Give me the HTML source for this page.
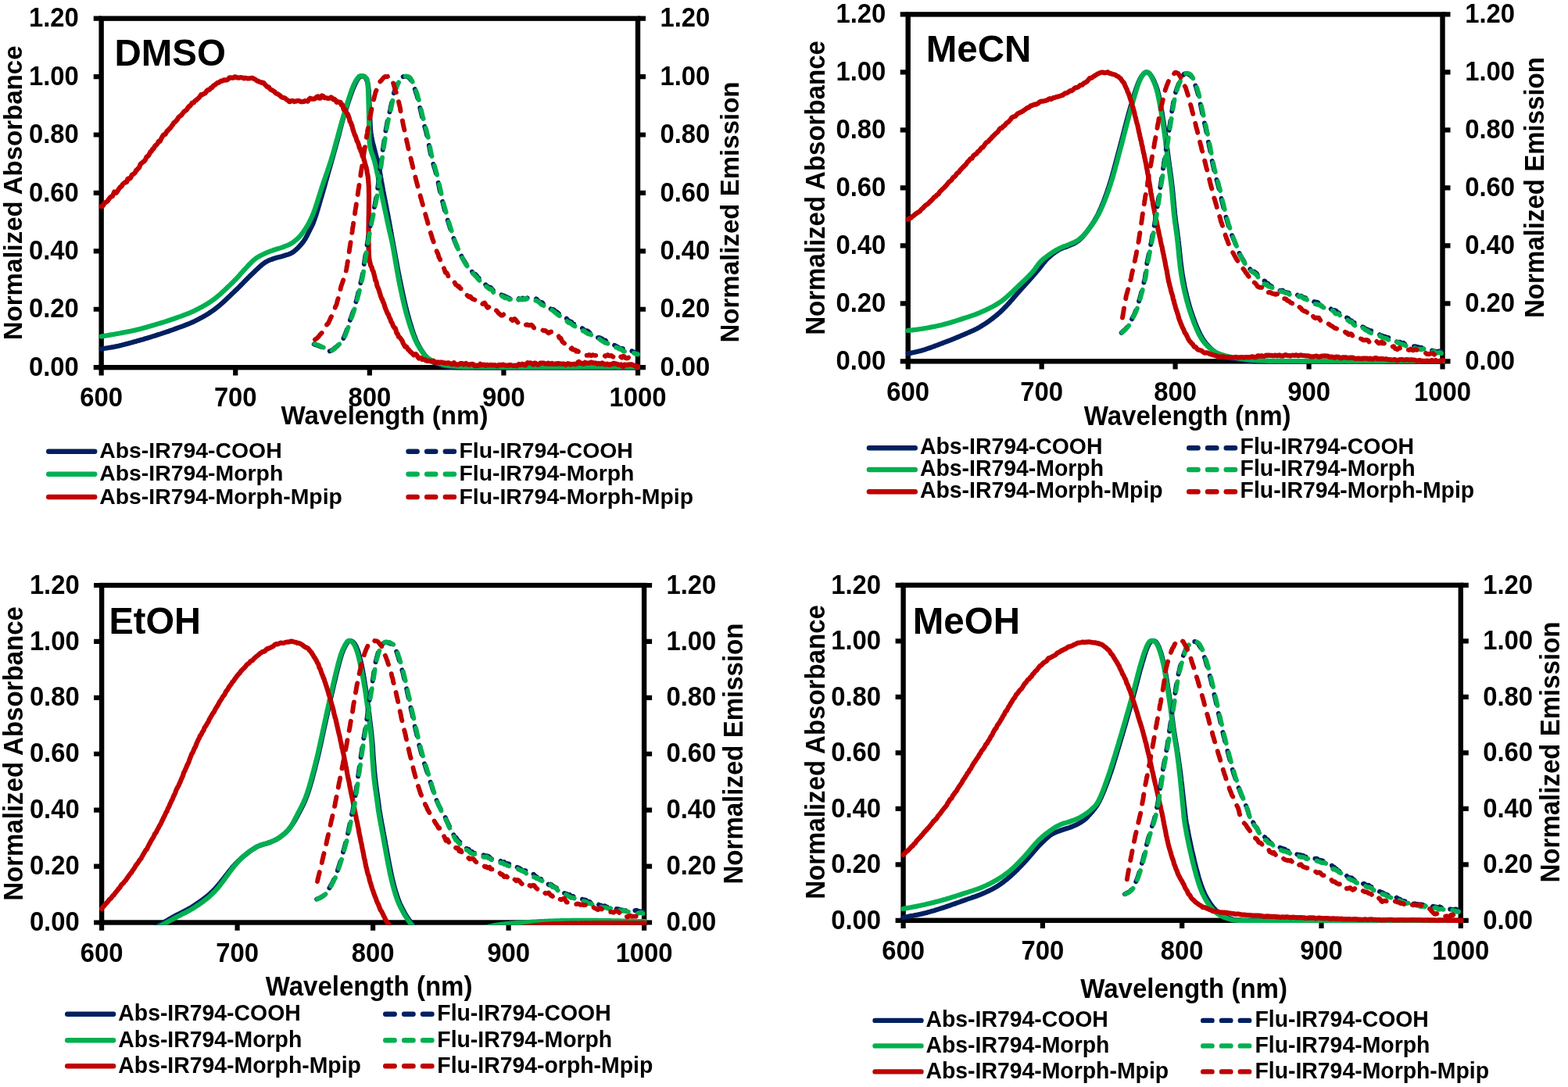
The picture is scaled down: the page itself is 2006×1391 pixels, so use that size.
<!DOCTYPE html>
<html lang="en"><head><meta charset="utf-8"><title>Normalized absorbance and emission spectra</title>
<style>html,body{margin:0;padding:0;background:#fff;}svg{display:block;}</style></head><body>
<svg width="2006" height="1391" viewBox="0 0 2006 1391">
<rect width="2006" height="1391" fill="#fff"/>
<g id="panel1">
<g stroke="#000" fill="none" stroke-linecap="butt">
<rect x="129.65" y="23.65" width="686.35" height="446.55" stroke-width="6.4"/>
<path d="M119.7 470.20H129.7M816.0 470.20H826.0M119.7 395.77H129.7M816.0 395.77H826.0M119.7 321.35H129.7M816.0 321.35H826.0M119.7 246.92H129.7M816.0 246.92H826.0M119.7 172.50H129.7M816.0 172.50H826.0M119.7 98.07H129.7M816.0 98.07H826.0M119.7 23.65H129.7M816.0 23.65H826.0M129.65 470.2V480.4M301.24 470.2V480.4M472.83 470.2V480.4M644.41 470.2V480.4M816.00 470.2V480.4" stroke-width="6.2"/>
</g>
<clipPath id="cp1"><rect x="126.2" y="20.6" width="693.1" height="452.9"/></clipPath>
<g fill="none" stroke-linejoin="round" stroke-linecap="round" clip-path="url(#cp1)">
<path d="M129.6 446.5L130.5 446.4L131.6 446.2L132.8 446.0L134.2 445.8L135.8 445.5L137.4 445.3L139.1 445.0L140.9 444.7L142.7 444.4L144.6 444.1L146.4 443.7L148.2 443.4L150.0 443.0L151.4 442.7L152.7 442.4L154.1 442.0L155.6 441.7L157.0 441.3L158.5 441.0L160.0 440.6L161.5 440.2L163.0 439.8L164.5 439.4L166.0 439.0L167.5 438.6L169.0 438.2L170.5 437.7L172.0 437.3L173.5 436.9L175.0 436.5L176.5 436.1L177.9 435.7L179.4 435.2L180.9 434.8L182.4 434.4L183.8 434.0L185.3 433.5L186.8 433.1L188.2 432.7L189.7 432.2L191.2 431.8L192.6 431.3L194.1 430.9L195.6 430.4L197.1 429.9L198.5 429.5L200.0 429.0L201.5 428.5L202.9 428.1L204.4 427.6L205.9 427.1L207.4 426.6L208.8 426.1L210.3 425.6L211.8 425.2L213.2 424.7L214.7 424.2L216.2 423.7L217.6 423.1L219.1 422.6L220.6 422.1L222.1 421.6L223.5 421.0L225.0 420.5L226.5 420.0L227.9 419.4L229.4 418.9L230.9 418.4L232.4 417.8L233.8 417.3L235.3 416.7L236.8 416.2L238.2 415.6L239.7 415.0L241.2 414.5L242.6 413.9L244.1 413.2L245.6 412.6L247.1 411.9L248.5 411.2L250.0 410.5L251.3 409.8L252.6 409.2L253.9 408.5L255.3 407.8L256.6 407.1L257.9 406.4L259.2 405.7L260.5 404.9L261.8 404.2L263.2 403.4L264.5 402.6L265.8 401.8L267.1 401.0L268.4 400.1L269.7 399.2L271.1 398.3L272.4 397.4L273.7 396.5L275.0 395.5L276.1 394.6L277.3 393.7L278.4 392.8L279.6 391.8L280.8 390.8L282.0 389.8L283.1 388.8L284.3 387.8L285.5 386.7L286.6 385.6L287.8 384.6L289.0 383.5L290.1 382.4L291.3 381.3L292.4 380.2L293.5 379.2L294.7 378.1L295.8 377.0L296.8 376.0L297.9 375.0L299.0 374.0L300.0 373.0L301.2 371.8L302.5 370.6L303.7 369.5L304.8 368.3L306.0 367.2L307.1 366.0L308.3 364.9L309.4 363.7L310.5 362.6L311.6 361.5L312.6 360.4L313.7 359.3L314.8 358.2L315.8 357.1L316.9 356.1L317.9 355.0L319.0 354.0L320.0 353.0L321.2 351.8L322.5 350.6L323.7 349.4L325.0 348.2L326.2 347.0L327.4 345.8L328.6 344.7L329.8 343.6L331.0 342.5L332.1 341.4L333.3 340.4L334.4 339.5L335.4 338.6L336.5 337.8L337.5 337.0L339.1 335.9L340.6 334.9L342.0 334.2L343.4 333.5L344.7 332.9L346.0 332.4L347.3 332.0L348.6 331.5L350.0 331.0L351.6 330.5L353.1 330.0L354.7 329.6L356.2 329.2L357.8 328.8L359.4 328.4L360.9 328.0L362.5 327.5L364.1 327.0L365.6 326.5L367.2 326.1L368.8 325.6L370.3 325.0L371.9 324.3L373.4 323.5L375.0 322.5L376.2 321.7L377.3 320.7L378.5 319.7L379.7 318.6L380.9 317.5L382.1 316.3L383.2 315.0L384.4 313.8L385.5 312.5L386.5 311.3L387.5 310.0L388.4 308.7L389.3 307.4L390.2 306.1L391.0 304.7L391.7 303.4L392.5 302.0L393.2 300.6L393.9 299.2L394.6 297.8L395.3 296.4L396.0 295.0L396.7 293.6L397.4 292.2L398.1 291.0L398.7 289.7L399.3 288.4L399.9 287.1L400.6 285.6L401.2 284.0L401.9 282.1L402.7 280.0L403.1 278.8L403.5 277.6L403.9 276.3L404.4 275.0L404.8 273.6L405.3 272.1L405.7 270.6L406.2 269.1L406.7 267.5L407.1 265.9L407.6 264.3L408.1 262.7L408.6 261.1L409.0 259.5L409.5 257.9L410.0 256.2L410.4 254.6L410.9 253.1L411.4 251.5L411.8 250.0L412.2 248.5L412.7 247.0L413.1 245.6L413.5 244.2L413.9 242.7L414.3 241.3L414.7 239.9L415.1 238.5L415.5 237.1L415.9 235.6L416.3 234.2L416.7 232.7L417.1 231.2L417.6 229.7L418.0 228.2L418.4 226.6L418.9 225.0L419.3 223.4L419.8 221.7L420.3 220.0L420.7 218.7L421.1 217.3L421.4 215.9L421.8 214.5L422.3 213.1L422.7 211.6L423.1 210.1L423.5 208.6L424.0 207.0L424.4 205.5L424.8 203.9L425.3 202.4L425.7 200.8L426.2 199.2L426.6 197.6L427.0 196.1L427.5 194.5L427.9 193.0L428.3 191.4L428.8 189.9L429.2 188.4L429.6 186.9L430.0 185.5L430.4 184.1L430.8 182.7L431.1 181.3L431.5 180.0L432.0 178.3L432.4 176.6L432.8 175.0L433.3 173.4L433.7 171.8L434.1 170.3L434.4 168.8L434.8 167.4L435.2 165.9L435.5 164.5L435.9 163.1L436.3 161.7L436.6 160.2L437.0 158.8L437.4 157.4L437.8 156.0L438.2 154.5L438.6 153.0L439.0 151.5L439.5 150.0L439.9 148.6L440.4 147.1L440.8 145.6L441.3 144.1L441.8 142.6L442.3 141.0L442.8 139.4L443.3 137.9L443.8 136.3L444.3 134.7L444.8 133.2L445.3 131.6L445.8 130.1L446.3 128.6L446.8 127.1L447.3 125.7L447.8 124.3L448.2 122.9L448.7 121.6L449.1 120.3L449.6 119.1L450.0 118.0L450.7 116.0L451.4 114.2L452.1 112.5L452.8 110.9L453.4 109.4L454.1 108.0L454.7 106.7L455.3 105.5L455.8 104.4L456.4 103.3L457.0 102.4L457.5 101.5L459.0 99.5L460.4 98.3L461.7 97.8L463.0 97.5L464.8 97.5L466.5 98.2L468.0 100.0L468.5 100.9L469.0 102.0L469.4 103.1L469.9 104.4L470.3 105.9L470.6 107.7L471.0 109.7L471.3 112.0L471.4 113.2L471.5 114.4L471.7 115.7L471.8 117.1L471.8 118.6L471.9 120.1L472.0 121.6L472.1 123.2L472.1 124.9L472.2 126.5L472.3 128.2L472.4 129.9L472.4 131.6L472.5 133.3L472.6 135.0L472.6 136.7L472.7 138.4L472.8 140.0L472.9 141.5L473.0 143.0L473.0 144.5L473.1 146.0L473.2 147.6L473.2 149.2L473.3 150.8L473.4 152.4L473.4 154.0L473.5 155.6L473.6 157.1L473.6 158.7L473.7 160.2L473.8 161.7L473.9 163.2L474.0 164.7L474.1 166.1L474.2 167.4L474.4 168.7L474.5 170.0L474.7 172.0L475.0 173.7L475.3 175.4L475.6 177.0L475.9 178.4L476.2 179.9L476.6 181.3L476.9 182.7L477.3 184.2L477.7 185.7L478.1 187.3L478.5 189.0L478.8 190.4L479.2 191.7L479.5 193.1L479.9 194.5L480.2 195.9L480.6 197.4L481.0 198.8L481.4 200.3L481.8 201.8L482.2 203.3L482.6 204.9L483.0 206.5L483.4 208.1L483.8 209.7L484.1 211.3L484.5 213.0L484.8 214.4L485.1 215.7L485.3 217.1L485.6 218.5L485.9 219.8L486.1 221.2L486.4 222.7L486.6 224.1L486.9 225.5L487.1 227.0L487.4 228.5L487.7 230.0L487.9 231.5L488.2 233.1L488.5 234.7L488.8 236.3L489.1 237.9L489.4 239.6L489.7 241.3L490.0 243.0L490.2 244.3L490.5 245.7L490.8 247.0L491.0 248.5L491.3 249.9L491.6 251.4L491.9 252.9L492.2 254.4L492.5 255.9L492.8 257.4L493.1 259.0L493.4 260.5L493.7 262.1L494.0 263.7L494.3 265.2L494.6 266.8L494.9 268.3L495.2 269.9L495.5 271.4L495.8 272.9L496.1 274.5L496.4 275.9L496.6 277.4L496.9 278.9L497.2 280.3L497.4 281.6L497.7 283.0L498.0 284.7L498.3 286.3L498.6 287.9L498.9 289.4L499.2 290.9L499.4 292.3L499.7 293.8L499.9 295.2L500.2 296.6L500.4 298.0L500.7 299.4L500.9 300.8L501.2 302.2L501.4 303.7L501.7 305.1L502.0 306.7L502.3 308.2L502.5 309.8L502.9 311.5L503.2 313.2L503.5 315.0L503.7 316.3L504.0 317.6L504.2 319.0L504.5 320.4L504.8 321.8L505.0 323.2L505.3 324.7L505.6 326.2L505.8 327.7L506.1 329.2L506.4 330.8L506.7 332.3L507.0 333.9L507.3 335.4L507.6 337.0L507.8 338.6L508.1 340.2L508.4 341.7L508.7 343.3L509.0 344.9L509.3 346.5L509.6 348.0L509.9 349.6L510.2 351.1L510.5 352.6L510.8 354.2L511.1 355.6L511.4 357.1L511.7 358.6L512.0 360.0L512.3 361.6L512.6 363.1L513.0 364.7L513.3 366.3L513.6 367.8L513.9 369.4L514.3 370.9L514.6 372.5L514.9 374.0L515.3 375.5L515.6 377.0L515.9 378.6L516.2 380.1L516.6 381.6L516.9 383.0L517.2 384.5L517.6 386.0L517.9 387.4L518.2 388.9L518.6 390.3L518.9 391.7L519.3 393.2L519.6 394.6L520.0 395.9L520.3 397.3L520.6 398.7L521.0 400.0L521.4 401.6L521.9 403.3L522.3 404.9L522.8 406.5L523.2 408.1L523.7 409.7L524.1 411.2L524.6 412.8L525.0 414.3L525.5 415.8L525.9 417.3L526.4 418.8L526.9 420.2L527.3 421.7L527.8 423.1L528.2 424.4L528.7 425.8L529.2 427.1L529.6 428.4L530.1 429.6L530.5 430.8L531.0 432.0L531.7 433.8L532.4 435.5L533.1 437.1L533.9 438.6L534.6 440.1L535.3 441.5L536.0 442.8L536.7 444.1L537.4 445.4L538.1 446.6L538.9 447.7L539.6 448.8L540.3 449.9L541.0 451.0L542.1 452.6L543.1 454.0L544.2 455.3L545.2 456.5L546.3 457.6L547.4 458.6L548.5 459.6L549.7 460.6L551.0 461.5L552.2 462.3L553.5 463.0L554.9 463.7L556.3 464.4L557.7 465.0L559.1 465.6L560.6 466.1L562.1 466.6L563.5 467.1L565.0 467.5L566.3 467.9L567.5 468.3L568.6 468.6L569.7 468.8L570.9 469.1L572.2 469.3L573.6 469.5L575.4 469.7L577.5 469.8L580.0 470.0L581.0 470.1L581.8 470.1L582.6 470.2L583.2 470.2L583.8 470.3L584.3 470.3L584.8 470.4L585.4 470.4L585.9 470.4L586.5 470.5L587.1 470.5L587.8 470.5L588.7 470.6L589.7 470.6L590.8 470.6L592.1 470.6L593.6 470.6L595.4 470.7L597.4 470.7L599.6 470.7L602.1 470.7L605.0 470.7L608.2 470.8L611.7 470.8L615.7 470.8L620.0 470.8L620.9 470.8L621.9 470.8L622.9 470.8L623.9 470.8L624.9 470.8L626.0 470.8L627.1 470.8L628.2 470.8L629.3 470.8L630.5 470.8L631.7 470.8L632.9 470.8L634.2 470.8L635.4 470.8L636.7 470.8L638.0 470.8L639.4 470.8L640.7 470.8L642.1 470.8L643.5 470.8L644.9 470.8L646.4 470.8L647.9 470.8L649.3 470.8L650.8 470.9L652.4 470.9L653.9 470.9L655.4 470.9L657.0 470.9L658.6 470.9L660.2 470.9L661.8 470.9L663.4 470.9L665.1 470.9L666.7 470.9L668.4 470.9L670.1 470.9L671.8 470.9L673.5 470.9L675.2 470.9L677.0 470.9L678.7 470.9L680.5 470.9L682.2 470.9L684.0 470.9L685.8 470.9L687.5 470.9L689.3 470.9L691.1 470.9L692.9 470.9L694.8 470.9L696.6 470.9L698.4 470.9L700.2 470.9L702.1 470.9L703.9 470.9L705.7 470.9L707.6 470.9L709.4 470.9L711.3 470.9L713.1 470.9L715.0 470.9L716.8 470.9L718.7 470.9L720.5 470.9L722.3 470.8L724.2 470.8L726.0 470.8L727.9 470.8L729.7 470.8L731.5 470.8L733.4 470.8L735.2 470.8L737.0 470.8L738.8 470.8L740.6 470.8L742.4 470.8L744.2 470.8L746.0 470.8L747.8 470.8L749.6 470.8L751.3 470.8L753.1 470.8L754.8 470.8L756.5 470.8L758.3 470.8L760.0 470.8L761.7 470.8L763.4 470.8L765.0 470.8L766.7 470.8L768.3 470.8L770.0 470.8L771.6 470.8L773.2 470.8L774.8 470.8L776.3 470.8L777.9 470.8L779.4 470.8L781.0 470.8L782.5 470.8L783.9 470.8L785.4 470.8L786.8 470.8L788.3 470.8L789.7 470.8L791.1 470.8L792.4 470.8L793.8 470.8L795.1 470.8L796.4 470.8L797.6 470.8L798.9 470.8L800.1 470.8L801.3 470.8L802.5 470.8L803.6 470.8L804.8 470.8L805.9 470.8L806.9 470.8L808.0 470.8L809.0 470.8L810.0 470.8L810.9 470.8L811.8 470.8L812.7 470.8L813.6 470.8L814.4 470.8L815.2 470.8L816.0 470.8" stroke="#002060" stroke-width="6.2"/>
<path d="M129.6 430.5L130.5 430.3L131.6 430.2L132.8 430.0L134.2 429.7L135.8 429.5L137.4 429.2L139.1 428.9L140.9 428.6L142.7 428.3L144.6 428.0L146.4 427.7L148.2 427.3L150.0 427.0L151.4 426.7L152.9 426.5L154.4 426.2L155.9 425.9L157.5 425.6L159.0 425.3L160.6 425.0L162.2 424.7L163.8 424.4L165.4 424.1L167.0 423.8L168.6 423.4L170.2 423.1L171.8 422.7L173.4 422.4L175.0 422.0L176.5 421.6L177.9 421.3L179.4 420.9L180.9 420.5L182.4 420.1L183.8 419.7L185.3 419.3L186.8 418.9L188.2 418.5L189.7 418.1L191.2 417.6L192.6 417.2L194.1 416.8L195.6 416.3L197.1 415.9L198.5 415.4L200.0 415.0L201.5 414.6L202.9 414.1L204.4 413.7L205.9 413.2L207.4 412.8L208.8 412.3L210.3 411.9L211.8 411.4L213.2 411.0L214.7 410.5L216.2 410.0L217.6 409.5L219.1 409.0L220.6 408.5L222.1 408.0L223.5 407.5L225.0 407.0L226.5 406.5L227.9 405.9L229.4 405.4L230.9 404.9L232.4 404.4L233.8 403.8L235.3 403.3L236.8 402.7L238.2 402.2L239.7 401.6L241.2 401.0L242.6 400.4L244.1 399.7L245.6 399.1L247.1 398.4L248.5 397.7L250.0 397.0L251.3 396.3L252.6 395.7L253.9 395.0L255.3 394.3L256.6 393.6L257.9 392.9L259.2 392.2L260.5 391.4L261.8 390.7L263.2 389.9L264.5 389.1L265.8 388.3L267.1 387.5L268.4 386.6L269.7 385.8L271.1 384.9L272.4 383.9L273.7 383.0L275.0 382.0L276.2 381.1L277.3 380.2L278.5 379.2L279.7 378.1L281.0 377.1L282.2 376.0L283.5 374.9L284.7 373.7L286.0 372.6L287.2 371.4L288.4 370.2L289.7 369.1L290.8 367.9L292.0 366.8L293.2 365.7L294.3 364.6L295.3 363.6L296.4 362.6L297.4 361.6L298.3 360.7L299.2 359.8L300.0 359.0L301.7 357.3L303.1 355.8L304.3 354.6L305.2 353.5L306.0 352.5L306.9 351.6L307.7 350.5L308.8 349.4L310.0 348.0L310.9 347.0L311.9 346.0L312.9 344.8L314.0 343.7L315.1 342.5L316.2 341.3L317.3 340.0L318.5 338.8L319.6 337.6L320.8 336.5L321.9 335.4L322.9 334.3L324.0 333.4L325.0 332.5L326.5 331.3L327.9 330.2L329.4 329.3L330.7 328.5L332.1 327.7L333.4 327.0L334.8 326.3L336.1 325.7L337.5 325.0L339.1 324.2L340.6 323.6L342.2 322.9L343.8 322.3L345.3 321.7L346.9 321.1L348.4 320.6L350.0 320.0L351.6 319.5L353.1 319.0L354.7 318.5L356.2 318.1L357.8 317.6L359.4 317.1L360.9 316.6L362.5 316.0L363.9 315.5L365.3 314.9L366.7 314.4L368.1 313.8L369.4 313.2L370.8 312.6L372.2 311.8L373.6 311.0L375.0 310.0L376.1 309.1L377.3 308.3L378.4 307.3L379.5 306.4L380.7 305.3L381.8 304.2L383.0 303.1L384.1 301.8L385.2 300.5L386.4 299.0L387.5 297.5L388.2 296.5L389.0 295.4L389.7 294.3L390.4 293.2L391.2 292.1L391.9 290.9L392.6 289.7L393.4 288.5L394.1 287.2L394.9 285.8L395.6 284.5L396.3 283.0L397.1 281.5L397.8 280.0L398.5 278.4L399.3 276.7L400.0 275.0L400.5 273.8L401.0 272.6L401.4 271.4L401.9 270.1L402.4 268.7L402.9 267.4L403.4 266.0L403.8 264.6L404.3 263.1L404.8 261.7L405.3 260.2L405.8 258.7L406.2 257.2L406.7 255.7L407.2 254.1L407.7 252.6L408.2 251.1L408.7 249.5L409.1 248.0L409.6 246.5L410.1 244.9L410.6 243.4L411.1 241.9L411.5 240.4L412.0 239.0L412.5 237.5L413.0 236.1L413.5 234.6L413.9 233.2L414.4 231.8L414.9 230.4L415.4 229.0L415.9 227.6L416.3 226.2L416.8 224.8L417.3 223.4L417.8 222.0L418.3 220.6L418.8 219.2L419.2 217.8L419.7 216.4L420.2 215.0L420.7 213.5L421.2 212.1L421.6 210.6L422.1 209.2L422.6 207.7L423.1 206.2L423.6 204.7L424.0 203.1L424.5 201.6L425.0 200.0L425.4 198.7L425.8 197.3L426.2 195.9L426.6 194.5L427.0 193.1L427.4 191.7L427.8 190.2L428.2 188.8L428.6 187.3L429.0 185.9L429.4 184.4L429.8 182.9L430.2 181.4L430.6 179.9L431.0 178.4L431.5 176.9L431.9 175.4L432.3 173.9L432.7 172.4L433.1 170.9L433.5 169.4L433.9 167.9L434.3 166.4L434.7 165.0L435.1 163.5L435.5 162.1L435.9 160.6L436.3 159.2L436.7 157.8L437.1 156.4L437.5 155.0L438.0 153.4L438.4 151.8L438.9 150.2L439.4 148.6L439.9 146.9L440.4 145.3L440.9 143.7L441.4 142.0L441.9 140.4L442.3 138.7L442.8 137.1L443.3 135.5L443.8 133.9L444.3 132.3L444.8 130.8L445.3 129.3L445.7 127.8L446.2 126.3L446.7 124.9L447.1 123.5L447.6 122.1L448.0 120.8L448.4 119.5L448.8 118.3L449.2 117.2L449.6 116.0L450.0 115.0L450.9 112.7L451.7 110.6L452.5 108.8L453.2 107.2L453.9 105.8L454.5 104.6L455.2 103.5L455.8 102.5L456.4 101.7L456.9 100.8L457.5 100.0L459.4 97.9L460.9 97.2L462.5 97.0L464.2 97.1L466.0 97.7L467.5 99.0L468.1 99.6L468.7 100.1L469.2 100.7L469.7 101.9L470.1 104.0L470.5 107.5L470.6 108.5L470.7 109.5L470.7 110.6L470.8 111.9L470.9 113.1L470.9 114.5L471.0 115.9L471.1 117.4L471.1 118.9L471.2 120.5L471.2 122.1L471.3 123.7L471.3 125.4L471.4 127.1L471.4 128.8L471.5 130.5L471.5 132.3L471.6 134.0L471.6 135.7L471.7 137.4L471.7 139.1L471.7 140.8L471.8 142.4L471.8 144.0L471.9 145.6L471.9 147.1L472.0 148.6L472.0 150.0L472.0 151.7L472.1 153.3L472.1 155.0L472.1 156.7L472.1 158.3L472.1 159.9L472.1 161.5L472.1 163.1L472.1 164.7L472.1 166.3L472.2 167.8L472.2 169.4L472.2 170.9L472.2 172.4L472.2 173.9L472.3 175.3L472.3 176.8L472.4 178.2L472.5 179.6L472.6 181.0L472.7 182.3L472.8 183.7L473.0 185.0L473.3 186.7L473.5 188.3L473.9 189.8L474.2 191.3L474.6 192.6L475.0 194.0L475.4 195.3L475.8 196.5L476.3 197.8L476.7 199.1L477.2 200.5L477.6 201.9L478.1 203.3L478.6 204.8L479.1 206.4L479.5 208.2L480.0 210.0L480.3 211.2L480.6 212.5L480.9 213.8L481.2 215.1L481.5 216.5L481.8 217.9L482.1 219.3L482.4 220.8L482.7 222.2L483.0 223.7L483.4 225.2L483.7 226.7L484.0 228.3L484.3 229.8L484.6 231.4L485.0 233.0L485.3 234.5L485.6 236.1L485.9 237.7L486.3 239.3L486.6 240.8L486.9 242.4L487.2 243.9L487.5 245.5L487.9 247.0L488.2 248.5L488.5 250.0L488.8 251.5L489.1 253.0L489.5 254.5L489.8 256.1L490.1 257.6L490.4 259.2L490.8 260.7L491.1 262.3L491.4 263.9L491.8 265.5L492.1 267.0L492.4 268.6L492.8 270.2L493.1 271.7L493.4 273.3L493.8 274.8L494.1 276.3L494.4 277.8L494.7 279.2L495.0 280.7L495.3 282.1L495.6 283.5L495.9 284.9L496.2 286.2L496.5 287.5L496.7 288.8L497.0 290.0L497.4 291.8L497.8 293.5L498.1 295.1L498.4 296.5L498.8 297.8L499.1 299.1L499.4 300.4L499.6 301.6L499.9 302.8L500.2 304.0L500.5 305.3L500.8 306.6L501.1 308.1L501.4 309.6L501.8 311.2L502.1 313.0L502.5 315.0L502.7 316.2L503.0 317.4L503.2 318.7L503.4 320.0L503.7 321.4L503.9 322.8L504.2 324.2L504.4 325.7L504.7 327.2L504.9 328.7L505.2 330.2L505.5 331.8L505.7 333.4L506.0 335.0L506.3 336.6L506.6 338.2L506.8 339.8L507.1 341.4L507.4 343.0L507.7 344.6L507.9 346.2L508.2 347.8L508.5 349.4L508.8 351.0L509.1 352.6L509.4 354.1L509.6 355.6L509.9 357.1L510.2 358.6L510.5 360.0L510.8 361.6L511.1 363.1L511.4 364.7L511.8 366.3L512.1 367.8L512.4 369.4L512.7 370.9L513.0 372.5L513.4 374.0L513.7 375.5L514.0 377.0L514.3 378.6L514.7 380.1L515.0 381.6L515.3 383.0L515.7 384.5L516.0 386.0L516.4 387.4L516.7 388.9L517.0 390.3L517.4 391.7L517.7 393.2L518.1 394.6L518.4 395.9L518.8 397.3L519.1 398.7L519.5 400.0L519.9 401.6L520.4 403.3L520.9 404.9L521.3 406.5L521.8 408.1L522.3 409.7L522.7 411.3L523.2 412.8L523.7 414.4L524.2 415.9L524.7 417.4L525.2 418.9L525.7 420.3L526.2 421.7L526.6 423.1L527.1 424.5L527.6 425.8L528.1 427.1L528.6 428.4L529.1 429.6L529.5 430.8L530.0 432.0L530.8 433.9L531.6 435.6L532.3 437.3L533.1 438.8L533.9 440.3L534.6 441.7L535.4 443.0L536.2 444.3L536.9 445.5L537.7 446.7L538.5 447.8L539.2 448.9L540.0 450.0L541.1 451.5L542.1 452.8L543.1 454.1L544.2 455.2L545.2 456.3L546.3 457.3L547.4 458.2L548.7 459.1L550.0 460.0L551.3 460.8L552.7 461.5L554.1 462.2L555.6 462.9L557.2 463.5L558.8 464.0L560.3 464.6L561.9 465.1L563.5 465.6L565.0 466.0L566.4 466.4L567.6 466.7L568.7 467.1L569.8 467.3L570.9 467.6L572.2 467.8L573.7 468.0L575.4 468.2L577.5 468.3L580.0 468.5L581.0 468.6L581.8 468.6L582.6 468.7L583.2 468.7L583.8 468.8L584.3 468.9L584.8 468.9L585.4 469.0L585.9 469.0L586.5 469.0L587.1 469.1L587.8 469.1L588.7 469.2L589.7 469.2L590.8 469.2L592.1 469.3L593.6 469.3L595.4 469.3L597.4 469.3L599.6 469.4L602.1 469.4L605.0 469.4L608.2 469.4L611.7 469.5L615.7 469.5L620.0 469.5L620.9 469.5L621.9 469.5L622.9 469.5L623.9 469.5L624.9 469.5L626.0 469.5L627.1 469.5L628.2 469.5L629.3 469.5L630.5 469.5L631.7 469.5L632.9 469.5L634.2 469.5L635.4 469.5L636.7 469.5L638.0 469.5L639.4 469.5L640.7 469.6L642.1 469.6L643.5 469.6L644.9 469.6L646.4 469.6L647.9 469.6L649.3 469.6L650.8 469.6L652.4 469.6L653.9 469.6L655.4 469.6L657.0 469.6L658.6 469.6L660.2 469.6L661.8 469.6L663.4 469.6L665.1 469.6L666.7 469.6L668.4 469.6L670.1 469.6L671.8 469.6L673.5 469.6L675.2 469.6L677.0 469.6L678.7 469.6L680.5 469.6L682.2 469.6L684.0 469.6L685.8 469.6L687.5 469.6L689.3 469.6L691.1 469.6L692.9 469.6L694.8 469.6L696.6 469.6L698.4 469.6L700.2 469.6L702.1 469.6L703.9 469.6L705.7 469.6L707.6 469.6L709.4 469.6L711.3 469.6L713.1 469.6L715.0 469.6L716.8 469.6L718.7 469.6L720.5 469.6L722.3 469.6L724.2 469.6L726.0 469.6L727.9 469.6L729.7 469.6L731.5 469.6L733.4 469.6L735.2 469.6L737.0 469.6L738.8 469.6L740.6 469.6L742.4 469.5L744.2 469.5L746.0 469.5L747.8 469.5L749.6 469.5L751.3 469.5L753.1 469.5L754.8 469.5L756.5 469.5L758.3 469.5L760.0 469.5L761.7 469.5L763.4 469.5L765.0 469.5L766.7 469.5L768.3 469.5L770.0 469.5L771.6 469.5L773.2 469.5L774.8 469.5L776.3 469.5L777.9 469.5L779.4 469.5L781.0 469.5L782.5 469.5L783.9 469.5L785.4 469.5L786.8 469.5L788.3 469.5L789.7 469.5L791.1 469.5L792.4 469.5L793.8 469.5L795.1 469.5L796.4 469.5L797.6 469.5L798.9 469.5L800.1 469.5L801.3 469.5L802.5 469.5L803.6 469.5L804.8 469.5L805.9 469.5L806.9 469.5L808.0 469.5L809.0 469.5L810.0 469.5L810.9 469.5L811.8 469.5L812.7 469.5L813.6 469.5L814.4 469.5L815.2 469.5L816.0 469.5" stroke="#00B050" stroke-width="6.2"/>
<path d="M129.6 264.0L130.2 263.6L130.9 264.0L131.6 263.1L132.5 262.1L133.4 260.3L134.4 259.4L135.4 258.7L136.5 258.3L137.7 257.2L138.8 255.6L140.0 253.9L141.3 252.3L142.5 251.4L143.8 251.2L145.0 248.6L146.3 245.5L147.6 246.6L148.8 246.9L150.0 245.0L151.0 243.5L151.9 241.9L152.9 240.7L153.9 239.2L154.9 238.9L155.9 238.0L157.0 235.7L158.0 234.8L159.0 234.2L160.1 233.1L161.1 233.4L162.2 232.8L163.3 229.0L164.4 228.3L165.4 228.9L166.5 228.2L167.6 226.8L168.6 223.9L169.7 223.3L170.8 222.7L171.8 222.0L172.9 220.8L174.0 218.1L175.0 218.0L175.9 216.5L176.9 215.5L177.8 214.8L178.7 212.9L179.6 210.3L180.6 209.3L181.5 208.6L182.4 207.8L183.3 206.9L184.3 206.7L185.2 205.5L186.1 204.2L187.0 201.9L188.0 200.2L188.9 200.0L189.8 199.3L190.7 197.9L191.7 195.9L192.6 193.9L193.5 194.0L194.4 192.5L195.4 190.5L196.3 190.5L197.2 189.2L198.1 187.0L199.1 186.4L200.0 185.2L201.0 184.5L201.9 183.0L202.9 180.9L203.8 181.3L204.8 180.7L205.8 178.4L206.7 176.6L207.7 174.7L208.7 173.4L209.6 172.2L210.6 171.9L211.5 171.8L212.5 169.9L213.5 168.0L214.4 167.3L215.4 166.3L216.3 165.3L217.3 164.3L218.3 163.2L219.2 162.1L220.2 160.2L221.2 159.4L222.1 157.4L223.1 156.5L224.0 156.0L225.0 155.1L226.0 153.9L227.1 152.7L228.1 150.6L229.2 149.4L230.2 148.6L231.2 148.0L232.3 147.2L233.3 145.6L234.4 144.2L235.4 143.0L236.5 142.1L237.5 141.6L238.5 140.8L239.6 139.4L240.6 137.5L241.7 136.2L242.7 136.1L243.8 134.6L244.8 133.3L245.8 131.5L246.9 131.5L247.9 131.3L249.0 129.6L250.0 128.6L251.2 128.1L252.4 126.9L253.7 125.8L254.9 124.7L256.2 122.8L257.4 121.0L258.7 121.3L260.0 120.4L261.2 119.8L262.5 119.4L263.7 117.5L265.0 115.8L266.2 114.8L267.4 115.2L268.6 114.2L269.7 112.6L270.9 112.3L272.0 110.9L273.0 109.7L274.0 109.1L275.0 108.7L276.8 107.0L278.4 105.9L279.9 105.7L281.4 104.6L282.8 103.5L284.1 103.7L285.3 102.9L286.5 102.3L287.7 102.7L288.9 102.3L290.0 102.5L291.9 101.4L293.6 99.3L295.2 99.3L296.7 99.7L298.3 99.7L300.0 98.4L301.4 98.3L302.8 99.4L304.3 99.4L305.8 99.7L307.3 99.1L308.9 99.2L310.4 99.5L312.0 100.4L313.6 99.7L315.2 100.1L316.8 100.5L318.5 100.3L320.1 100.1L321.8 99.8L323.4 99.8L325.0 101.1L326.4 101.5L327.8 102.7L329.2 103.6L330.6 103.9L332.0 104.8L333.4 105.1L334.7 105.9L336.1 105.5L337.5 106.1L338.8 108.2L340.0 109.0L341.2 110.6L342.5 111.4L343.8 111.4L345.0 113.4L346.2 114.6L347.5 115.0L348.8 115.9L350.0 116.5L351.4 117.5L352.8 119.3L354.2 119.8L355.6 120.5L356.9 121.3L358.3 122.4L359.7 123.8L361.1 124.8L362.5 125.0L364.0 125.2L365.6 126.4L367.1 127.8L368.6 128.5L370.1 130.1L371.7 129.9L373.3 128.9L375.0 129.1L376.4 130.1L377.9 129.6L379.5 129.4L381.1 128.8L382.7 129.0L384.2 129.9L385.8 130.3L387.3 130.1L388.7 130.0L390.0 129.0L392.0 129.3L393.7 129.7L395.3 127.3L396.9 125.7L398.4 126.4L400.0 126.7L401.7 126.7L403.3 125.9L405.0 124.0L406.7 123.3L408.3 125.7L410.0 125.6L411.7 122.5L413.4 123.0L415.1 125.2L416.8 125.2L418.4 125.5L420.0 126.0L421.7 125.7L423.4 124.5L425.0 125.3L426.5 127.3L428.0 126.9L429.4 128.2L430.7 130.8L432.0 130.7L433.4 130.4L435.0 131.4L435.7 131.0L436.5 134.0L437.3 134.7L438.1 134.1L439.0 137.9L439.8 140.3L440.7 139.3L441.6 140.7L442.4 142.6L443.3 144.6L444.2 145.0L445.0 146.3L445.5 147.6L446.1 149.5L446.6 150.9L447.1 152.6L447.6 155.2L448.2 156.4L448.7 156.5L449.2 157.9L449.7 160.0L450.3 160.5L450.8 162.9L451.3 165.0L451.8 166.5L452.4 168.5L452.9 169.6L453.4 171.4L453.9 172.9L454.5 173.2L455.0 174.7L455.5 176.4L456.1 178.4L456.6 180.7L457.2 180.7L457.7 181.8L458.3 183.5L458.9 185.2L459.4 187.4L460.0 189.6L460.6 189.5L461.1 190.8L461.6 193.6L462.2 194.3L462.7 195.7L463.2 197.6L463.7 199.4L464.1 200.6L464.6 200.1L465.0 201.1L465.5 203.8L466.0 205.6L466.5 206.9L466.9 209.3L467.3 210.1L467.7 211.4L468.1 213.8L468.5 213.9L468.8 215.5L469.1 217.4L469.4 218.5L469.7 221.4L470.0 222.3L470.3 223.6L470.5 224.8L470.7 225.6L470.9 227.6L471.1 229.9L471.2 230.8L471.3 232.1L471.4 233.2L471.5 235.0L471.6 236.3L471.7 237.4L471.8 239.2L471.8 240.8L471.9 242.2L471.9 243.6L471.9 245.6L472.0 247.6L472.0 250.6L472.0 251.6L472.0 252.8L472.0 253.7L472.0 255.1L472.0 255.7L472.0 256.9L472.0 259.7L472.0 261.4L472.0 261.2L471.9 262.8L471.9 265.2L471.9 266.6L471.9 267.6L471.9 269.0L471.8 272.4L471.8 274.0L471.8 275.6L471.7 277.7L471.7 278.5L471.7 280.2L471.7 282.2L471.6 283.1L471.6 285.0L471.6 287.0L471.6 288.7L471.5 290.0L471.5 291.2L471.5 292.9L471.5 294.0L471.5 296.2L471.5 297.9L471.5 298.8L471.5 299.8L471.5 302.0L471.5 303.9L471.5 305.3L471.5 307.6L471.5 310.4L471.6 312.6L471.6 313.6L471.6 314.2L471.6 317.5L471.6 318.7L471.7 319.2L471.7 320.0L471.8 321.5L471.8 322.9L471.9 324.0L472.0 325.6L472.0 327.2L472.1 328.5L472.2 329.7L472.4 329.8L472.5 331.6L472.8 333.7L473.1 335.2L473.4 336.1L473.8 338.0L474.2 339.8L474.7 340.5L475.1 341.3L475.7 342.4L476.2 344.9L476.8 346.2L477.5 347.1L477.8 348.2L478.2 350.0L478.6 351.4L479.0 352.7L479.4 354.3L479.8 356.4L480.2 358.6L480.7 358.9L481.1 359.7L481.6 361.3L482.0 363.6L482.5 365.9L483.0 367.3L483.5 368.0L484.0 369.4L484.5 370.5L485.0 372.1L485.5 374.1L486.0 375.2L486.5 376.9L487.0 379.2L487.5 380.2L488.0 381.5L488.6 383.0L489.2 383.3L489.8 385.7L490.4 387.1L491.0 387.6L491.6 390.1L492.2 392.2L492.8 393.8L493.4 395.4L494.1 397.2L494.7 398.5L495.3 400.0L495.9 401.5L496.5 401.7L497.1 403.2L497.7 405.3L498.3 406.6L498.9 407.7L499.5 408.7L500.0 410.8L500.8 412.6L501.6 413.1L502.3 415.4L503.0 417.2L503.8 418.3L504.5 419.6L505.2 419.6L505.8 420.0L506.5 422.4L507.2 425.4L507.9 427.0L508.6 427.0L509.3 428.7L510.0 431.1L510.8 431.3L511.6 432.0L512.5 433.1L513.3 434.4L514.1 435.4L514.9 436.9L515.7 439.1L516.5 440.7L517.4 442.2L518.2 443.6L519.1 444.0L520.0 443.7L521.1 445.5L522.2 447.4L523.3 447.9L524.4 449.6L525.5 450.5L526.7 451.5L527.9 452.8L529.2 454.3L530.5 453.5L532.0 453.1L533.3 454.7L534.6 456.8L535.9 458.5L537.3 458.1L538.7 458.1L540.2 460.0L541.7 460.0L543.3 460.0L544.9 461.3L546.5 462.0L548.2 461.7L550.0 462.3L551.4 462.5L552.8 462.0L554.3 461.7L555.8 462.7L557.3 464.5L558.9 464.1L560.5 463.4L562.1 463.9L563.7 463.5L565.3 463.5L567.0 464.2L568.6 464.3L570.2 464.8L571.8 464.8L573.4 464.3L575.0 464.8L576.5 465.5L578.0 466.3L579.5 464.9L581.0 464.1L582.4 466.4L583.8 466.4L585.3 466.6L586.8 466.5L588.2 465.5L589.7 465.0L591.3 465.1L592.9 466.5L594.6 465.5L596.3 464.9L598.1 466.2L600.0 466.8L601.3 466.3L602.7 466.0L604.0 465.9L605.5 466.1L606.9 467.9L608.4 468.1L609.9 467.5L611.4 467.9L613.0 467.6L614.5 465.8L616.1 467.4L617.7 466.9L619.3 466.6L620.9 467.9L622.5 466.8L624.1 467.3L625.8 467.5L627.4 466.8L629.0 467.3L630.6 467.4L632.2 467.1L633.8 467.3L635.4 468.2L637.0 467.9L638.5 466.8L640.0 467.1L641.6 467.4L643.2 466.5L644.7 467.1L646.3 467.4L647.9 467.6L649.5 467.7L651.1 467.4L652.8 466.8L654.4 467.4L656.0 467.9L657.5 467.7L659.1 467.5L660.7 468.3L662.2 467.3L663.8 466.0L665.3 466.8L666.8 466.4L668.2 465.7L669.6 466.5L671.0 467.1L672.4 467.4L673.7 465.3L675.0 464.2L676.9 464.5L678.7 464.3L680.5 465.6L682.2 466.5L683.8 464.6L685.3 464.9L686.8 466.3L688.3 466.6L689.8 466.2L691.2 464.6L692.6 464.7L694.1 464.6L695.5 464.5L697.0 465.3L698.5 465.7L700.0 465.4L701.6 464.6L703.1 465.9L704.7 465.6L706.2 464.9L707.8 465.9L709.4 465.8L710.9 465.4L712.5 465.6L714.1 465.0L715.6 465.2L717.2 465.7L718.8 465.7L720.3 465.7L721.9 465.7L723.4 466.8L725.0 466.2L726.6 465.2L728.1 465.6L729.7 466.4L731.2 466.0L732.8 466.0L734.4 465.8L735.9 466.2L737.5 465.8L739.1 463.9L740.6 462.9L742.2 465.0L743.8 464.7L745.3 465.2L746.9 465.7L748.4 463.8L750.0 464.6L751.6 464.5L753.1 464.6L754.7 464.4L756.2 463.5L757.8 464.0L759.4 464.4L760.9 464.5L762.5 464.7L764.1 465.8L765.6 464.9L767.2 465.4L768.8 465.6L770.3 464.4L771.9 465.3L773.4 466.3L775.0 466.4L776.6 465.6L778.2 466.4L779.8 467.0L781.5 466.0L783.1 466.1L784.8 464.8L786.4 465.1L788.1 465.7L789.7 465.9L791.3 467.0L792.9 467.0L794.4 466.5L795.9 468.3L797.3 469.3L798.7 466.6L800.0 466.6L802.0 467.2L804.0 466.5L806.0 466.4L807.8 466.3L809.6 466.9L811.2 467.7L812.7 468.2L814.0 469.1L815.1 468.9L816.0 468.9" stroke="#C00000" stroke-width="6.2"/>
<path d="M401.7 440.4L402.6 440.9L403.8 441.2L405.3 441.7L406.9 442.2L408.6 442.9L410.2 443.5L411.7 444.2L413.1 445.1L414.6 446.1L416.0 447.0L417.4 447.8L418.8 448.6L420.3 449.0L421.7 449.4L423.0 448.9L424.3 448.3L425.6 447.7L426.9 446.7L428.1 445.4L429.4 444.4L430.6 443.6L431.7 442.6L432.9 441.2L434.0 440.1L435.1 439.3L436.1 438.4L437.1 437.0L438.2 435.2L439.2 433.5L439.7 432.2L440.3 430.9L440.8 429.5L441.3 428.3L441.9 427.0L442.4 425.5L442.9 424.2L443.5 422.8L444.0 421.2L444.6 419.5L445.1 417.9L445.6 416.2L446.2 414.8L446.7 413.4L447.2 411.9L447.7 410.3L448.2 408.9L448.7 407.7L449.2 406.5L449.7 405.1L450.2 403.3L450.7 401.8L451.2 400.3L451.7 399.1L452.2 397.6L452.7 395.7L453.2 394.2L453.7 392.6L454.2 390.9L454.6 389.5L455.0 388.0L455.4 386.4L455.8 385.0L456.2 383.7L456.6 381.8L457.0 379.9L457.4 378.5L457.9 376.7L458.3 374.7L458.7 373.2L459.1 372.0L459.4 370.5L459.8 368.9L460.2 367.2L460.5 365.8L460.8 364.4L461.2 363.0L461.4 361.9L461.7 360.7L462.2 358.7L462.6 357.4L462.8 356.5L462.9 355.8L463.1 354.8L463.3 353.7L463.7 351.9L464.2 348.5L464.4 347.3L464.5 346.2L464.7 345.1L464.9 344.1L465.1 343.0L465.3 341.6L465.5 340.1L465.7 338.6L465.9 337.3L466.1 335.9L466.3 334.5L466.5 333.0L466.8 331.3L467.0 329.6L467.2 328.3L467.5 326.6L467.7 324.8L468.0 323.1L468.2 321.7L468.5 320.1L468.7 318.3L469.0 316.7L469.3 315.2L469.5 313.6L469.8 311.7L470.1 309.9L470.3 308.3L470.6 306.8L470.9 304.9L471.2 303.3L471.4 301.7L471.7 300.3L472.0 298.9L472.2 297.4L472.5 295.8L472.8 294.4L473.1 293.0L473.4 291.2L473.7 289.4L474.1 288.0L474.4 286.6L474.7 284.9L475.0 283.3L475.4 281.6L475.7 280.3L476.0 278.9L476.4 277.0L476.7 275.3L477.0 273.9L477.4 272.1L477.7 270.6L478.0 269.2L478.3 267.7L478.6 266.3L479.0 264.6L479.3 263.1L479.6 261.7L479.9 260.1L480.2 258.7L480.4 257.3L480.7 255.9L481.0 254.4L481.2 252.8L481.5 251.7L481.7 250.6L482.0 248.7L482.3 246.9L482.5 245.3L482.8 243.6L483.0 242.0L483.2 240.7L483.4 239.2L483.6 237.5L483.8 236.5L483.9 235.0L484.1 233.7L484.3 232.6L484.4 231.1L484.6 229.6L484.8 228.0L484.9 226.6L485.1 225.0L485.3 223.6L485.4 222.4L485.6 220.7L485.8 219.2L486.0 217.6L486.2 216.3L486.5 214.7L486.7 212.9L486.9 211.5L487.1 210.1L487.3 208.6L487.5 207.0L487.7 205.7L487.9 204.1L488.2 202.4L488.4 200.8L488.6 199.4L488.9 197.9L489.1 196.2L489.3 194.5L489.6 192.8L489.8 191.0L490.1 189.2L490.3 187.7L490.6 186.1L490.8 184.5L491.1 182.7L491.3 181.0L491.6 179.5L491.8 177.8L492.0 176.3L492.3 174.8L492.5 173.3L492.7 171.7L493.0 170.1L493.2 168.7L493.4 167.5L493.6 166.3L493.8 165.4L494.0 164.1L494.2 163.0L494.6 160.9L495.0 158.6L495.4 156.6L495.7 154.8L496.1 153.2L496.4 151.9L496.7 150.9L497.0 149.4L497.3 147.9L497.6 146.9L497.9 145.7L498.2 144.2L498.6 143.1L498.9 141.9L499.2 140.3L499.5 138.9L499.8 137.3L500.2 135.6L500.5 134.2L500.8 133.0L501.1 131.3L501.4 129.8L501.7 128.2L502.0 126.8L502.3 125.4L502.7 123.7L503.0 122.5L503.4 121.0L503.8 119.3L504.2 118.1L504.7 116.6L505.3 115.0L505.9 113.4L506.6 111.7L507.2 110.4L507.9 108.7L508.5 107.0L509.2 105.8L509.8 104.6L510.5 103.3L511.1 102.3L511.7 101.4L513.4 99.5L515.0 98.3L516.6 97.9L518.2 97.9L519.8 97.8L521.3 98.2L522.8 99.1L524.2 100.3L525.0 101.3L525.7 102.5L526.4 104.0L527.1 105.5L527.8 107.0L528.5 108.7L529.2 110.6L529.7 111.8L530.2 113.0L530.7 113.9L531.2 115.4L531.6 117.0L532.1 118.4L532.6 119.8L533.1 121.5L533.7 123.2L534.2 125.0L534.5 126.3L534.9 127.8L535.2 129.1L535.5 130.4L535.9 132.2L536.2 133.6L536.6 135.0L536.9 136.4L537.3 137.9L537.6 139.5L538.0 141.0L538.4 142.5L538.7 144.1L539.1 145.9L539.5 147.2L539.8 148.7L540.2 150.4L540.6 151.9L541.0 153.3L541.3 154.7L541.7 156.3L542.1 157.9L542.5 159.2L542.9 160.7L543.3 162.1L543.7 163.5L544.1 165.2L544.5 166.4L544.9 167.5L545.3 169.2L545.6 171.1L546.0 172.6L546.4 173.9L546.7 175.2L547.1 176.8L547.4 178.4L547.7 179.9L548.0 181.6L548.3 182.9L548.6 184.7L548.9 186.1L549.2 187.9L549.5 189.6L549.7 190.9L550.0 192.2L550.3 194.0L550.7 195.6L551.0 197.2L551.3 198.7L551.7 200.4L552.1 201.9L552.4 203.3L552.8 204.6L553.2 206.0L553.7 207.6L554.1 209.1L554.5 210.5L555.0 212.0L555.4 213.8L555.8 215.0L556.3 216.3L556.7 217.9L557.1 219.3L557.5 220.7L557.9 222.2L558.3 223.7L558.7 225.3L559.1 226.8L559.4 228.2L559.7 229.7L560.1 231.3L560.4 232.7L560.7 234.0L561.0 235.6L561.3 237.0L561.6 238.5L561.9 240.0L562.2 241.6L562.5 242.9L562.9 244.4L563.2 245.8L563.5 247.2L563.9 249.1L564.2 250.5L564.6 252.0L564.9 253.3L565.3 254.8L565.7 256.2L566.1 257.8L566.5 259.4L566.8 260.7L567.2 262.3L567.6 263.8L568.0 265.4L568.4 267.0L568.8 268.4L569.2 269.7L569.6 271.2L570.0 272.8L570.4 274.0L570.8 275.2L571.3 276.9L571.7 278.6L572.2 280.0L572.7 281.5L573.1 283.2L573.6 284.5L574.0 286.1L574.5 287.6L575.0 288.9L575.4 290.5L575.9 292.1L576.4 293.4L576.9 294.9L577.4 296.5L578.0 298.0L578.5 299.7L579.0 301.0L579.5 302.5L580.0 304.0L580.6 305.4L581.1 307.1L581.7 308.6L582.3 310.1L582.9 311.6L583.5 313.0L584.1 314.3L584.7 315.8L585.4 317.3L586.0 319.0L586.7 320.1L587.4 321.7L588.1 323.5L588.8 324.9L589.6 326.2L590.3 327.5L591.0 329.2L591.7 330.4L592.5 331.6L593.2 333.0L593.9 334.0L594.9 335.5L595.8 337.1L596.8 338.5L597.8 339.9L598.8 341.3L599.8 342.0L600.8 342.6L601.7 345.0L602.7 345.7L603.6 347.0L604.8 349.4L605.9 350.0L607.0 350.6L608.1 350.8L609.1 351.8L610.3 353.3L611.5 355.1L612.8 356.0L613.8 356.7L614.8 357.8L615.9 359.4L617.0 361.2L618.1 361.7L619.3 362.5L620.4 363.3L621.6 364.8L622.8 365.8L624.1 366.7L625.3 367.3L626.6 367.6L627.9 368.0L629.2 369.4L630.6 371.4L631.9 372.2L633.3 373.0L634.7 373.6L636.1 374.0L637.5 374.5L638.9 375.0L640.3 376.4L641.8 377.4L643.3 378.2L644.8 378.5L646.3 379.5L647.8 379.8L649.3 380.6L650.8 381.4L652.3 382.2L653.8 382.5L655.3 381.8L656.8 381.5L658.3 382.8L659.8 382.5L661.3 381.6L662.8 381.3L664.3 382.6L665.8 383.2L667.3 382.7L668.8 381.4L670.3 382.1L671.8 382.7L673.4 382.1L675.0 381.1L676.5 381.4L678.1 382.4L679.7 382.6L681.2 382.1L682.6 382.8L684.0 383.0L685.3 382.0L687.0 383.1L688.4 384.7L689.8 385.8L691.1 387.4L692.4 387.0L693.8 387.2L695.3 389.5L696.6 390.1L697.9 389.6L699.3 390.2L700.7 392.1L702.1 393.8L703.5 394.6L705.0 395.7L706.4 396.3L707.8 396.0L709.1 396.8L710.3 398.2L711.6 398.7L712.8 399.6L714.1 400.6L715.3 401.7L716.5 403.5L717.8 404.4L719.0 404.8L720.3 404.8L721.6 405.1L722.8 406.0L724.1 406.9L725.3 408.0L726.6 409.6L727.8 410.7L729.0 411.2L730.3 411.5L731.5 412.4L732.8 414.5L734.2 414.6L735.6 415.3L737.0 417.0L738.4 417.5L739.7 418.5L741.1 418.9L742.5 419.1L743.9 419.6L745.3 420.3L746.7 421.6L748.1 423.2L749.5 423.1L750.9 423.1L752.2 423.8L753.6 425.0L755.0 426.5L756.4 427.4L757.8 426.9L759.2 427.7L760.6 428.7L762.0 429.6L763.4 430.6L764.7 432.1L766.1 432.0L767.5 432.1L768.9 433.2L770.3 433.5L771.7 435.0L773.1 436.1L774.5 435.6L775.9 437.1L777.2 437.6L778.6 438.3L780.0 439.1L781.4 440.0L782.8 439.8L784.2 441.0L785.6 441.6L787.1 442.2L788.5 443.2L789.9 443.8L791.3 444.6L792.7 446.2L794.0 446.3L795.3 445.9L797.1 446.2L798.8 446.4L800.4 447.2L802.0 447.9L803.6 448.6L805.3 449.5L806.9 448.9L808.7 449.3L810.5 450.9L812.3 450.6L813.9 451.5L815.3 451.9L816.3 452.7" stroke="#002060" stroke-width="5.9" stroke-dasharray="12.3 12.4" stroke-dashoffset="2.5"/>
<path d="M402.5 439.9L403.4 440.1L404.6 440.6L406.1 441.3L407.7 441.7L409.4 442.7L411.0 443.5L412.5 444.1L413.9 444.8L415.4 445.8L416.8 446.7L418.2 447.7L419.6 448.6L421.1 449.0L422.5 449.0L423.8 448.8L425.1 448.3L426.4 447.4L427.7 446.4L428.9 445.5L430.2 444.1L431.4 443.1L432.5 442.1L433.7 440.8L434.8 440.0L435.9 439.1L436.9 437.8L437.9 436.3L439.0 434.7L440.0 432.9L440.5 432.1L441.1 430.8L441.6 429.5L442.1 427.9L442.7 426.6L443.2 425.5L443.8 423.9L444.3 422.1L444.8 420.6L445.4 419.2L445.9 417.6L446.4 416.0L447.0 414.5L447.5 413.0L448.0 411.4L448.5 410.1L449.0 408.9L449.5 407.5L450.0 405.9L450.5 404.5L451.0 403.3L451.5 401.6L452.0 400.1L452.5 398.6L453.0 397.2L453.5 395.6L454.0 394.0L454.5 392.4L455.0 390.6L455.4 389.2L455.8 387.7L456.2 386.3L456.6 384.8L457.0 383.0L457.4 381.4L457.8 380.0L458.2 378.4L458.7 376.6L459.1 374.8L459.5 373.0L459.9 371.5L460.2 370.1L460.6 368.3L461.0 366.8L461.3 365.6L461.6 364.2L462.0 362.8L462.2 361.7L462.5 360.6L463.0 358.5L463.4 357.0L463.6 356.1L463.8 355.2L463.9 354.2L464.1 353.1L464.5 351.1L465.0 347.9L465.2 346.8L465.3 346.0L465.5 345.0L465.7 343.5L465.9 342.1L466.1 341.2L466.3 339.9L466.5 338.2L466.7 336.8L466.9 335.6L467.1 334.4L467.3 333.0L467.6 331.3L467.8 329.6L468.0 327.9L468.3 326.3L468.5 324.9L468.8 323.1L469.0 321.3L469.3 319.6L469.5 318.1L469.8 316.4L470.1 314.9L470.3 313.1L470.6 311.0L470.9 309.3L471.1 307.8L471.4 306.2L471.7 304.8L472.0 303.1L472.2 301.5L472.5 300.3L472.8 298.7L473.0 297.1L473.3 295.6L473.6 294.2L473.9 292.4L474.2 290.9L474.5 289.3L474.9 287.6L475.2 286.1L475.5 284.6L475.8 283.1L476.2 281.3L476.5 279.8L476.8 278.4L477.2 276.7L477.5 275.1L477.8 273.4L478.2 271.9L478.5 270.4L478.8 268.8L479.1 267.4L479.4 265.8L479.8 264.3L480.1 262.8L480.4 261.3L480.7 259.8L481.0 258.7L481.2 256.9L481.5 255.5L481.8 254.3L482.0 252.9L482.3 251.3L482.5 249.8L482.8 248.0L483.1 246.4L483.3 245.0L483.6 243.4L483.8 241.8L484.0 240.2L484.2 238.9L484.4 237.7L484.6 236.3L484.7 234.7L484.9 233.3L485.1 232.1L485.2 230.5L485.4 229.0L485.6 227.9L485.7 226.5L485.9 224.9L486.1 223.4L486.2 221.9L486.4 220.7L486.6 219.1L486.8 217.4L487.0 215.7L487.3 214.3L487.5 212.7L487.7 211.3L487.9 209.8L488.1 208.4L488.3 207.0L488.5 205.3L488.7 203.8L489.0 202.3L489.2 200.8L489.4 199.2L489.7 197.2L489.9 195.6L490.1 194.0L490.4 192.4L490.6 190.9L490.9 189.1L491.1 187.4L491.4 185.8L491.6 184.2L491.9 182.3L492.1 180.8L492.4 179.4L492.6 177.7L492.8 176.1L493.1 174.5L493.3 172.9L493.5 171.5L493.8 170.0L494.0 168.8L494.2 167.5L494.4 166.3L494.6 164.9L494.8 163.8L495.0 162.4L495.4 160.0L495.8 158.2L496.2 156.3L496.5 154.4L496.9 153.0L497.2 151.6L497.5 150.2L497.8 148.9L498.1 147.6L498.4 146.4L498.7 145.0L499.0 143.6L499.4 142.9L499.7 141.5L500.0 139.9L500.3 138.6L500.6 137.3L501.0 135.8L501.3 134.1L501.6 132.5L501.9 130.8L502.2 129.1L502.5 127.7L502.8 126.4L503.1 125.2L503.5 123.7L503.8 122.1L504.2 120.6L504.6 119.4L505.0 118.1L505.5 116.5L506.1 115.1L506.7 113.4L507.4 111.6L508.0 110.0L508.7 108.5L509.3 106.9L510.0 105.4L510.6 104.1L511.3 102.9L511.9 102.1L512.5 101.1L514.2 99.1L515.8 98.2L517.4 97.7L519.0 97.6L520.6 97.6L522.1 98.0L523.6 98.7L525.0 100.0L525.8 101.2L526.5 102.3L527.2 103.5L527.9 105.1L528.6 106.7L529.3 108.3L530.0 109.9L530.5 111.3L531.0 112.9L531.5 114.1L532.0 115.2L532.4 116.6L532.9 117.8L533.4 119.5L533.9 121.2L534.5 123.1L535.0 125.2L535.3 126.3L535.7 127.4L536.0 128.8L536.3 130.1L536.7 131.5L537.0 133.0L537.4 134.5L537.7 136.4L538.1 137.9L538.4 139.1L538.8 140.5L539.2 142.3L539.5 143.8L539.9 145.5L540.3 147.4L540.6 148.7L541.0 150.0L541.4 151.4L541.8 152.8L542.1 154.5L542.5 156.0L542.9 157.3L543.3 158.7L543.7 160.2L544.1 162.0L544.5 163.4L544.9 164.6L545.3 166.2L545.7 167.4L546.1 168.8L546.4 170.6L546.8 172.2L547.2 173.6L547.5 175.2L547.9 176.4L548.2 178.0L548.5 179.7L548.8 181.2L549.1 182.7L549.4 184.4L549.7 186.2L550.0 187.7L550.3 189.1L550.5 190.6L550.8 192.2L551.1 193.7L551.5 195.3L551.8 196.7L552.1 198.2L552.5 199.9L552.9 201.4L553.2 202.9L553.6 204.4L554.0 205.8L554.5 207.3L554.9 208.7L555.3 210.2L555.8 211.8L556.2 213.2L556.6 214.7L557.1 216.3L557.5 217.6L557.9 219.0L558.3 220.9L558.7 222.2L559.1 223.7L559.5 225.0L559.9 226.5L560.2 227.8L560.5 229.3L560.9 231.0L561.2 232.5L561.5 234.1L561.8 235.4L562.1 236.7L562.4 238.2L562.7 239.7L563.0 241.1L563.4 242.6L563.7 244.0L564.0 245.5L564.3 247.0L564.7 248.5L565.0 250.1L565.4 251.4L565.7 253.0L566.1 254.3L566.5 255.9L566.9 257.5L567.2 258.9L567.6 260.8L568.0 262.3L568.4 263.6L568.8 265.0L569.2 266.6L569.6 267.9L570.0 269.6L570.4 270.9L570.8 272.2L571.1 273.8L571.5 275.0L572.0 276.8L572.4 278.4L572.9 279.9L573.4 281.5L573.8 282.9L574.2 284.5L574.7 285.9L575.1 287.3L575.6 288.8L576.1 290.5L576.5 292.2L577.0 293.3L577.5 294.9L578.0 296.4L578.4 297.9L578.9 299.2L579.4 300.5L579.8 302.2L580.3 303.7L580.8 304.8L581.3 306.3L581.8 308.0L582.3 309.3L582.8 310.6L583.4 312.1L583.9 313.4L584.5 314.6L585.1 316.1L585.7 317.8L586.4 319.5L587.0 321.1L587.7 322.5L588.4 324.0L589.1 325.5L589.8 326.8L590.5 328.5L591.2 330.0L591.9 331.2L592.6 332.4L593.3 333.5L594.0 335.0L595.0 336.7L595.9 338.3L596.9 339.6L597.8 340.7L598.8 341.9L599.7 343.3L600.7 345.2L601.6 345.7L602.6 346.4L603.5 347.0L604.6 348.8L605.7 350.8L606.8 351.5L607.8 352.9L608.9 353.9L610.0 354.8L611.2 356.6L612.5 357.9L613.5 358.9L614.5 360.2L615.6 360.8L616.7 361.2L617.8 363.4L619.0 364.4L620.1 364.5L621.3 366.2L622.5 366.9L623.8 368.0L625.0 368.9L626.3 370.0L627.6 369.8L628.9 370.3L630.3 372.6L631.6 374.3L633.0 374.5L634.4 375.0L635.8 375.6L637.2 377.1L638.6 378.3L640.0 378.4L641.5 378.5L643.0 379.4L644.5 380.0L646.0 381.4L647.5 381.2L649.0 381.3L650.5 382.5L652.0 383.3L653.5 382.8L655.0 383.7L656.5 384.8L658.0 384.0L659.5 383.1L661.0 384.4L662.5 384.4L664.0 382.9L665.5 382.2L667.0 383.0L668.5 383.6L670.0 382.5L671.5 381.9L673.1 381.7L674.7 383.2L676.2 382.8L677.8 382.7L679.4 383.9L680.9 384.1L682.3 384.4L683.7 385.1L685.0 384.5L686.7 384.9L688.1 385.8L689.5 386.5L690.8 387.9L692.1 389.3L693.5 390.2L695.0 390.7L696.3 391.5L697.6 392.7L699.0 393.5L700.4 394.6L701.8 394.8L703.2 395.2L704.7 395.5L706.1 396.7L707.5 397.8L708.8 398.5L710.0 399.8L711.2 400.7L712.5 401.8L713.8 402.7L715.0 403.8L716.2 404.2L717.5 404.7L718.8 405.6L720.0 406.4L721.2 408.1L722.5 409.3L723.8 410.4L725.0 410.4L726.2 412.1L727.5 413.0L728.8 412.8L730.0 413.9L731.2 414.7L732.5 415.9L733.9 416.5L735.3 417.4L736.7 417.8L738.1 418.2L739.4 419.8L740.8 420.2L742.2 420.9L743.6 422.5L745.0 423.6L746.4 423.1L747.8 423.9L749.2 425.3L750.6 426.1L751.9 427.0L753.3 427.5L754.7 427.4L756.1 428.3L757.5 430.1L758.9 430.9L760.3 431.5L761.7 431.8L763.1 432.1L764.4 433.2L765.8 433.2L767.2 434.1L768.6 435.3L770.0 435.9L771.4 437.0L772.8 437.8L774.2 438.7L775.6 439.0L776.9 439.2L778.3 440.1L779.7 441.1L781.1 440.9L782.5 441.8L783.9 443.1L785.3 443.6L786.8 443.8L788.2 444.6L789.6 445.0L791.0 445.5L792.4 446.5L793.7 446.4L795.0 447.2L796.8 449.0L798.5 449.7L800.1 449.5L801.7 449.7L803.3 450.0L805.0 450.8L806.6 450.8L808.4 450.7L810.2 451.4L812.0 452.1L813.6 453.3L815.0 453.0L816.0 453.4" stroke="#00B050" stroke-width="5.9" stroke-dasharray="12.3 12.4" stroke-dashoffset="0"/>
<path d="M403.0 434.6L403.7 434.0L404.7 433.6L405.9 432.5L407.2 431.2L408.6 429.4L410.0 427.7L410.7 426.9L411.5 426.2L412.3 425.2L413.1 423.9L414.0 422.5L414.8 421.1L415.7 420.0L416.6 419.2L417.4 417.2L418.3 415.0L419.2 414.6L420.0 413.7L420.6 412.2L421.3 410.8L421.9 409.3L422.6 407.9L423.2 406.3L423.9 405.3L424.5 404.0L425.2 402.0L425.8 400.6L426.4 399.4L427.1 397.9L427.7 397.0L428.3 395.7L428.9 393.0L429.4 391.7L430.0 390.9L430.5 389.7L430.9 388.2L431.4 385.9L431.8 384.7L432.2 383.5L432.6 382.2L433.1 380.6L433.5 378.3L433.9 377.3L434.3 375.5L434.6 374.1L435.0 372.7L435.4 370.9L435.8 368.8L436.1 367.5L436.5 366.3L436.8 365.2L437.2 364.1L437.5 363.4L438.1 361.5L438.6 360.1L439.1 358.5L439.6 357.4L440.0 357.0L440.4 356.2L440.9 354.9L441.4 352.9L441.9 350.5L442.5 348.3L442.7 347.1L442.9 345.7L443.1 345.1L443.3 343.9L443.5 342.2L443.8 341.2L444.0 339.8L444.2 338.7L444.4 337.2L444.7 335.3L444.9 334.5L445.1 333.2L445.4 331.2L445.6 329.4L445.9 327.4L446.1 325.8L446.3 324.1L446.6 322.9L446.8 321.7L447.1 319.7L447.3 317.8L447.6 316.3L447.8 314.6L448.1 313.1L448.3 311.5L448.6 309.8L448.8 308.2L449.0 306.2L449.3 304.7L449.5 302.7L449.8 301.2L450.0 299.9L450.2 298.6L450.5 297.0L450.7 295.6L450.9 293.6L451.1 292.1L451.4 290.7L451.6 289.5L451.8 288.1L452.0 286.4L452.3 284.8L452.5 283.2L452.7 281.8L453.0 280.5L453.2 279.2L453.4 277.5L453.6 275.6L453.9 274.0L454.1 272.9L454.3 271.2L454.5 269.5L454.8 267.6L455.0 266.6L455.2 265.4L455.5 263.5L455.7 262.0L455.9 260.7L456.1 259.2L456.4 257.6L456.6 256.1L456.8 254.2L457.0 252.4L457.3 251.5L457.5 250.0L457.7 248.7L458.0 247.4L458.2 245.5L458.4 243.6L458.6 242.1L458.9 241.1L459.1 239.6L459.3 237.7L459.5 236.4L459.8 234.6L460.0 232.8L460.2 231.3L460.5 229.9L460.7 228.2L460.9 226.6L461.1 225.4L461.4 223.7L461.6 221.9L461.8 220.8L462.0 219.1L462.3 217.6L462.5 216.4L462.7 214.9L463.0 213.7L463.2 212.0L463.4 209.9L463.6 208.6L463.9 207.4L464.1 206.0L464.3 204.1L464.5 202.6L464.8 201.7L465.0 200.2L465.2 198.7L465.5 196.8L465.8 195.2L466.0 193.7L466.2 192.5L466.5 190.5L466.8 189.1L467.0 187.6L467.2 185.9L467.5 184.1L467.8 182.3L468.0 180.6L468.2 179.4L468.5 177.9L468.8 176.7L469.0 175.3L469.2 173.7L469.5 172.4L469.8 170.7L470.0 169.3L470.2 167.3L470.5 165.7L470.8 164.9L471.0 163.4L471.2 162.2L471.5 160.7L471.8 158.9L472.0 157.9L472.2 156.6L472.5 155.0L472.8 153.2L473.2 151.3L473.5 149.6L473.8 148.2L474.1 146.3L474.5 144.5L474.8 142.8L475.1 141.3L475.4 139.9L475.8 138.3L476.1 136.5L476.4 134.7L476.7 133.4L477.1 132.2L477.4 130.8L477.7 129.8L478.0 128.1L478.4 126.1L478.7 124.7L479.0 123.8L479.3 122.3L479.7 121.0L480.0 119.6L480.6 117.6L481.3 116.1L481.9 114.6L482.5 112.9L483.2 111.4L483.8 109.6L484.4 108.6L485.1 107.8L485.7 105.9L486.3 104.4L486.9 103.9L487.5 103.3L488.9 101.6L490.2 100.1L491.5 98.7L492.7 98.0L494.0 98.2L495.6 98.0L497.1 97.5L498.6 98.3L500.0 100.1L500.7 101.1L501.3 102.4L501.9 103.9L502.6 105.4L503.2 106.7L503.8 108.6L504.4 110.8L505.0 112.5L505.4 113.9L505.8 115.7L506.2 116.9L506.7 117.9L507.1 119.1L507.5 120.3L507.9 122.2L508.3 123.6L508.8 124.7L509.2 126.9L509.6 128.8L510.0 130.0L510.3 131.3L510.6 132.8L510.9 134.3L511.2 135.2L511.5 136.4L511.8 137.9L512.1 139.7L512.3 141.3L512.6 143.0L512.9 145.1L513.3 146.6L513.6 147.7L513.9 149.4L514.3 151.4L514.6 152.8L515.0 155.0L515.3 156.6L515.6 157.9L515.8 159.5L516.1 160.8L516.4 162.3L516.8 163.8L517.1 164.8L517.4 166.3L517.7 168.0L518.0 169.7L518.4 171.7L518.7 172.6L519.0 174.0L519.4 175.7L519.7 177.4L520.1 179.3L520.4 181.2L520.8 182.1L521.1 183.6L521.5 185.7L521.8 187.0L522.2 188.5L522.5 190.2L522.8 191.9L523.2 193.3L523.5 193.9L523.9 195.2L524.2 197.2L524.6 198.7L524.9 200.1L525.3 202.0L525.6 203.1L526.0 204.6L526.3 206.4L526.7 207.3L527.0 208.9L527.4 210.6L527.8 211.9L528.1 213.9L528.5 215.2L528.9 216.5L529.2 217.8L529.6 218.9L529.9 220.6L530.3 222.5L530.6 223.7L531.0 225.1L531.4 226.6L531.8 228.3L532.1 229.8L532.5 231.1L532.9 232.7L533.3 234.2L533.7 235.5L534.0 236.8L534.4 238.3L534.8 239.7L535.2 241.5L535.5 242.9L535.9 244.3L536.3 245.6L536.7 247.1L537.1 248.2L537.5 249.6L537.9 251.7L538.3 253.2L538.7 254.0L539.1 255.5L539.5 257.4L539.9 258.7L540.3 259.8L540.7 261.2L541.1 263.4L541.5 264.9L541.9 266.3L542.3 267.9L542.7 269.1L543.2 270.5L543.6 272.2L544.0 273.4L544.4 275.0L544.9 276.7L545.3 278.2L545.7 279.5L546.1 280.9L546.6 282.5L547.0 283.8L547.4 285.6L547.8 287.1L548.3 288.4L548.7 289.6L549.1 291.1L549.5 292.5L550.0 294.0L550.5 295.8L550.9 297.8L551.4 299.6L551.9 300.9L552.3 302.0L552.8 304.3L553.2 305.7L553.7 306.7L554.2 307.9L554.6 309.5L555.1 311.0L555.5 312.3L556.0 313.9L556.5 315.5L557.0 316.9L557.5 318.3L558.0 319.2L558.5 320.9L559.0 322.4L559.6 323.9L560.2 324.3L560.8 326.6L561.4 329.0L562.0 330.0L562.6 331.1L563.2 332.4L563.8 335.3L564.4 336.2L565.1 336.2L565.7 337.7L566.4 339.9L567.0 341.4L567.7 342.7L568.4 344.4L569.1 346.6L569.8 348.8L570.5 348.5L571.4 348.9L572.3 350.4L573.2 352.7L574.1 355.0L575.1 356.0L576.1 356.0L577.0 357.0L578.0 357.4L579.0 358.6L580.0 360.3L581.0 360.8L582.0 362.1L583.0 364.3L584.0 364.7L585.0 365.5L586.1 366.7L587.2 366.3L588.3 368.5L589.4 369.4L590.5 369.2L591.6 371.5L592.7 373.4L593.8 374.5L595.0 375.6L596.2 377.1L597.4 377.8L598.7 378.9L600.0 379.9L601.2 379.2L602.4 380.1L603.7 381.9L605.0 382.7L606.3 383.1L607.6 383.7L609.0 385.6L610.4 386.3L611.8 385.6L613.1 387.2L614.5 388.3L615.9 388.5L617.3 389.0L618.7 388.0L620.0 387.5L621.3 389.6L622.7 392.6L624.0 393.8L625.3 392.9L626.7 394.4L628.0 396.8L629.3 395.9L630.7 395.7L632.0 396.2L633.3 396.9L634.7 397.2L636.0 398.2L637.3 400.3L638.7 401.5L640.0 402.6L641.4 403.7L642.9 403.5L644.3 402.3L645.7 403.7L647.1 405.4L648.6 405.2L650.0 406.8L651.4 407.2L652.9 407.8L654.3 408.9L655.7 410.2L657.1 408.7L658.6 407.9L660.0 409.4L661.4 411.5L662.9 413.1L664.3 412.5L665.7 412.2L667.1 414.1L668.6 413.9L670.0 413.7L671.4 415.0L672.9 415.7L674.3 415.3L675.7 416.0L677.1 416.3L678.6 415.9L680.0 415.8L681.4 417.2L682.9 419.5L684.4 419.4L685.9 419.0L687.5 419.9L689.0 419.9L690.5 420.2L692.0 421.4L693.4 421.9L694.8 422.8L696.2 423.2L697.5 423.0L698.8 423.8L700.0 424.9L701.9 426.3L703.7 425.1L705.2 424.6L706.7 427.4L708.1 427.7L709.6 428.4L711.0 429.0L712.5 428.7L713.5 429.0L714.6 430.0L715.6 432.5L716.6 432.5L717.6 433.0L718.6 435.7L719.6 437.5L720.6 438.1L721.7 439.1L722.8 440.0L723.9 441.3L725.0 444.1L726.3 445.1L727.6 445.2L728.9 446.3L730.3 446.6L731.6 445.4L733.0 447.6L734.4 447.6L735.8 447.7L737.2 449.7L738.6 448.9L740.0 450.0L741.5 450.8L743.0 450.6L744.5 451.7L746.0 452.4L747.5 452.5L749.0 453.3L750.5 454.8L752.0 454.8L753.5 454.0L755.0 454.6L756.5 455.1L758.0 454.1L759.5 454.6L761.0 454.8L762.5 454.9L764.0 454.7L765.5 454.3L767.0 453.5L768.5 454.2L770.0 454.8L771.5 454.7L773.0 454.8L774.5 455.9L776.0 455.2L777.5 454.1L779.0 455.3L780.5 455.3L782.0 454.9L783.5 456.1L785.0 456.9L786.5 457.6L788.0 455.4L789.5 454.4L791.0 455.0L792.5 454.9L794.0 456.5L795.5 457.7L797.0 455.8L798.5 456.2L800.0 458.0L801.6 458.5L803.2 458.2L805.0 456.7L806.7 457.0L808.4 457.0L810.1 457.1L811.6 458.1L813.0 458.6L814.1 458.4L815.0 457.5" stroke="#C00000" stroke-width="5.9" stroke-dasharray="12.3 12.4" stroke-dashoffset="0"/>
</g>
<g font-family="'Liberation Sans', sans-serif" font-weight="bold" fill="#000">
<text transform="translate(100.80 480.80) scale(0.985 1.055)" font-size="33.3" text-anchor="end">0.00</text>
<text transform="translate(844.40 480.80) scale(0.985 1.055)" font-size="33.3">0.00</text>
<text transform="translate(100.80 406.38) scale(0.985 1.055)" font-size="33.3" text-anchor="end">0.20</text>
<text transform="translate(844.40 406.38) scale(0.985 1.055)" font-size="33.3">0.20</text>
<text transform="translate(100.80 331.95) scale(0.985 1.055)" font-size="33.3" text-anchor="end">0.40</text>
<text transform="translate(844.40 331.95) scale(0.985 1.055)" font-size="33.3">0.40</text>
<text transform="translate(100.80 257.52) scale(0.985 1.055)" font-size="33.3" text-anchor="end">0.60</text>
<text transform="translate(844.40 257.52) scale(0.985 1.055)" font-size="33.3">0.60</text>
<text transform="translate(100.80 183.10) scale(0.985 1.055)" font-size="33.3" text-anchor="end">0.80</text>
<text transform="translate(844.40 183.10) scale(0.985 1.055)" font-size="33.3">0.80</text>
<text transform="translate(100.80 108.67) scale(0.985 1.055)" font-size="33.3" text-anchor="end">1.00</text>
<text transform="translate(844.40 108.67) scale(0.985 1.055)" font-size="33.3">1.00</text>
<text transform="translate(100.80 34.25) scale(0.985 1.055)" font-size="33.3" text-anchor="end">1.20</text>
<text transform="translate(844.40 34.25) scale(0.985 1.055)" font-size="33.3">1.20</text>
<text transform="translate(129.65 520.30) scale(0.985 1.055)" font-size="33.3" text-anchor="middle">600</text>
<text transform="translate(301.24 520.30) scale(0.985 1.055)" font-size="33.3" text-anchor="middle">700</text>
<text transform="translate(472.83 520.30) scale(0.985 1.055)" font-size="33.3" text-anchor="middle">800</text>
<text transform="translate(644.41 520.30) scale(0.985 1.055)" font-size="33.3" text-anchor="middle">900</text>
<text transform="translate(816.00 520.30) scale(0.985 1.055)" font-size="33.3" text-anchor="middle">1000</text>
<text transform="translate(492.00 543.40) scale(0.992 1.01)" font-size="33.3" text-anchor="middle">Wavelength (nm)</text>
<text transform="translate(28.10 246.90) rotate(-90) scale(0.992 1.01)" font-size="33.3" text-anchor="middle">Normalized Absorbance</text>
<text transform="translate(945.00 271.50) rotate(-90) scale(0.992 1.01)" font-size="33.3" text-anchor="middle">Normalized Emission</text>
<text transform="translate(146.50 83.80)" font-size="47.5">DMSO</text>
</g>
<g fill="none" stroke-linecap="round" stroke-width="6.4">
<path d="M62.2 577.8H121.2" stroke="#002060"/>
<path d="M522.5 577.8h11.2M546.1 577.8h11.2M569.8 577.8h11.2" stroke="#002060"/>
<path d="M62.2 606.8H121.2" stroke="#00B050"/>
<path d="M522.5 606.8h11.2M546.1 606.8h11.2M569.8 606.8h11.2" stroke="#00B050"/>
<path d="M62.2 636.0H121.2" stroke="#C00000"/>
<path d="M522.5 636.0h11.2M546.1 636.0h11.2M569.8 636.0h11.2" stroke="#C00000"/>
</g>
<g font-family="'Liberation Sans', sans-serif" font-weight="bold" fill="#000">
<text transform="translate(127.20 586.40)" font-size="28.4">Abs-IR794-COOH</text>
<text transform="translate(587.40 586.40)" font-size="28.4">Flu-IR794-COOH</text>
<text transform="translate(127.20 615.40)" font-size="28.4">Abs-IR794-Morph</text>
<text transform="translate(587.40 615.40)" font-size="28.4">Flu-IR794-Morph</text>
<text transform="translate(127.20 644.60)" font-size="28.4">Abs-IR794-Morph-Mpip</text>
<text transform="translate(587.40 644.60)" font-size="28.4">Flu-IR794-Morph-Mpip</text>
</g>
</g>
<g id="panel2">
<g stroke="#000" fill="none" stroke-linecap="butt">
<rect x="1161.7" y="18.4" width="683.80" height="443.95" stroke-width="6.4"/>
<path d="M1151.7 462.35H1161.7M1845.5 462.35H1855.5M1151.7 388.36H1161.7M1845.5 388.36H1855.5M1151.7 314.37H1161.7M1845.5 314.37H1855.5M1151.7 240.38H1161.7M1845.5 240.38H1855.5M1151.7 166.38H1161.7M1845.5 166.38H1855.5M1151.7 92.39H1161.7M1845.5 92.39H1855.5M1151.7 18.40H1161.7M1845.5 18.40H1855.5M1161.70 462.4V472.6M1332.65 462.4V472.6M1503.60 462.4V472.6M1674.55 462.4V472.6M1845.50 462.4V472.6" stroke-width="6.2"/>
</g>
<clipPath id="cp2"><rect x="1158.3" y="15.4" width="690.6" height="450.3"/></clipPath>
<g fill="none" stroke-linejoin="round" stroke-linecap="round" clip-path="url(#cp2)">
<path d="M1161.6 452.5L1162.4 452.3L1163.5 452.1L1164.6 451.9L1166.0 451.6L1167.4 451.3L1168.9 451.0L1170.6 450.6L1172.2 450.3L1174.0 449.9L1175.7 449.4L1177.5 449.0L1179.3 448.5L1181.0 448.0L1182.3 447.6L1183.7 447.2L1185.1 446.7L1186.5 446.2L1187.9 445.7L1189.4 445.2L1190.9 444.7L1192.4 444.1L1193.9 443.6L1195.4 443.0L1197.0 442.4L1198.5 441.9L1200.0 441.3L1201.5 440.7L1203.0 440.1L1204.5 439.6L1206.0 439.0L1207.5 438.4L1208.9 437.9L1210.4 437.3L1211.9 436.8L1213.4 436.2L1214.8 435.6L1216.3 435.1L1217.8 434.5L1219.2 433.9L1220.7 433.3L1222.2 432.7L1223.6 432.1L1225.1 431.5L1226.6 430.9L1228.1 430.3L1229.5 429.6L1231.0 429.0L1232.4 428.4L1233.8 427.8L1235.2 427.2L1236.6 426.6L1237.9 426.0L1239.3 425.4L1240.7 424.8L1242.1 424.2L1243.5 423.6L1244.9 422.9L1246.3 422.3L1247.7 421.6L1249.1 420.9L1250.4 420.2L1251.8 419.4L1253.2 418.7L1254.6 417.8L1256.0 417.0L1257.2 416.2L1258.5 415.4L1259.8 414.6L1261.0 413.8L1262.2 412.9L1263.5 412.1L1264.8 411.2L1266.0 410.3L1267.2 409.4L1268.5 408.5L1269.8 407.5L1271.0 406.5L1272.2 405.6L1273.5 404.5L1274.8 403.5L1276.0 402.5L1277.2 401.4L1278.5 400.3L1279.8 399.2L1281.0 398.0L1282.0 397.0L1283.1 396.0L1284.2 394.9L1285.2 393.9L1286.3 392.7L1287.4 391.6L1288.4 390.5L1289.5 389.3L1290.6 388.1L1291.7 386.9L1292.7 385.7L1293.8 384.5L1294.9 383.3L1295.9 382.0L1297.0 380.8L1298.0 379.6L1299.1 378.4L1300.1 377.2L1301.1 376.0L1302.1 374.9L1303.1 373.8L1304.1 372.6L1305.1 371.6L1306.0 370.5L1307.1 369.3L1308.2 368.0L1309.3 366.8L1310.4 365.6L1311.5 364.4L1312.6 363.2L1313.6 362.0L1314.6 360.9L1315.7 359.7L1316.7 358.6L1317.7 357.5L1318.7 356.4L1319.6 355.3L1320.6 354.2L1321.5 353.1L1322.5 352.1L1323.4 351.0L1324.3 350.0L1325.1 349.0L1326.0 348.0L1327.2 346.6L1328.3 345.2L1329.4 343.9L1330.4 342.6L1331.4 341.3L1332.4 340.0L1333.4 338.8L1334.3 337.6L1335.2 336.4L1336.2 335.3L1337.1 334.1L1338.1 333.1L1339.0 332.0L1340.0 331.0L1341.3 329.8L1342.6 328.6L1343.9 327.4L1345.2 326.3L1346.5 325.3L1347.8 324.3L1349.1 323.3L1350.3 322.4L1351.6 321.6L1352.8 320.8L1354.0 320.0L1355.6 319.1L1357.1 318.4L1358.6 317.8L1360.1 317.2L1361.5 316.7L1363.0 316.2L1364.5 315.7L1366.0 315.0L1367.4 314.4L1368.8 313.8L1370.3 313.2L1371.7 312.6L1373.2 312.0L1374.7 311.2L1376.1 310.4L1377.6 309.5L1379.0 308.5L1380.1 307.6L1381.1 306.8L1382.1 305.8L1383.1 304.9L1384.2 303.8L1385.2 302.8L1386.2 301.6L1387.2 300.4L1388.3 299.2L1389.3 297.9L1390.4 296.5L1391.5 295.0L1392.3 293.9L1393.1 292.8L1393.9 291.7L1394.7 290.6L1395.5 289.4L1396.4 288.2L1397.2 287.0L1398.0 285.7L1398.9 284.4L1399.7 283.1L1400.5 281.7L1401.4 280.3L1402.2 278.8L1403.0 277.3L1403.9 275.8L1404.7 274.2L1405.5 272.5L1406.0 271.3L1406.6 270.2L1407.1 268.9L1407.7 267.7L1408.2 266.5L1408.8 265.2L1409.3 263.9L1409.9 262.6L1410.4 261.2L1411.0 259.9L1411.5 258.5L1412.1 257.1L1412.6 255.7L1413.2 254.3L1413.7 252.8L1414.2 251.4L1414.8 249.9L1415.3 248.4L1415.8 246.9L1416.4 245.3L1416.9 243.8L1417.4 242.2L1418.0 240.7L1418.5 239.1L1419.0 237.5L1419.4 236.2L1419.8 234.9L1420.2 233.6L1420.7 232.2L1421.1 230.8L1421.5 229.5L1421.9 228.1L1422.3 226.7L1422.7 225.2L1423.1 223.8L1423.5 222.4L1423.9 220.9L1424.3 219.5L1424.7 218.0L1425.1 216.5L1425.5 215.0L1425.9 213.6L1426.3 212.1L1426.7 210.6L1427.1 209.1L1427.5 207.6L1427.9 206.0L1428.3 204.5L1428.7 203.0L1429.1 201.5L1429.5 200.0L1429.9 198.5L1430.3 197.0L1430.7 195.5L1431.1 194.0L1431.5 192.5L1431.9 191.0L1432.3 189.6L1432.7 188.1L1433.1 186.6L1433.5 185.1L1433.9 183.5L1434.3 182.0L1434.7 180.5L1435.1 178.9L1435.5 177.4L1435.9 175.8L1436.3 174.2L1436.7 172.7L1437.1 171.1L1437.5 169.6L1437.9 168.0L1438.3 166.5L1438.7 164.9L1439.1 163.4L1439.5 161.9L1439.9 160.4L1440.3 158.9L1440.7 157.4L1441.1 155.9L1441.4 154.5L1441.8 153.0L1442.2 151.6L1442.6 150.3L1442.9 148.9L1443.3 147.6L1443.6 146.3L1444.0 145.0L1444.5 143.2L1445.0 141.4L1445.5 139.6L1446.0 137.9L1446.5 136.2L1447.0 134.5L1447.5 132.8L1447.9 131.2L1448.4 129.6L1448.9 128.0L1449.3 126.5L1449.8 125.0L1450.2 123.5L1450.7 122.1L1451.1 120.7L1451.6 119.3L1452.0 118.0L1452.4 116.7L1452.8 115.5L1453.2 114.3L1453.6 113.1L1454.0 112.0L1454.8 109.9L1455.5 108.0L1456.1 106.3L1456.8 104.8L1457.4 103.4L1458.0 102.1L1458.6 100.9L1459.2 99.8L1459.8 98.8L1460.4 97.9L1461.0 97.0L1462.3 95.3L1463.6 93.9L1464.9 93.0L1466.2 92.5L1467.5 92.5L1468.6 92.8L1469.6 93.3L1470.7 94.2L1471.7 95.4L1472.8 97.0L1474.0 99.0L1474.5 100.0L1475.1 101.1L1475.6 102.2L1476.2 103.3L1476.8 104.5L1477.3 105.9L1477.9 107.2L1478.5 108.7L1479.1 110.3L1479.7 112.0L1480.3 113.8L1480.9 115.7L1481.4 117.8L1482.0 120.0L1482.3 121.2L1482.6 122.4L1482.8 123.7L1483.1 125.0L1483.4 126.4L1483.7 127.8L1484.0 129.2L1484.3 130.7L1484.5 132.2L1484.8 133.8L1485.1 135.4L1485.4 137.0L1485.7 138.6L1485.9 140.2L1486.2 141.9L1486.5 143.5L1486.8 145.2L1487.0 146.8L1487.3 148.5L1487.6 150.1L1487.8 151.7L1488.1 153.3L1488.3 154.9L1488.6 156.5L1488.8 158.0L1489.0 159.6L1489.3 161.1L1489.5 162.5L1489.7 164.1L1490.0 165.7L1490.2 167.2L1490.4 168.8L1490.7 170.3L1490.9 171.8L1491.1 173.4L1491.3 174.9L1491.5 176.4L1491.7 177.9L1491.9 179.3L1492.1 180.8L1492.2 182.3L1492.4 183.8L1492.6 185.2L1492.8 186.7L1493.0 188.2L1493.2 189.6L1493.4 191.1L1493.5 192.6L1493.7 194.1L1493.9 195.5L1494.1 197.0L1494.3 198.5L1494.5 200.0L1494.7 201.5L1494.9 203.0L1495.1 204.5L1495.3 206.0L1495.5 207.5L1495.7 209.0L1495.9 210.5L1496.1 212.0L1496.4 213.5L1496.6 215.0L1496.8 216.5L1497.0 218.0L1497.2 219.5L1497.4 221.0L1497.6 222.5L1497.8 224.0L1498.0 225.5L1498.2 227.0L1498.4 228.5L1498.6 230.0L1498.8 231.5L1499.0 233.0L1499.1 234.5L1499.3 236.0L1499.5 237.5L1499.7 239.0L1499.8 240.5L1500.0 242.0L1500.2 243.6L1500.3 245.1L1500.5 246.7L1500.6 248.2L1500.8 249.8L1500.9 251.3L1501.1 252.9L1501.2 254.4L1501.3 255.9L1501.5 257.5L1501.6 259.0L1501.8 260.5L1501.9 262.1L1502.0 263.6L1502.2 265.0L1502.3 266.5L1502.5 268.0L1502.6 269.4L1502.8 270.8L1502.9 272.3L1503.0 273.6L1503.2 275.0L1503.4 276.7L1503.6 278.2L1503.8 279.8L1504.0 281.2L1504.1 282.7L1504.3 284.1L1504.5 285.5L1504.7 286.8L1504.9 288.2L1505.1 289.5L1505.3 290.9L1505.5 292.3L1505.7 293.7L1505.9 295.1L1506.1 296.6L1506.3 298.2L1506.5 299.8L1506.7 301.4L1507.0 303.2L1507.2 305.0L1507.4 306.3L1507.5 307.6L1507.7 308.9L1507.8 310.3L1508.0 311.7L1508.1 313.2L1508.3 314.7L1508.5 316.2L1508.6 317.7L1508.8 319.2L1509.0 320.8L1509.1 322.4L1509.3 324.0L1509.5 325.6L1509.6 327.2L1509.8 328.8L1510.0 330.4L1510.2 332.0L1510.3 333.6L1510.5 335.1L1510.7 336.7L1510.9 338.3L1511.1 339.8L1511.3 341.4L1511.5 342.9L1511.7 344.4L1511.9 345.8L1512.1 347.2L1512.3 348.6L1512.5 350.0L1512.8 351.7L1513.0 353.3L1513.3 354.9L1513.6 356.5L1513.9 358.1L1514.2 359.7L1514.5 361.2L1514.7 362.7L1515.0 364.2L1515.3 365.7L1515.6 367.2L1516.0 368.7L1516.3 370.1L1516.6 371.6L1516.9 373.0L1517.2 374.4L1517.6 375.8L1517.9 377.2L1518.2 378.6L1518.6 380.0L1518.9 381.4L1519.3 382.8L1519.6 384.1L1520.0 385.5L1520.4 387.1L1520.9 388.6L1521.3 390.2L1521.7 391.7L1522.2 393.2L1522.7 394.8L1523.1 396.3L1523.6 397.8L1524.1 399.3L1524.6 400.7L1525.1 402.2L1525.6 403.6L1526.1 405.0L1526.6 406.4L1527.1 407.8L1527.6 409.2L1528.1 410.5L1528.5 411.8L1529.0 413.1L1529.5 414.3L1530.0 415.5L1530.7 417.3L1531.4 418.9L1532.1 420.6L1532.8 422.1L1533.5 423.6L1534.2 425.1L1534.8 426.5L1535.5 427.9L1536.2 429.2L1537.0 430.6L1537.7 431.8L1538.4 433.1L1539.2 434.3L1540.0 435.5L1541.0 436.9L1541.9 438.2L1542.9 439.5L1544.0 440.7L1545.0 441.9L1546.1 443.1L1547.2 444.2L1548.2 445.2L1549.3 446.2L1550.4 447.2L1551.5 448.1L1552.5 449.0L1553.9 450.1L1555.2 451.1L1556.5 451.9L1557.8 452.7L1559.1 453.5L1560.4 454.1L1561.9 454.8L1563.4 455.4L1565.0 456.0L1566.3 456.4L1567.6 456.9L1568.9 457.2L1570.3 457.6L1571.7 458.0L1573.2 458.3L1574.7 458.6L1576.2 458.9L1577.8 459.2L1579.5 459.5L1581.2 459.7L1583.0 460.0L1584.3 460.2L1585.6 460.4L1586.9 460.6L1588.2 460.7L1589.6 460.9L1591.0 461.1L1592.4 461.2L1593.8 461.4L1595.3 461.5L1596.8 461.7L1598.4 461.8L1600.0 462.0L1601.7 462.1L1603.4 462.2L1605.2 462.3L1607.1 462.4L1609.0 462.5L1610.2 462.6L1611.2 462.6L1612.0 462.6L1612.8 462.7L1613.5 462.7L1614.1 462.8L1614.7 462.8L1615.2 462.8L1615.8 462.8L1616.3 462.9L1617.0 462.9L1617.6 462.9L1618.4 462.9L1619.3 462.9L1620.3 462.9L1621.4 462.9L1622.7 462.9L1624.2 462.9L1625.9 463.0L1627.9 463.0L1630.1 463.0L1632.6 463.0L1635.4 463.0L1638.5 463.0L1642.0 463.0L1645.8 463.0L1650.0 463.0L1650.9 463.0L1651.9 463.0L1652.9 463.0L1653.9 463.0L1654.9 463.0L1656.0 463.0L1657.1 463.0L1658.2 463.0L1659.3 463.0L1660.5 463.0L1661.7 463.0L1662.9 463.0L1664.1 463.0L1665.4 463.0L1666.7 463.0L1668.0 463.0L1669.3 463.0L1670.7 463.0L1672.1 463.0L1673.5 463.0L1674.9 463.0L1676.3 463.0L1677.8 463.0L1679.3 463.0L1680.8 463.0L1682.3 463.0L1683.8 463.0L1685.3 463.0L1686.9 463.0L1688.5 463.0L1690.1 463.0L1691.7 463.0L1693.3 463.0L1694.9 463.0L1696.6 463.0L1698.3 463.0L1699.9 463.0L1701.6 463.0L1703.3 463.0L1705.0 463.0L1706.8 463.0L1708.5 463.0L1710.2 463.0L1712.0 463.0L1713.8 463.0L1715.5 463.0L1717.3 463.0L1719.1 463.0L1720.9 463.0L1722.7 463.0L1724.5 463.0L1726.3 463.0L1728.1 463.0L1729.9 463.0L1731.8 463.0L1733.6 463.0L1735.4 463.0L1737.3 463.0L1739.1 463.0L1740.9 463.0L1742.8 463.0L1744.6 463.0L1746.5 463.0L1748.3 463.0L1750.1 463.0L1752.0 463.0L1753.8 463.0L1755.7 463.0L1757.5 463.0L1759.3 463.0L1761.2 463.0L1763.0 463.0L1764.8 463.0L1766.6 463.0L1768.4 463.0L1770.2 463.0L1772.0 463.0L1773.8 463.0L1775.6 463.0L1777.4 463.0L1779.2 463.0L1780.9 463.0L1782.7 463.0L1784.4 463.0L1786.1 463.0L1787.9 463.0L1789.6 463.0L1791.3 463.0L1793.0 463.0L1794.6 463.0L1796.3 463.0L1798.0 463.0L1799.6 463.0L1801.2 463.0L1802.8 463.0L1804.4 463.0L1806.0 463.0L1807.6 463.0L1809.1 463.0L1810.6 463.0L1812.1 463.0L1813.6 463.0L1815.1 463.0L1816.6 463.0L1818.0 463.0L1819.4 463.0L1820.8 463.0L1822.2 463.0L1823.5 463.0L1824.9 463.0L1826.2 463.0L1827.5 463.0L1828.7 463.0L1830.0 463.0L1831.2 463.0L1832.4 463.0L1833.5 463.0L1834.7 463.0L1835.8 463.0L1836.9 463.0L1838.0 463.0L1839.0 463.0L1840.0 463.0L1841.0 463.0L1841.9 463.0L1842.8 463.0L1843.7 463.0L1844.6 463.0L1845.4 463.0L1846.2 463.0L1847.0 463.0" stroke="#002060" stroke-width="6.2"/>
<path d="M1161.6 423.0L1162.4 422.9L1163.5 422.8L1164.6 422.6L1166.0 422.5L1167.4 422.3L1168.9 422.2L1170.6 422.0L1172.2 421.8L1174.0 421.5L1175.7 421.3L1177.5 421.0L1179.3 420.8L1181.0 420.5L1182.4 420.3L1183.9 420.0L1185.3 419.8L1186.9 419.5L1188.4 419.2L1190.0 418.9L1191.5 418.6L1193.2 418.3L1194.8 418.0L1196.4 417.7L1198.0 417.3L1199.6 417.0L1201.2 416.6L1202.8 416.3L1204.4 415.9L1206.0 415.5L1207.5 415.1L1208.9 414.7L1210.4 414.3L1211.9 413.9L1213.4 413.5L1214.8 413.1L1216.3 412.7L1217.8 412.2L1219.2 411.8L1220.7 411.3L1222.2 410.9L1223.6 410.4L1225.1 409.9L1226.6 409.4L1228.1 409.0L1229.5 408.5L1231.0 408.0L1232.5 407.5L1233.9 407.0L1235.4 406.6L1236.9 406.1L1238.4 405.6L1239.8 405.1L1241.3 404.6L1242.8 404.1L1244.2 403.6L1245.7 403.1L1247.2 402.6L1248.6 402.0L1250.1 401.5L1251.6 400.9L1253.1 400.3L1254.5 399.6L1256.0 399.0L1257.4 398.4L1258.8 397.7L1260.2 397.1L1261.6 396.5L1262.9 395.8L1264.3 395.2L1265.7 394.5L1267.1 393.8L1268.5 393.1L1269.9 392.4L1271.3 391.6L1272.7 390.8L1274.1 390.0L1275.4 389.2L1276.8 388.3L1278.2 387.4L1279.6 386.5L1281.0 385.5L1282.1 384.7L1283.3 383.8L1284.5 382.8L1285.7 381.9L1286.9 380.8L1288.1 379.8L1289.3 378.7L1290.5 377.7L1291.7 376.6L1292.9 375.5L1294.1 374.3L1295.3 373.2L1296.5 372.1L1297.6 371.0L1298.8 369.9L1299.9 368.8L1301.0 367.8L1302.1 366.8L1303.1 365.8L1304.1 364.8L1305.1 363.9L1306.0 363.0L1307.4 361.7L1308.7 360.4L1310.0 359.3L1311.2 358.1L1312.3 357.0L1313.4 355.9L1314.4 354.9L1315.4 353.9L1316.4 352.9L1317.4 351.9L1318.3 350.9L1319.2 350.0L1320.1 349.0L1321.0 348.0L1322.2 346.6L1323.3 345.2L1324.3 343.9L1325.2 342.5L1326.2 341.2L1327.1 339.9L1328.0 338.6L1328.9 337.4L1329.9 336.2L1331.0 335.0L1332.1 333.9L1333.3 332.8L1334.6 331.7L1335.8 330.7L1337.1 329.7L1338.4 328.7L1339.7 327.7L1341.0 326.8L1342.2 325.9L1343.5 325.0L1344.9 324.0L1346.3 323.1L1347.7 322.2L1349.1 321.4L1350.4 320.5L1351.8 319.7L1353.2 319.0L1354.6 318.2L1356.0 317.5L1357.6 316.8L1359.1 316.1L1360.7 315.5L1362.2 314.9L1363.8 314.4L1365.4 313.8L1366.9 313.2L1368.5 312.5L1369.9 311.9L1371.3 311.3L1372.7 310.7L1374.1 310.1L1375.4 309.5L1376.8 308.7L1378.2 307.9L1379.6 307.0L1381.0 306.0L1382.0 305.1L1383.1 304.3L1384.1 303.3L1385.1 302.4L1386.1 301.3L1387.2 300.2L1388.2 299.1L1389.2 297.9L1390.3 296.7L1391.3 295.4L1392.4 294.0L1393.5 292.5L1394.3 291.4L1395.1 290.3L1395.9 289.2L1396.7 288.1L1397.5 286.9L1398.4 285.7L1399.2 284.5L1400.0 283.2L1400.9 281.9L1401.7 280.6L1402.5 279.2L1403.4 277.8L1404.2 276.3L1405.0 274.8L1405.9 273.3L1406.7 271.7L1407.5 270.0L1408.0 268.8L1408.6 267.7L1409.1 266.4L1409.7 265.2L1410.2 264.0L1410.8 262.7L1411.3 261.4L1411.9 260.1L1412.4 258.7L1413.0 257.4L1413.5 256.0L1414.1 254.6L1414.6 253.2L1415.2 251.8L1415.7 250.3L1416.2 248.9L1416.8 247.4L1417.3 245.9L1417.8 244.4L1418.4 242.8L1418.9 241.3L1419.4 239.7L1420.0 238.2L1420.5 236.6L1421.0 235.0L1421.4 233.7L1421.8 232.4L1422.2 231.1L1422.7 229.7L1423.1 228.3L1423.5 227.0L1423.9 225.6L1424.3 224.2L1424.7 222.7L1425.1 221.3L1425.5 219.9L1425.9 218.4L1426.3 217.0L1426.7 215.5L1427.1 214.0L1427.5 212.5L1427.9 211.1L1428.3 209.6L1428.7 208.1L1429.1 206.6L1429.5 205.1L1429.9 203.5L1430.3 202.0L1430.7 200.5L1431.1 199.0L1431.5 197.5L1431.9 196.0L1432.3 194.5L1432.7 193.0L1433.1 191.5L1433.5 190.0L1433.9 188.5L1434.3 187.1L1434.7 185.6L1435.1 184.1L1435.5 182.6L1435.9 181.0L1436.3 179.5L1436.7 177.9L1437.1 176.4L1437.5 174.8L1437.9 173.3L1438.3 171.7L1438.7 170.1L1439.1 168.6L1439.5 167.0L1439.9 165.5L1440.3 163.9L1440.7 162.4L1441.1 160.8L1441.5 159.3L1441.9 157.8L1442.3 156.3L1442.7 154.8L1443.1 153.4L1443.5 151.9L1443.8 150.5L1444.2 149.1L1444.6 147.7L1444.9 146.4L1445.3 145.1L1445.7 143.8L1446.0 142.5L1446.5 140.7L1447.0 138.9L1447.5 137.2L1448.0 135.4L1448.4 133.7L1448.9 132.1L1449.3 130.4L1449.8 128.8L1450.2 127.2L1450.7 125.7L1451.1 124.2L1451.6 122.7L1452.0 121.2L1452.4 119.8L1452.8 118.5L1453.2 117.1L1453.6 115.8L1454.0 114.6L1454.4 113.4L1454.8 112.2L1455.1 111.1L1455.5 110.0L1456.3 107.8L1457.0 105.8L1457.7 104.1L1458.4 102.6L1459.0 101.2L1459.6 100.0L1460.2 98.8L1460.8 97.8L1461.4 96.9L1462.0 96.0L1463.4 94.2L1464.8 93.0L1466.1 92.4L1467.5 92.5L1468.6 92.9L1469.8 93.7L1471.0 94.9L1472.2 96.6L1473.5 99.0L1474.0 100.0L1474.5 101.1L1475.0 102.2L1475.5 103.3L1476.1 104.5L1476.6 105.9L1477.2 107.2L1477.7 108.7L1478.3 110.3L1478.8 112.0L1479.4 113.8L1479.9 115.7L1480.5 117.8L1481.0 120.0L1481.3 121.2L1481.5 122.4L1481.8 123.7L1482.1 125.0L1482.4 126.4L1482.7 127.8L1482.9 129.2L1483.2 130.7L1483.5 132.2L1483.8 133.8L1484.1 135.4L1484.3 137.0L1484.6 138.6L1484.9 140.2L1485.2 141.9L1485.5 143.5L1485.7 145.2L1486.0 146.8L1486.3 148.5L1486.5 150.1L1486.8 151.7L1487.1 153.3L1487.3 154.9L1487.6 156.5L1487.8 158.0L1488.0 159.6L1488.3 161.1L1488.5 162.5L1488.7 164.1L1489.0 165.7L1489.2 167.2L1489.4 168.8L1489.7 170.3L1489.9 171.8L1490.1 173.4L1490.3 174.9L1490.5 176.4L1490.7 177.9L1490.9 179.3L1491.1 180.8L1491.2 182.3L1491.4 183.8L1491.6 185.2L1491.8 186.7L1492.0 188.2L1492.2 189.6L1492.4 191.1L1492.5 192.6L1492.7 194.1L1492.9 195.5L1493.1 197.0L1493.3 198.5L1493.5 200.0L1493.7 201.5L1493.9 203.0L1494.1 204.5L1494.3 206.0L1494.5 207.5L1494.7 209.0L1494.9 210.5L1495.2 212.0L1495.4 213.5L1495.6 215.0L1495.8 216.5L1496.0 218.0L1496.2 219.5L1496.4 221.0L1496.6 222.5L1496.8 224.0L1497.0 225.5L1497.2 227.0L1497.4 228.5L1497.6 230.0L1497.8 231.5L1498.0 233.0L1498.2 234.5L1498.3 236.0L1498.5 237.5L1498.7 239.0L1498.8 240.5L1499.0 242.0L1499.1 243.6L1499.3 245.1L1499.4 246.7L1499.6 248.2L1499.7 249.8L1499.8 251.3L1500.0 252.9L1500.1 254.4L1500.2 255.9L1500.4 257.5L1500.5 259.0L1500.6 260.5L1500.8 262.1L1500.9 263.6L1501.0 265.0L1501.2 266.5L1501.3 268.0L1501.4 269.4L1501.6 270.8L1501.7 272.3L1501.9 273.6L1502.0 275.0L1502.2 276.7L1502.4 278.2L1502.6 279.8L1502.8 281.2L1502.9 282.7L1503.1 284.1L1503.3 285.5L1503.5 286.8L1503.7 288.2L1503.9 289.5L1504.1 290.9L1504.3 292.3L1504.5 293.7L1504.7 295.1L1504.9 296.6L1505.1 298.2L1505.3 299.8L1505.6 301.4L1505.8 303.2L1506.0 305.0L1506.1 306.3L1506.3 307.6L1506.4 308.9L1506.6 310.3L1506.7 311.7L1506.9 313.2L1507.0 314.7L1507.2 316.2L1507.3 317.7L1507.5 319.2L1507.7 320.8L1507.8 322.4L1508.0 324.0L1508.1 325.6L1508.3 327.2L1508.4 328.8L1508.6 330.4L1508.8 332.0L1508.9 333.6L1509.1 335.1L1509.3 336.7L1509.5 338.3L1509.6 339.8L1509.8 341.4L1510.0 342.9L1510.2 344.4L1510.4 345.8L1510.6 347.2L1510.8 348.6L1511.0 350.0L1511.3 351.7L1511.5 353.3L1511.8 354.9L1512.1 356.5L1512.4 358.1L1512.6 359.7L1512.9 361.2L1513.2 362.7L1513.5 364.2L1513.8 365.7L1514.1 367.2L1514.4 368.7L1514.8 370.1L1515.1 371.6L1515.4 373.0L1515.7 374.4L1516.1 375.8L1516.4 377.2L1516.7 378.6L1517.1 380.0L1517.4 381.4L1517.8 382.8L1518.1 384.1L1518.5 385.5L1518.9 387.1L1519.4 388.6L1519.8 390.2L1520.2 391.7L1520.7 393.2L1521.2 394.8L1521.6 396.3L1522.1 397.8L1522.6 399.3L1523.1 400.7L1523.6 402.2L1524.1 403.6L1524.6 405.0L1525.1 406.4L1525.6 407.8L1526.1 409.2L1526.6 410.5L1527.0 411.8L1527.5 413.1L1528.0 414.3L1528.5 415.5L1529.2 417.3L1529.9 418.9L1530.6 420.6L1531.3 422.2L1532.0 423.7L1532.7 425.2L1533.3 426.6L1534.0 428.0L1534.7 429.3L1535.5 430.6L1536.2 431.9L1536.9 433.1L1537.7 434.3L1538.5 435.5L1539.5 436.9L1540.6 438.3L1541.7 439.6L1542.9 440.9L1544.0 442.1L1545.2 443.2L1546.3 444.2L1547.5 445.3L1548.7 446.2L1549.9 447.1L1551.0 448.0L1552.4 449.0L1553.7 449.8L1555.0 450.6L1556.3 451.2L1557.6 451.8L1559.0 452.4L1560.4 452.9L1561.9 453.5L1563.5 454.0L1564.9 454.4L1566.3 454.9L1567.7 455.3L1569.2 455.6L1570.7 456.0L1572.3 456.4L1573.9 456.7L1575.6 457.0L1577.3 457.4L1579.1 457.7L1581.0 458.0L1582.3 458.2L1583.6 458.4L1585.0 458.7L1586.3 458.9L1587.6 459.1L1589.0 459.3L1590.4 459.5L1591.8 459.7L1593.3 459.9L1594.9 460.1L1596.5 460.2L1598.2 460.4L1600.0 460.6L1601.9 460.7L1603.9 460.9L1606.0 461.0L1607.1 461.1L1608.1 461.1L1609.0 461.2L1609.8 461.2L1610.6 461.3L1611.3 461.4L1611.9 461.4L1612.5 461.4L1613.2 461.5L1613.8 461.5L1614.5 461.6L1615.2 461.6L1615.9 461.6L1616.8 461.7L1617.7 461.7L1618.8 461.7L1620.0 461.8L1621.3 461.8L1622.8 461.8L1624.4 461.8L1626.3 461.9L1628.3 461.9L1630.6 461.9L1633.1 461.9L1635.9 461.9L1639.0 461.9L1642.4 462.0L1646.0 462.0L1650.0 462.0L1650.9 462.0L1651.9 462.0L1652.9 462.0L1653.9 462.0L1655.0 462.0L1656.0 462.0L1657.1 462.0L1658.3 462.0L1659.4 462.0L1660.6 462.0L1661.8 462.0L1663.0 462.0L1664.3 462.0L1665.5 462.0L1666.8 462.0L1668.2 462.0L1669.5 462.0L1670.9 462.1L1672.2 462.1L1673.6 462.1L1675.1 462.1L1676.5 462.1L1678.0 462.1L1679.4 462.1L1680.9 462.1L1682.5 462.1L1684.0 462.1L1685.5 462.1L1687.1 462.1L1688.7 462.1L1690.3 462.1L1691.9 462.1L1693.5 462.1L1695.2 462.1L1696.8 462.1L1698.5 462.1L1700.2 462.1L1701.8 462.1L1703.5 462.1L1705.3 462.1L1707.0 462.1L1708.7 462.1L1710.5 462.1L1712.2 462.1L1714.0 462.1L1715.7 462.1L1717.5 462.1L1719.3 462.1L1721.1 462.1L1722.9 462.1L1724.7 462.1L1726.5 462.1L1728.3 462.1L1730.1 462.1L1732.0 462.1L1733.8 462.1L1735.6 462.1L1737.5 462.1L1739.3 462.1L1741.1 462.1L1743.0 462.1L1744.8 462.1L1746.7 462.1L1748.5 462.1L1750.3 462.1L1752.2 462.1L1754.0 462.1L1755.8 462.1L1757.7 462.1L1759.5 462.1L1761.3 462.1L1763.1 462.1L1765.0 462.1L1766.8 462.1L1768.6 462.1L1770.4 462.1L1772.2 462.0L1774.0 462.0L1775.8 462.0L1777.5 462.0L1779.3 462.0L1781.0 462.0L1782.8 462.0L1784.5 462.0L1786.3 462.0L1788.0 462.0L1789.7 462.0L1791.4 462.0L1793.1 462.0L1794.7 462.0L1796.4 462.0L1798.1 462.0L1799.7 462.0L1801.3 462.0L1802.9 462.0L1804.5 462.0L1806.1 462.0L1807.6 462.0L1809.2 462.0L1810.7 462.0L1812.2 462.0L1813.7 462.0L1815.2 462.0L1816.6 462.0L1818.0 462.0L1819.5 462.0L1820.9 462.0L1822.2 462.0L1823.6 462.0L1824.9 462.0L1826.2 462.0L1827.5 462.0L1828.8 462.0L1830.0 462.0L1831.2 462.0L1832.4 462.0L1833.6 462.0L1834.7 462.0L1835.8 462.0L1836.9 462.0L1838.0 462.0L1839.0 462.0L1840.0 462.0L1841.0 462.0L1841.9 462.0L1842.9 462.0L1843.7 462.0L1844.6 462.0L1845.4 462.0L1846.2 462.0L1847.0 462.0" stroke="#00B050" stroke-width="6.2"/>
<path d="M1161.7 280.7L1162.4 279.8L1163.1 279.8L1164.0 279.3L1165.0 279.1L1166.1 278.4L1167.3 276.9L1168.5 276.1L1169.8 275.3L1171.1 273.8L1172.5 273.2L1173.9 271.9L1175.3 271.3L1176.8 270.4L1178.2 268.5L1179.6 267.1L1181.0 266.3L1182.0 264.8L1183.0 263.9L1184.0 262.8L1185.0 262.1L1186.1 261.5L1187.1 261.0L1188.2 259.7L1189.3 258.4L1190.4 257.9L1191.5 256.4L1192.6 255.5L1193.7 254.4L1194.8 252.6L1196.0 252.0L1197.1 251.3L1198.2 249.8L1199.3 249.1L1200.5 248.5L1201.6 246.6L1202.7 245.0L1203.8 244.0L1204.9 243.0L1206.0 241.7L1207.0 241.0L1208.1 240.0L1209.1 238.8L1210.2 237.7L1211.2 236.6L1212.2 235.2L1213.3 233.8L1214.3 232.8L1215.4 231.8L1216.4 231.2L1217.5 230.1L1218.5 228.4L1219.5 226.9L1220.6 226.5L1221.6 225.7L1222.7 224.4L1223.7 222.7L1224.8 221.4L1225.8 220.9L1226.8 220.2L1227.9 218.5L1228.9 217.1L1230.0 216.1L1231.0 215.1L1232.0 213.9L1233.1 212.9L1234.1 211.8L1235.2 211.0L1236.2 209.7L1237.2 208.0L1238.3 206.7L1239.3 206.0L1240.4 204.5L1241.4 203.2L1242.5 202.8L1243.5 202.6L1244.5 200.5L1245.6 199.0L1246.6 198.4L1247.7 197.5L1248.7 197.1L1249.8 196.0L1250.8 194.3L1251.8 193.6L1252.9 192.9L1253.9 191.6L1255.0 189.9L1256.0 189.0L1257.1 188.8L1258.2 187.3L1259.3 186.0L1260.3 184.3L1261.4 182.9L1262.5 182.0L1263.6 181.3L1264.7 180.9L1265.8 179.2L1266.9 178.0L1268.0 177.2L1269.0 175.6L1270.1 174.6L1271.2 173.6L1272.3 172.5L1273.4 171.2L1274.5 170.3L1275.6 169.6L1276.7 168.4L1277.7 167.0L1278.8 165.3L1279.9 164.2L1281.0 164.1L1282.2 163.3L1283.4 161.7L1284.6 161.0L1285.8 160.1L1287.0 158.3L1288.1 157.2L1289.3 156.6L1290.5 155.6L1291.7 154.1L1292.9 152.9L1294.1 150.9L1295.3 150.1L1296.5 149.3L1297.7 149.1L1298.9 148.8L1300.0 147.4L1301.2 146.2L1302.4 145.2L1303.6 144.6L1304.8 144.2L1306.0 143.4L1307.4 143.0L1308.8 142.1L1310.2 140.9L1311.6 140.1L1312.9 139.0L1314.3 137.9L1315.7 138.0L1317.1 136.8L1318.5 135.3L1319.9 134.8L1321.3 134.8L1322.7 133.8L1324.1 133.3L1325.4 133.7L1326.8 132.9L1328.2 132.2L1329.6 130.8L1331.0 129.9L1332.5 129.5L1334.0 129.6L1335.5 129.3L1337.0 129.0L1338.6 128.5L1340.1 127.9L1341.7 126.7L1343.2 126.2L1344.7 127.0L1346.2 125.9L1347.7 125.1L1349.2 125.1L1350.6 124.4L1352.0 123.8L1353.4 123.7L1354.7 123.3L1356.0 123.0L1357.7 122.2L1359.4 122.0L1360.9 120.5L1362.4 119.4L1363.8 119.3L1365.2 118.8L1366.6 118.0L1367.9 117.1L1369.3 116.0L1370.7 116.2L1372.1 115.4L1373.5 114.2L1374.9 112.7L1376.2 112.1L1377.7 112.1L1379.1 111.5L1380.5 110.4L1381.9 109.1L1383.3 108.8L1384.7 108.6L1386.0 107.0L1387.3 106.0L1388.6 105.8L1389.8 104.7L1391.0 104.0L1392.6 101.9L1394.1 100.1L1395.6 99.9L1396.9 99.6L1398.2 98.3L1399.5 97.5L1400.7 96.8L1401.9 96.1L1403.0 95.2L1404.8 94.3L1406.4 93.7L1407.9 92.9L1409.4 92.5L1411.0 92.5L1412.5 93.1L1414.0 93.2L1415.5 93.0L1417.0 92.2L1418.5 93.1L1420.0 94.2L1421.7 94.1L1423.3 95.0L1424.8 95.3L1426.4 95.6L1428.0 96.7L1429.2 97.4L1430.3 97.7L1431.5 98.8L1432.6 99.9L1433.8 100.7L1434.9 102.5L1436.0 104.1L1436.7 105.2L1437.5 105.5L1438.2 106.6L1438.9 108.6L1439.6 110.1L1440.3 111.6L1441.0 113.2L1441.7 114.3L1442.3 116.5L1443.0 118.4L1443.5 118.8L1444.0 120.2L1444.5 121.8L1445.0 123.2L1445.5 124.8L1445.9 126.1L1446.4 127.5L1446.9 129.1L1447.4 129.9L1447.9 131.3L1448.4 133.9L1449.0 136.6L1449.3 137.0L1449.7 138.1L1450.0 140.1L1450.4 141.2L1450.7 142.0L1451.1 143.3L1451.5 145.2L1451.8 147.1L1452.2 148.8L1452.6 149.8L1453.0 151.1L1453.3 153.0L1453.7 154.6L1454.1 156.3L1454.5 157.5L1454.9 159.1L1455.3 160.0L1455.8 162.4L1456.2 164.3L1456.6 166.2L1457.0 168.6L1457.3 169.5L1457.6 170.4L1457.9 172.2L1458.2 173.7L1458.5 174.9L1458.9 176.6L1459.2 178.3L1459.5 179.5L1459.9 180.1L1460.2 181.9L1460.5 184.0L1460.9 185.8L1461.2 186.8L1461.6 187.6L1461.9 190.0L1462.2 191.7L1462.6 193.2L1462.9 195.3L1463.2 196.2L1463.6 197.1L1463.9 199.1L1464.2 201.3L1464.6 202.5L1464.9 203.9L1465.2 205.5L1465.5 206.9L1465.8 208.2L1466.1 209.7L1466.4 210.6L1466.7 213.0L1467.0 215.0L1467.3 216.3L1467.6 217.4L1467.9 219.2L1468.1 221.2L1468.4 222.3L1468.7 223.3L1469.0 224.8L1469.2 226.5L1469.5 228.2L1469.7 230.1L1470.0 231.6L1470.2 232.9L1470.5 234.0L1470.7 235.3L1471.0 236.9L1471.2 238.8L1471.5 240.6L1471.7 241.5L1472.0 243.6L1472.2 245.4L1472.5 247.5L1472.7 248.3L1473.0 249.2L1473.2 250.6L1473.5 251.9L1473.7 253.3L1474.0 255.0L1474.3 256.5L1474.6 257.3L1474.9 259.3L1475.2 261.5L1475.5 263.6L1475.8 265.2L1476.1 266.2L1476.4 267.4L1476.7 269.0L1477.0 270.8L1477.3 272.2L1477.6 273.6L1477.9 274.6L1478.2 276.2L1478.5 279.1L1478.8 280.8L1479.1 281.3L1479.4 282.2L1479.7 284.1L1480.0 285.3L1480.3 287.0L1480.6 288.9L1480.9 290.2L1481.2 291.4L1481.5 293.4L1481.8 294.5L1482.2 295.6L1482.5 298.2L1482.9 299.5L1483.2 300.7L1483.6 302.9L1483.9 303.8L1484.3 305.2L1484.6 307.5L1485.0 309.6L1485.3 310.9L1485.7 312.9L1486.0 314.2L1486.4 315.2L1486.7 316.5L1487.0 318.3L1487.3 320.2L1487.6 321.5L1487.9 322.8L1488.2 324.2L1488.5 325.6L1488.8 326.4L1489.0 328.2L1489.4 330.1L1489.8 331.9L1490.1 333.3L1490.4 335.0L1490.7 336.4L1491.0 338.0L1491.2 339.8L1491.4 340.3L1491.7 341.5L1491.9 343.2L1492.2 344.2L1492.5 345.5L1492.8 346.8L1493.0 347.9L1493.3 350.1L1493.5 351.5L1493.7 352.3L1494.0 354.3L1494.2 355.5L1494.5 356.6L1494.8 358.6L1495.2 360.9L1495.6 361.7L1496.0 363.1L1496.5 366.0L1496.8 366.8L1497.1 367.8L1497.5 369.0L1497.8 370.7L1498.2 372.6L1498.6 373.8L1499.0 375.3L1499.4 376.4L1499.9 377.6L1500.3 379.3L1500.7 381.8L1501.2 383.6L1501.7 384.4L1502.1 386.7L1502.6 388.8L1503.0 389.8L1503.5 391.4L1503.9 393.2L1504.3 394.7L1504.8 396.0L1505.2 397.5L1505.6 398.2L1505.9 399.3L1506.3 400.9L1506.9 402.2L1507.5 404.6L1508.1 407.1L1508.6 408.6L1509.1 409.9L1509.6 410.9L1510.1 412.1L1510.6 414.0L1511.2 414.9L1511.7 416.3L1512.3 417.9L1512.9 419.1L1513.5 420.4L1514.2 421.5L1514.9 423.5L1515.6 425.4L1516.3 426.4L1517.0 427.0L1517.8 428.6L1518.6 430.4L1519.3 431.7L1520.1 433.7L1521.0 435.0L1521.8 436.3L1522.6 437.0L1523.5 438.3L1524.5 439.5L1525.6 440.1L1526.7 442.1L1527.8 443.8L1528.9 443.6L1530.0 444.5L1531.2 446.2L1532.3 447.2L1533.5 447.9L1534.8 447.9L1536.0 448.5L1537.4 448.7L1538.8 450.3L1540.2 451.3L1541.7 451.6L1543.2 451.3L1544.7 451.6L1546.2 452.2L1547.8 453.0L1549.4 453.4L1551.0 453.8L1552.5 454.4L1553.9 454.8L1555.4 455.2L1556.9 455.7L1558.4 456.3L1559.9 456.4L1561.5 456.5L1563.1 456.3L1564.8 456.3L1566.6 456.9L1568.5 457.2L1569.8 457.5L1571.2 457.1L1572.5 457.1L1573.9 457.6L1575.3 457.3L1576.8 458.0L1578.2 457.9L1579.8 457.0L1581.3 456.9L1582.9 457.8L1584.5 457.4L1586.2 457.3L1587.9 457.1L1589.7 457.2L1591.6 457.7L1593.5 457.0L1594.8 457.1L1596.1 457.0L1597.4 457.3L1598.8 457.1L1600.2 456.9L1601.6 456.4L1603.1 456.3L1604.6 457.2L1606.1 457.1L1607.6 456.8L1609.1 455.3L1610.7 455.4L1612.3 455.9L1613.8 455.2L1615.4 455.7L1617.0 456.0L1618.6 455.3L1620.1 454.5L1621.7 455.1L1623.3 454.5L1624.9 454.8L1626.4 454.9L1628.0 455.1L1629.5 455.2L1631.0 454.7L1632.5 454.8L1634.0 455.3L1635.5 454.8L1637.0 454.4L1638.5 455.5L1640.0 455.4L1641.5 455.6L1643.0 454.7L1644.5 454.0L1646.0 454.9L1647.5 454.9L1649.0 455.0L1650.5 455.4L1652.0 455.1L1653.5 454.6L1655.0 454.8L1656.5 455.0L1658.0 454.3L1659.5 454.7L1661.0 455.2L1662.5 454.9L1664.0 454.4L1665.5 454.7L1667.0 455.0L1668.5 455.0L1670.0 455.3L1671.5 455.3L1672.9 455.4L1674.4 455.6L1675.8 455.8L1677.2 456.4L1678.6 456.3L1680.1 456.4L1681.5 456.0L1682.9 455.8L1684.3 455.5L1685.8 456.3L1687.2 456.8L1688.6 456.3L1690.1 455.9L1691.6 455.6L1693.1 455.6L1694.6 455.4L1696.1 455.6L1697.7 455.6L1699.3 455.9L1700.9 456.8L1702.6 456.6L1704.3 456.7L1706.0 457.4L1707.3 457.8L1708.7 456.9L1710.1 456.6L1711.5 457.0L1712.9 456.9L1714.3 458.2L1715.8 458.3L1717.3 457.4L1718.7 457.3L1720.2 457.3L1721.7 457.3L1723.3 457.7L1724.8 458.1L1726.3 457.9L1727.9 457.6L1729.4 457.7L1731.0 457.7L1732.6 458.6L1734.1 458.8L1735.7 458.8L1737.3 458.6L1738.9 458.7L1740.4 458.9L1742.0 459.0L1743.6 458.5L1745.2 458.7L1746.7 458.5L1748.3 458.5L1749.9 459.0L1751.4 459.3L1752.9 458.5L1754.5 459.3L1756.0 459.7L1757.5 458.9L1759.0 458.2L1760.6 458.2L1762.1 459.2L1763.7 459.1L1765.2 459.3L1766.8 459.1L1768.3 459.0L1769.9 459.3L1771.4 459.5L1773.0 459.4L1774.6 459.6L1776.1 460.1L1777.7 460.3L1779.2 460.2L1780.8 460.5L1782.3 460.4L1783.9 460.1L1785.4 460.4L1787.0 461.3L1788.5 461.4L1790.0 460.2L1791.5 460.0L1793.0 460.1L1794.5 460.1L1796.0 460.6L1797.5 460.7L1798.9 460.2L1800.4 460.2L1801.8 460.4L1803.2 460.8L1804.6 460.4L1806.0 460.2L1807.7 460.5L1809.4 460.5L1811.2 461.3L1812.9 461.7L1814.7 461.4L1816.5 461.0L1818.3 461.8L1820.1 461.8L1821.9 461.9L1823.6 462.1L1825.4 461.7L1827.1 461.8L1828.8 462.4L1830.5 461.5L1832.1 461.1L1833.7 461.8L1835.2 461.7L1836.7 461.0L1838.1 461.6L1839.5 462.4L1840.8 462.2L1842.1 461.8L1843.2 462.3L1844.3 462.2L1845.3 461.9L1846.2 461.0L1847.0 461.0" stroke="#C00000" stroke-width="6.2"/>
<path d="M1434.7 425.8L1435.4 425.2L1436.3 424.3L1437.4 423.3L1438.6 422.3L1439.9 421.2L1441.1 419.7L1442.2 418.3L1443.0 417.0L1443.8 415.9L1444.6 414.7L1445.4 413.2L1446.2 411.8L1447.0 410.2L1447.8 409.0L1448.5 407.6L1449.2 405.8L1449.9 404.7L1450.5 403.5L1451.2 402.1L1451.8 400.5L1452.4 399.1L1453.0 397.8L1453.5 396.3L1454.1 394.9L1454.7 393.5L1455.1 392.2L1455.6 390.7L1456.0 389.4L1456.4 387.8L1456.8 386.4L1457.2 385.2L1457.6 383.7L1458.1 382.0L1458.5 380.5L1458.9 379.1L1459.3 377.5L1459.7 375.9L1460.1 374.6L1460.5 373.0L1460.9 371.3L1461.3 369.6L1461.8 367.9L1462.2 366.5L1462.6 365.2L1463.0 363.4L1463.4 361.6L1463.8 360.1L1464.1 358.7L1464.4 357.4L1464.7 356.0L1465.0 354.3L1465.2 352.7L1465.4 351.2L1465.5 349.9L1465.7 348.8L1465.8 347.2L1465.9 345.8L1466.1 344.2L1466.4 342.2L1466.7 340.0L1466.9 338.9L1467.2 337.8L1467.4 336.3L1467.7 334.8L1468.0 333.5L1468.3 331.9L1468.6 330.6L1468.9 329.1L1469.2 327.7L1469.6 326.0L1469.9 324.3L1470.2 322.7L1470.6 321.0L1470.9 319.2L1471.2 317.7L1471.6 315.9L1471.9 314.4L1472.2 312.8L1472.5 311.2L1472.8 310.2L1473.0 308.7L1473.3 306.9L1473.6 305.6L1473.9 304.1L1474.1 302.7L1474.4 301.2L1474.7 299.7L1475.0 298.1L1475.3 296.5L1475.5 294.9L1475.8 293.5L1476.1 292.2L1476.4 290.7L1476.6 289.1L1476.9 287.7L1477.2 286.1L1477.4 284.3L1477.7 282.7L1477.9 281.4L1478.2 280.2L1478.4 278.3L1478.7 276.6L1478.9 275.1L1479.2 273.5L1479.4 272.2L1479.6 270.6L1479.9 269.2L1480.1 267.5L1480.3 266.0L1480.6 264.3L1480.8 262.7L1481.1 261.4L1481.3 259.5L1481.5 258.0L1481.8 256.4L1482.0 254.8L1482.2 253.4L1482.5 251.7L1482.7 250.2L1482.9 248.8L1483.2 247.1L1483.4 245.6L1483.7 244.2L1483.9 242.5L1484.1 241.2L1484.4 239.6L1484.6 237.9L1484.8 236.4L1485.1 234.7L1485.3 233.1L1485.6 231.7L1485.8 230.2L1486.0 228.7L1486.3 227.2L1486.5 225.5L1486.7 224.1L1487.0 222.7L1487.2 220.8L1487.5 219.3L1487.7 217.7L1487.9 216.3L1488.2 214.9L1488.4 213.3L1488.7 211.7L1488.9 210.0L1489.1 208.2L1489.4 206.7L1489.6 205.8L1489.8 204.2L1490.1 202.5L1490.3 200.9L1490.6 199.4L1490.8 197.8L1491.0 196.2L1491.3 194.7L1491.5 192.9L1491.7 191.4L1492.0 189.8L1492.2 188.3L1492.5 186.9L1492.7 185.3L1492.9 183.6L1493.2 182.2L1493.4 180.7L1493.7 179.1L1493.9 177.5L1494.1 175.8L1494.4 174.1L1494.6 172.7L1494.9 171.2L1495.1 169.6L1495.4 168.1L1495.6 166.5L1495.8 164.8L1496.1 163.4L1496.3 162.0L1496.5 160.1L1496.8 158.5L1497.0 157.0L1497.2 155.7L1497.5 154.2L1497.7 152.8L1498.0 151.2L1498.2 149.5L1498.5 147.8L1498.7 146.0L1499.0 144.1L1499.2 142.7L1499.5 141.3L1499.7 139.6L1500.0 138.1L1500.2 136.4L1500.5 135.0L1500.7 133.5L1501.0 131.8L1501.2 130.4L1501.5 129.1L1501.7 127.9L1502.0 126.6L1502.2 125.5L1502.7 123.5L1503.1 121.4L1503.5 119.9L1504.0 118.3L1504.5 116.6L1504.9 115.1L1505.4 114.0L1505.8 112.7L1506.2 111.5L1506.7 110.5L1507.3 108.8L1508.0 107.3L1508.6 105.6L1509.2 104.1L1509.9 102.6L1510.5 101.4L1511.2 100.4L1512.1 98.7L1513.1 97.2L1514.1 95.7L1515.1 94.6L1516.2 94.2L1517.8 94.2L1519.5 94.5L1521.1 95.5L1522.7 96.4L1523.6 97.1L1524.5 98.4L1525.3 99.9L1526.1 101.7L1526.9 103.4L1527.7 105.5L1528.2 106.6L1528.7 107.8L1529.2 109.1L1529.7 110.4L1530.2 111.8L1530.7 113.6L1531.2 115.3L1531.7 116.8L1532.2 118.6L1532.7 120.5L1533.0 121.7L1533.4 123.0L1533.7 124.4L1534.0 125.8L1534.4 127.2L1534.7 128.7L1535.0 130.2L1535.4 131.6L1535.7 133.2L1536.0 134.9L1536.4 136.7L1536.7 138.3L1537.0 139.8L1537.4 141.3L1537.7 142.7L1538.0 144.5L1538.4 145.9L1538.7 147.3L1539.0 149.0L1539.4 150.4L1539.7 152.0L1540.0 153.4L1540.4 154.7L1540.7 156.4L1541.0 157.8L1541.4 159.1L1541.7 160.8L1542.0 162.3L1542.4 163.6L1542.7 165.2L1543.0 166.6L1543.3 168.1L1543.6 169.7L1544.0 171.2L1544.3 173.0L1544.6 174.6L1544.9 176.0L1545.2 177.6L1545.5 179.2L1545.8 180.8L1546.1 182.4L1546.5 184.2L1546.8 185.8L1547.1 187.5L1547.4 188.8L1547.7 190.0L1548.0 191.6L1548.3 193.5L1548.6 195.1L1548.9 196.7L1549.2 198.2L1549.5 199.8L1549.8 201.2L1550.1 202.7L1550.4 204.3L1550.7 205.9L1551.0 207.5L1551.3 208.9L1551.7 210.4L1552.0 212.2L1552.3 213.6L1552.7 215.1L1553.0 216.6L1553.4 218.3L1553.8 219.6L1554.1 221.0L1554.5 222.5L1554.9 224.2L1555.3 225.6L1555.7 227.1L1556.1 228.5L1556.5 230.0L1556.9 231.7L1557.3 233.1L1557.7 234.4L1558.1 236.0L1558.4 237.4L1558.8 238.7L1559.2 240.3L1559.6 241.6L1559.9 243.0L1560.3 244.6L1560.6 246.2L1561.0 247.7L1561.3 249.2L1561.7 250.7L1562.0 252.0L1562.4 253.3L1562.7 255.3L1563.1 257.0L1563.4 258.1L1563.8 259.5L1564.1 261.0L1564.5 262.5L1564.8 264.0L1565.2 265.4L1565.6 267.1L1566.0 268.7L1566.4 269.8L1566.8 271.1L1567.2 272.8L1567.5 274.4L1567.9 276.0L1568.3 277.3L1568.7 278.4L1569.1 280.0L1569.5 281.5L1570.0 283.0L1570.4 284.5L1570.9 286.0L1571.3 287.6L1571.8 289.2L1572.3 290.6L1572.8 292.0L1573.4 293.5L1573.9 295.0L1574.5 296.6L1575.0 298.1L1575.6 299.6L1576.1 301.1L1576.7 302.5L1577.3 304.1L1577.8 305.6L1578.4 306.8L1579.0 308.0L1579.6 309.5L1580.2 311.1L1580.8 312.8L1581.4 314.2L1582.0 315.4L1582.6 317.2L1583.2 318.5L1583.8 319.6L1584.4 321.2L1585.0 322.8L1585.7 324.3L1586.3 325.8L1587.0 326.8L1587.6 327.8L1588.3 329.2L1589.2 330.7L1590.1 332.1L1591.1 333.7L1592.0 335.3L1593.0 336.8L1594.0 338.2L1595.0 339.5L1595.9 340.6L1596.8 341.8L1597.7 342.9L1598.6 343.6L1599.9 345.1L1601.1 346.9L1602.3 347.2L1603.4 347.6L1604.7 347.7L1606.3 348.9L1607.2 349.5L1608.2 350.7L1609.2 352.8L1610.3 353.9L1611.4 354.5L1612.5 355.1L1613.7 356.1L1614.9 357.8L1616.2 359.2L1617.5 359.4L1618.8 360.3L1620.0 362.1L1621.2 362.4L1622.4 363.0L1623.7 365.3L1625.1 365.5L1626.4 366.1L1627.8 366.8L1629.2 367.5L1630.6 367.6L1632.0 368.1L1633.4 369.5L1634.9 370.1L1636.3 370.5L1637.8 372.0L1639.2 371.9L1640.7 371.5L1642.3 373.0L1643.8 373.9L1645.4 374.3L1646.9 374.3L1648.5 374.6L1650.1 375.6L1651.6 376.3L1653.2 376.1L1654.8 377.3L1656.3 377.0L1657.7 376.5L1659.2 377.0L1660.6 378.2L1662.0 379.5L1663.4 378.6L1664.9 378.6L1666.3 380.2L1667.7 380.7L1669.2 380.9L1670.6 381.3L1672.0 382.5L1673.4 383.2L1674.9 383.2L1676.3 383.5L1677.7 384.1L1679.2 384.2L1680.6 385.8L1682.0 386.6L1683.4 386.5L1684.9 386.7L1686.3 387.3L1687.7 389.5L1689.2 390.6L1690.6 391.7L1692.0 391.5L1693.4 392.1L1694.9 392.6L1696.3 392.8L1697.7 393.6L1699.2 394.0L1700.7 394.5L1702.2 394.8L1703.6 396.3L1705.1 397.2L1706.6 396.9L1708.1 397.2L1709.5 397.9L1711.0 399.7L1712.3 400.3L1713.7 401.2L1715.0 402.1L1716.3 401.9L1717.7 402.8L1719.1 404.2L1720.3 404.8L1721.6 406.6L1722.8 406.3L1724.0 407.1L1725.1 407.5L1726.3 409.0L1727.5 410.1L1728.7 410.1L1730.0 411.2L1731.3 413.1L1732.6 413.0L1733.9 414.4L1735.2 414.3L1736.5 414.9L1737.8 415.8L1739.2 416.6L1740.6 417.6L1742.0 418.0L1743.3 418.3L1744.7 419.0L1746.1 420.2L1747.4 421.2L1748.8 421.2L1750.3 422.1L1751.7 423.0L1753.2 423.2L1754.6 423.2L1756.1 424.5L1757.5 425.3L1759.0 426.3L1760.5 426.6L1761.9 427.2L1763.4 428.1L1764.8 428.1L1766.3 429.4L1767.8 429.4L1769.2 430.0L1770.7 430.7L1772.1 430.7L1773.6 431.7L1775.0 431.7L1776.5 432.2L1778.0 433.0L1779.4 433.4L1780.9 433.3L1782.3 433.9L1783.8 434.6L1785.3 435.5L1786.7 437.2L1788.2 438.4L1789.6 437.6L1791.1 437.7L1792.5 439.0L1794.0 439.5L1795.5 438.7L1796.9 440.2L1798.4 440.0L1799.8 440.3L1801.3 441.4L1802.9 441.7L1804.5 442.1L1806.1 443.0L1807.7 443.1L1809.3 443.2L1810.8 443.3L1812.4 443.7L1814.0 444.0L1815.6 444.6L1817.2 444.6L1818.8 444.9L1820.4 446.1L1822.1 446.4L1823.7 445.9L1825.4 445.6L1827.1 446.4L1828.8 447.9L1830.4 448.0L1832.0 448.5L1833.5 449.0L1835.0 449.1L1836.3 449.8L1838.3 450.1L1840.2 449.5L1842.0 449.4L1843.7 450.1L1845.1 451.3L1846.4 451.2L1847.3 450.6" stroke="#002060" stroke-width="5.9" stroke-dasharray="12.3 12.4" stroke-dashoffset="2.5"/>
<path d="M1435.5 425.4L1436.2 424.8L1437.1 424.1L1438.2 423.0L1439.4 421.8L1440.7 420.6L1441.9 419.1L1443.0 418.0L1443.8 417.0L1444.6 415.7L1445.4 414.3L1446.2 412.9L1447.0 411.5L1447.8 409.9L1448.6 408.3L1449.3 406.8L1450.0 405.4L1450.7 404.0L1451.3 402.8L1452.0 401.7L1452.6 400.1L1453.2 398.9L1453.8 397.5L1454.3 396.0L1454.9 394.5L1455.5 392.9L1455.9 391.6L1456.4 390.3L1456.8 388.9L1457.2 387.6L1457.6 386.1L1458.0 384.6L1458.4 383.2L1458.9 381.5L1459.3 380.0L1459.7 378.5L1460.1 376.8L1460.5 375.3L1460.9 374.2L1461.3 372.8L1461.7 371.0L1462.1 369.4L1462.6 367.9L1463.0 366.3L1463.4 364.7L1463.8 363.1L1464.2 361.3L1464.6 359.8L1464.9 358.1L1465.2 356.8L1465.5 355.5L1465.8 353.7L1466.0 352.4L1466.2 350.9L1466.3 349.7L1466.5 348.3L1466.6 346.9L1466.7 345.4L1466.9 343.7L1467.2 342.3L1467.5 340.5L1467.7 339.0L1468.0 337.6L1468.2 336.1L1468.5 334.9L1468.8 333.6L1469.1 332.2L1469.4 330.4L1469.7 328.7L1470.0 326.9L1470.4 325.4L1470.7 323.9L1471.0 322.1L1471.4 320.4L1471.7 319.0L1472.0 317.4L1472.4 315.8L1472.7 314.2L1473.0 312.4L1473.3 311.0L1473.6 309.7L1473.8 308.2L1474.1 306.6L1474.4 305.2L1474.7 303.8L1474.9 302.4L1475.2 301.0L1475.5 299.5L1475.8 297.9L1476.1 296.3L1476.3 294.6L1476.6 293.0L1476.9 291.6L1477.2 290.3L1477.4 288.9L1477.7 287.1L1478.0 285.4L1478.2 283.8L1478.5 282.3L1478.7 280.9L1479.0 279.4L1479.2 277.7L1479.5 276.4L1479.7 275.0L1480.0 273.4L1480.2 272.0L1480.4 270.4L1480.7 268.9L1480.9 267.2L1481.1 265.6L1481.4 263.8L1481.6 262.3L1481.9 260.9L1482.1 259.2L1482.3 257.8L1482.6 256.4L1482.8 254.6L1483.0 253.0L1483.3 251.7L1483.5 250.1L1483.7 248.7L1484.0 247.0L1484.2 245.2L1484.5 243.8L1484.7 242.3L1484.9 241.0L1485.2 239.4L1485.4 237.8L1485.6 236.1L1485.9 234.4L1486.1 233.1L1486.4 231.6L1486.6 230.0L1486.8 228.5L1487.1 227.0L1487.3 225.3L1487.5 223.7L1487.8 222.2L1488.0 220.6L1488.3 219.1L1488.5 217.7L1488.7 216.2L1489.0 214.3L1489.2 212.6L1489.5 211.3L1489.7 209.9L1489.9 208.3L1490.2 206.7L1490.4 205.0L1490.6 203.6L1490.9 202.1L1491.1 200.6L1491.4 198.9L1491.6 197.3L1491.8 195.7L1492.1 194.3L1492.3 192.8L1492.5 191.3L1492.8 189.7L1493.0 187.9L1493.3 186.5L1493.5 185.0L1493.7 183.4L1494.0 182.2L1494.2 180.6L1494.5 178.6L1494.7 177.0L1494.9 175.6L1495.2 174.0L1495.4 172.6L1495.7 171.0L1495.9 169.1L1496.2 167.5L1496.4 165.8L1496.6 164.4L1496.9 163.0L1497.1 161.5L1497.3 159.8L1497.6 158.3L1497.8 156.7L1498.0 155.2L1498.3 154.0L1498.5 152.4L1498.8 150.9L1499.0 149.4L1499.3 147.7L1499.5 145.7L1499.8 144.3L1500.0 142.7L1500.3 140.8L1500.5 139.3L1500.8 137.7L1501.0 136.3L1501.3 134.6L1501.5 133.0L1501.8 131.5L1502.0 130.2L1502.3 128.9L1502.5 127.4L1502.8 126.1L1503.0 125.2L1503.5 123.2L1503.9 121.2L1504.3 119.6L1504.8 117.9L1505.2 116.5L1505.7 115.2L1506.2 113.7L1506.6 112.2L1507.0 111.1L1507.5 110.1L1508.1 108.2L1508.8 106.6L1509.4 105.3L1510.0 103.8L1510.7 102.4L1511.3 101.2L1512.0 99.8L1512.9 98.4L1513.9 96.9L1514.9 95.6L1515.9 94.7L1517.0 94.0L1518.6 93.6L1520.2 93.9L1521.9 94.7L1523.5 95.9L1524.4 97.0L1525.3 98.4L1526.1 99.9L1526.9 101.5L1527.7 103.3L1528.5 105.0L1529.0 106.3L1529.5 107.6L1530.0 108.6L1530.5 110.0L1531.0 111.7L1531.5 113.2L1532.0 114.7L1532.5 116.5L1533.0 118.2L1533.5 119.9L1533.8 121.2L1534.2 123.0L1534.5 124.3L1534.8 125.4L1535.2 126.7L1535.5 128.4L1535.8 129.8L1536.2 131.3L1536.5 132.9L1536.8 134.6L1537.2 136.3L1537.5 137.9L1537.8 139.2L1538.2 140.8L1538.5 142.3L1538.8 144.0L1539.2 145.7L1539.5 147.2L1539.8 148.7L1540.2 150.1L1540.5 151.4L1540.8 152.6L1541.2 154.1L1541.5 155.8L1541.8 157.2L1542.2 158.8L1542.5 160.3L1542.8 161.8L1543.2 163.5L1543.5 165.1L1543.8 166.4L1544.1 167.9L1544.4 169.6L1544.8 171.1L1545.1 172.7L1545.4 174.2L1545.7 175.8L1546.0 177.4L1546.3 179.0L1546.6 180.4L1546.9 181.9L1547.2 183.6L1547.6 185.4L1547.9 186.7L1548.2 188.1L1548.5 189.9L1548.8 191.6L1549.1 193.3L1549.4 194.8L1549.7 196.2L1550.0 197.9L1550.3 199.3L1550.6 200.9L1550.9 202.5L1551.2 204.1L1551.5 205.6L1551.8 207.1L1552.1 208.8L1552.5 210.4L1552.8 211.9L1553.1 213.7L1553.5 215.2L1553.8 216.5L1554.2 217.9L1554.6 219.4L1554.9 220.9L1555.3 222.3L1555.7 224.0L1556.1 225.3L1556.5 226.7L1556.9 228.1L1557.3 229.6L1557.7 231.1L1558.1 232.7L1558.5 234.0L1558.9 235.5L1559.2 237.2L1559.6 238.6L1560.0 240.0L1560.4 241.1L1560.7 242.4L1561.1 244.4L1561.4 245.9L1561.8 247.3L1562.2 249.0L1562.5 250.3L1562.9 251.8L1563.2 253.4L1563.6 255.0L1563.9 256.5L1564.3 257.9L1564.6 259.2L1564.9 260.6L1565.3 261.9L1565.6 263.4L1566.0 265.2L1566.4 266.6L1566.8 268.2L1567.2 269.7L1567.5 271.1L1567.9 272.8L1568.3 274.1L1568.7 275.8L1569.1 277.5L1569.5 278.9L1569.9 280.2L1570.3 281.4L1570.7 282.7L1571.1 284.4L1571.5 286.3L1572.0 287.7L1572.5 289.0L1573.0 290.5L1573.5 292.3L1574.0 293.7L1574.5 295.3L1575.0 296.8L1575.6 298.2L1576.1 300.0L1576.7 301.1L1577.2 302.3L1577.8 304.1L1578.3 305.8L1578.9 307.2L1579.4 308.6L1580.0 310.0L1580.6 311.6L1581.2 312.9L1581.8 314.4L1582.3 316.0L1582.9 317.6L1583.5 319.0L1584.1 320.5L1584.7 321.9L1585.3 323.0L1585.9 324.5L1586.6 326.0L1587.2 327.5L1587.8 328.8L1588.5 329.9L1589.3 331.2L1590.1 332.7L1591.0 334.3L1591.8 335.6L1592.7 337.2L1593.6 338.8L1594.4 339.8L1595.3 340.7L1596.1 342.0L1597.0 343.1L1597.7 344.1L1598.5 345.1L1599.8 346.3L1601.0 346.8L1602.1 348.1L1603.2 348.6L1604.5 349.2L1606.0 350.5L1606.9 351.3L1607.9 352.4L1608.9 353.5L1610.0 355.6L1611.1 356.9L1612.2 357.1L1613.4 357.8L1614.6 359.4L1615.9 361.6L1617.2 363.1L1618.5 364.3L1619.7 364.5L1620.9 363.9L1622.1 366.1L1623.4 366.8L1624.8 366.8L1626.1 367.5L1627.5 368.1L1628.9 369.0L1630.3 368.9L1631.7 370.1L1633.1 371.4L1634.6 371.1L1636.0 371.6L1637.5 372.7L1638.9 373.0L1640.4 373.1L1642.0 373.7L1643.5 374.4L1645.1 375.1L1646.6 375.1L1648.2 375.7L1649.8 376.8L1651.3 377.2L1652.9 377.6L1654.5 378.2L1656.0 378.0L1657.4 378.8L1658.9 379.4L1660.3 379.2L1661.7 378.8L1663.1 379.1L1664.6 379.3L1666.0 380.8L1667.4 381.5L1668.9 382.5L1670.3 382.2L1671.7 383.3L1673.1 384.3L1674.6 385.3L1676.0 385.6L1677.4 385.9L1678.9 385.9L1680.3 387.1L1681.7 388.5L1683.1 389.3L1684.6 389.5L1686.0 389.7L1687.4 390.4L1688.9 390.3L1690.3 390.9L1691.7 392.6L1693.1 393.4L1694.6 394.1L1696.0 394.2L1697.4 394.3L1698.9 395.7L1700.4 396.0L1701.9 396.9L1703.3 397.7L1704.8 397.4L1706.3 398.3L1707.8 400.9L1709.2 401.7L1710.7 401.4L1712.0 401.4L1713.4 402.5L1714.7 404.1L1716.0 404.6L1717.4 404.8L1718.8 405.1L1720.0 406.1L1721.3 408.0L1722.5 409.2L1723.7 409.5L1724.8 409.9L1726.0 411.0L1727.2 412.1L1728.4 411.6L1729.7 412.1L1731.0 414.4L1732.3 415.8L1733.6 416.6L1734.9 415.8L1736.2 415.8L1737.5 417.8L1738.9 418.5L1740.3 418.0L1741.7 418.7L1743.0 419.4L1744.4 420.2L1745.8 421.2L1747.1 422.6L1748.5 422.9L1750.0 423.7L1751.4 424.9L1752.9 425.5L1754.3 426.5L1755.8 427.1L1757.2 427.8L1758.7 428.0L1760.2 428.5L1761.6 429.2L1763.1 429.1L1764.5 429.2L1766.0 430.5L1767.5 431.0L1768.9 432.0L1770.4 432.9L1771.8 432.8L1773.3 433.1L1774.8 433.9L1776.2 434.9L1777.7 434.8L1779.1 434.9L1780.6 436.0L1782.0 437.3L1783.5 437.0L1785.0 436.7L1786.4 437.7L1787.9 438.2L1789.3 438.5L1790.8 439.7L1792.2 440.3L1793.7 440.5L1795.2 440.8L1796.6 441.5L1798.1 442.2L1799.5 443.1L1801.0 442.7L1802.6 442.6L1804.2 443.3L1805.8 443.8L1807.4 444.4L1809.0 444.8L1810.5 445.6L1812.1 446.9L1813.7 447.0L1815.3 446.5L1816.9 447.2L1818.5 447.4L1820.1 446.5L1821.8 446.5L1823.4 447.8L1825.1 449.2L1826.8 449.4L1828.5 449.3L1830.1 449.5L1831.7 450.2L1833.2 450.0L1834.7 449.7L1836.0 450.9L1838.0 451.8L1839.9 451.5L1841.7 451.0L1843.4 451.6L1844.8 452.9L1846.1 452.4L1847.0 452.8" stroke="#00B050" stroke-width="5.9" stroke-dasharray="12.3 12.4" stroke-dashoffset="0"/>
<path d="M1436.0 406.5L1436.1 405.4L1436.3 404.8L1436.5 403.7L1436.7 402.7L1436.9 401.4L1437.2 399.4L1437.4 397.9L1437.7 396.2L1438.0 394.2L1438.3 392.7L1438.6 390.7L1438.9 389.3L1439.2 387.7L1439.5 385.5L1439.9 383.6L1440.2 382.2L1440.5 380.3L1440.8 378.8L1441.2 377.2L1441.5 376.0L1441.8 374.9L1442.2 373.9L1442.5 372.5L1442.9 371.0L1443.3 370.0L1443.7 368.4L1444.0 367.2L1444.4 365.7L1444.8 363.8L1445.3 362.6L1445.7 361.2L1446.1 359.2L1446.5 357.7L1447.0 356.1L1447.3 354.4L1447.5 352.8L1447.8 351.7L1448.1 350.5L1448.4 349.0L1448.7 347.9L1449.0 346.6L1449.3 345.2L1449.7 343.7L1450.0 342.3L1450.3 340.6L1450.6 339.0L1450.9 337.6L1451.3 336.2L1451.6 335.0L1451.9 333.5L1452.3 331.5L1452.6 329.7L1452.9 328.7L1453.2 327.3L1453.6 325.6L1453.9 323.6L1454.2 321.9L1454.5 320.7L1454.8 319.4L1455.1 317.5L1455.4 315.7L1455.7 314.1L1456.0 312.5L1456.2 311.1L1456.5 309.7L1456.7 308.3L1457.0 307.0L1457.2 305.4L1457.5 303.5L1457.7 301.9L1457.9 300.6L1458.2 298.8L1458.4 297.1L1458.6 296.1L1458.8 295.1L1459.1 292.9L1459.3 291.0L1459.5 289.8L1459.7 288.4L1460.0 287.2L1460.2 285.7L1460.4 283.7L1460.6 282.4L1460.8 281.1L1461.1 279.4L1461.3 277.4L1461.5 276.0L1461.7 275.0L1461.9 273.3L1462.2 271.6L1462.4 269.7L1462.6 268.0L1462.8 266.7L1463.0 265.5L1463.3 264.5L1463.5 262.7L1463.8 261.1L1464.0 259.6L1464.2 257.7L1464.5 256.3L1464.8 254.8L1465.0 253.3L1465.2 251.5L1465.5 250.1L1465.8 248.9L1466.0 247.2L1466.2 245.5L1466.5 243.6L1466.8 242.0L1467.0 241.1L1467.2 239.8L1467.5 238.0L1467.8 236.7L1468.0 235.4L1468.2 233.5L1468.5 231.9L1468.8 230.8L1469.0 229.3L1469.2 227.6L1469.5 226.0L1469.8 223.9L1470.0 222.6L1470.2 221.3L1470.5 220.3L1470.8 219.3L1471.0 217.6L1471.3 215.8L1471.5 214.1L1471.8 212.8L1472.1 211.5L1472.3 210.0L1472.6 208.7L1472.9 207.2L1473.2 205.4L1473.4 203.8L1473.7 202.1L1474.0 200.3L1474.2 199.3L1474.5 197.5L1474.8 195.4L1475.1 193.9L1475.3 192.8L1475.6 191.1L1475.9 189.6L1476.1 188.8L1476.4 187.2L1476.7 185.6L1476.9 183.5L1477.2 181.9L1477.5 180.5L1477.7 179.4L1478.0 178.1L1478.2 176.9L1478.5 175.4L1478.8 173.7L1479.1 171.5L1479.4 169.9L1479.6 169.1L1479.9 167.0L1480.2 165.1L1480.5 163.8L1480.8 162.0L1481.1 160.4L1481.3 159.0L1481.6 157.5L1481.9 156.1L1482.2 154.5L1482.4 153.3L1482.7 151.2L1483.0 149.4L1483.3 148.3L1483.6 147.0L1483.8 145.5L1484.1 144.0L1484.4 142.3L1484.7 141.6L1484.9 140.2L1485.2 138.6L1485.5 136.8L1485.9 135.1L1486.3 134.0L1486.7 132.3L1487.1 130.5L1487.5 128.5L1487.9 127.2L1488.2 126.0L1488.6 123.9L1489.0 122.2L1489.4 121.2L1489.8 119.5L1490.2 118.0L1490.6 115.9L1491.0 114.1L1491.4 113.3L1491.7 112.6L1492.1 111.2L1492.5 110.1L1493.2 108.2L1494.0 106.4L1494.7 104.5L1495.4 103.1L1496.1 101.9L1496.8 100.5L1497.5 99.3L1498.3 98.4L1499.0 97.9L1500.4 96.3L1501.8 94.7L1503.2 92.9L1504.7 92.8L1506.0 93.5L1506.9 93.6L1507.8 94.9L1508.6 95.8L1509.4 97.0L1510.3 98.8L1511.1 100.5L1512.0 102.0L1512.6 103.3L1513.3 104.6L1513.9 105.7L1514.5 107.4L1515.2 108.9L1515.8 110.4L1516.5 111.4L1517.1 113.0L1517.8 115.3L1518.5 117.4L1518.9 118.5L1519.2 119.8L1519.6 120.7L1520.0 122.5L1520.4 124.0L1520.8 124.8L1521.2 126.4L1521.6 128.0L1522.0 129.5L1522.4 131.3L1522.8 132.8L1523.2 134.3L1523.6 135.9L1524.0 136.9L1524.4 138.3L1524.8 140.3L1525.2 142.3L1525.6 143.3L1526.0 144.8L1526.4 146.7L1526.8 148.0L1527.1 149.1L1527.5 150.5L1527.9 152.4L1528.2 154.1L1528.6 155.8L1529.0 157.0L1529.4 158.3L1529.8 160.1L1530.1 161.6L1530.5 163.2L1530.9 164.4L1531.2 165.9L1531.6 166.8L1532.0 168.8L1532.4 170.4L1532.8 172.0L1533.1 173.9L1533.5 175.1L1533.9 176.3L1534.2 178.1L1534.6 179.7L1535.0 181.1L1535.4 182.8L1535.8 184.4L1536.1 185.8L1536.5 186.6L1536.9 188.4L1537.2 190.2L1537.6 191.9L1538.0 193.0L1538.4 194.1L1538.8 196.1L1539.1 197.7L1539.5 199.1L1539.9 201.0L1540.2 202.0L1540.6 203.1L1541.0 204.8L1541.4 206.8L1541.8 208.0L1542.1 209.5L1542.5 211.1L1542.9 212.4L1543.2 213.9L1543.6 215.4L1544.0 216.5L1544.4 218.6L1544.8 220.4L1545.1 221.8L1545.5 223.0L1545.9 224.7L1546.2 226.5L1546.6 227.7L1547.0 228.8L1547.4 230.3L1547.8 231.9L1548.1 233.4L1548.5 235.1L1548.9 236.6L1549.3 238.0L1549.7 239.2L1550.1 240.6L1550.5 242.1L1550.9 243.9L1551.3 245.5L1551.7 246.6L1552.1 248.5L1552.4 250.2L1552.8 252.0L1553.2 253.0L1553.6 254.1L1554.0 255.5L1554.4 256.7L1554.8 258.2L1555.2 259.7L1555.6 261.0L1556.0 261.9L1556.4 263.7L1556.9 265.7L1557.3 267.6L1557.8 269.1L1558.2 270.2L1558.6 271.5L1559.1 273.0L1559.5 274.7L1560.0 276.1L1560.4 277.5L1560.9 278.6L1561.3 280.1L1561.7 282.5L1562.2 284.0L1562.6 284.7L1563.1 285.8L1563.5 287.5L1564.0 288.8L1564.5 290.6L1565.0 292.4L1565.4 293.8L1565.9 295.2L1566.4 297.1L1566.9 298.2L1567.3 299.4L1567.8 301.5L1568.3 302.8L1568.8 303.9L1569.3 305.8L1569.9 306.8L1570.4 308.0L1571.0 309.9L1571.6 311.7L1572.3 313.0L1573.0 314.8L1573.7 316.1L1574.4 317.2L1575.1 318.5L1575.8 320.2L1576.6 322.0L1577.3 323.3L1578.1 324.6L1578.8 326.0L1579.5 327.5L1580.3 328.5L1581.0 330.1L1581.8 331.4L1582.6 332.7L1583.4 333.8L1584.1 335.1L1584.9 336.2L1585.7 337.6L1586.5 339.1L1587.3 339.8L1588.1 340.9L1589.0 342.4L1590.0 343.4L1591.0 344.6L1591.8 345.7L1592.7 346.7L1593.5 348.4L1594.5 349.7L1595.4 350.6L1596.4 352.4L1597.4 353.6L1598.3 354.6L1599.3 356.2L1600.3 358.7L1601.3 358.1L1602.3 358.1L1603.3 361.0L1604.2 361.4L1605.1 361.8L1606.0 362.5L1607.5 364.4L1608.8 366.6L1610.2 367.1L1611.5 367.8L1612.7 367.8L1614.1 367.7L1615.4 368.6L1616.9 371.1L1618.5 372.1L1619.8 371.1L1621.2 373.0L1622.6 374.4L1624.1 373.9L1625.6 374.3L1627.1 375.4L1628.6 375.9L1630.2 376.0L1631.7 376.8L1633.2 376.0L1634.6 376.4L1636.0 377.8L1637.4 377.0L1638.8 378.9L1640.2 381.2L1641.5 381.9L1642.8 382.2L1644.2 382.2L1645.5 382.7L1646.8 384.8L1648.2 384.8L1649.6 385.8L1651.0 387.3L1652.3 387.8L1653.6 388.3L1654.9 388.4L1656.2 390.3L1657.5 392.0L1658.9 391.7L1660.3 390.9L1661.7 392.1L1663.0 393.7L1664.4 394.3L1665.8 396.4L1667.1 397.3L1668.5 398.2L1669.8 398.1L1671.2 399.2L1672.5 400.0L1673.8 399.7L1675.1 402.1L1676.4 404.2L1677.8 402.5L1679.1 403.3L1680.4 405.6L1681.8 406.8L1683.2 407.2L1684.6 406.5L1686.0 406.9L1687.4 406.7L1688.7 409.3L1690.1 410.9L1691.5 411.1L1693.0 410.4L1694.4 410.7L1695.8 411.9L1697.3 413.4L1698.8 414.2L1700.2 414.8L1701.7 416.1L1703.1 416.8L1704.6 417.6L1706.0 418.6L1707.4 419.9L1708.9 420.2L1710.3 420.6L1711.8 420.4L1713.2 420.7L1714.7 422.0L1716.2 423.1L1717.6 424.2L1719.0 423.9L1720.5 424.4L1721.9 425.8L1723.3 425.8L1724.6 427.8L1726.0 428.2L1727.5 427.1L1729.1 427.6L1730.6 430.0L1732.0 429.8L1733.5 430.4L1734.9 430.7L1736.3 431.6L1737.8 433.2L1739.2 432.6L1740.6 433.4L1742.0 433.8L1743.5 435.0L1745.1 435.2L1746.7 435.2L1748.3 434.9L1750.0 435.3L1751.6 437.5L1753.2 437.9L1754.8 437.8L1756.4 435.3L1758.0 436.0L1759.5 437.6L1761.0 436.7L1762.6 438.2L1764.1 439.5L1765.6 438.6L1767.1 437.6L1768.5 439.4L1769.9 438.8L1771.4 439.9L1772.9 440.6L1774.4 441.5L1776.0 442.2L1777.4 441.8L1778.8 442.5L1780.2 443.9L1781.6 443.6L1783.1 443.2L1784.6 445.9L1786.1 446.3L1787.6 447.2L1789.1 445.9L1790.6 444.9L1792.0 447.0L1793.5 447.3L1795.1 447.7L1796.6 448.6L1798.2 448.2L1799.8 447.2L1801.3 447.5L1802.9 448.0L1804.5 446.6L1806.0 447.3L1807.7 448.4L1809.3 447.8L1811.0 447.0L1812.5 447.7L1814.0 448.6L1815.6 448.7L1817.2 449.6L1818.9 449.9L1820.5 450.2L1822.1 451.0L1823.7 451.5L1825.3 453.0L1826.8 452.9L1828.3 453.3L1829.7 452.6L1831.0 452.3L1833.0 452.0L1834.9 453.7L1836.8 454.8L1838.5 453.8L1840.1 453.2L1841.4 452.5L1842.6 452.5L1843.5 452.1" stroke="#C00000" stroke-width="5.9" stroke-dasharray="12.3 12.4" stroke-dashoffset="0"/>
</g>
<g font-family="'Liberation Sans', sans-serif" font-weight="bold" fill="#000">
<text transform="translate(1133.30 473.35) scale(0.985 1.06)" font-size="33.3" text-anchor="end">0.00</text>
<text transform="translate(1874.20 473.35) scale(0.985 1.06)" font-size="33.3">0.00</text>
<text transform="translate(1133.30 399.36) scale(0.985 1.06)" font-size="33.3" text-anchor="end">0.20</text>
<text transform="translate(1874.20 399.36) scale(0.985 1.06)" font-size="33.3">0.20</text>
<text transform="translate(1133.30 325.37) scale(0.985 1.06)" font-size="33.3" text-anchor="end">0.40</text>
<text transform="translate(1874.20 325.37) scale(0.985 1.06)" font-size="33.3">0.40</text>
<text transform="translate(1133.30 251.38) scale(0.985 1.06)" font-size="33.3" text-anchor="end">0.60</text>
<text transform="translate(1874.20 251.38) scale(0.985 1.06)" font-size="33.3">0.60</text>
<text transform="translate(1133.30 177.38) scale(0.985 1.06)" font-size="33.3" text-anchor="end">0.80</text>
<text transform="translate(1874.20 177.38) scale(0.985 1.06)" font-size="33.3">0.80</text>
<text transform="translate(1133.30 103.39) scale(0.985 1.06)" font-size="33.3" text-anchor="end">1.00</text>
<text transform="translate(1874.20 103.39) scale(0.985 1.06)" font-size="33.3">1.00</text>
<text transform="translate(1133.30 29.40) scale(0.985 1.06)" font-size="33.3" text-anchor="end">1.20</text>
<text transform="translate(1874.20 29.40) scale(0.985 1.06)" font-size="33.3">1.20</text>
<text transform="translate(1161.70 513.30) scale(0.985 1.06)" font-size="33.3" text-anchor="middle">600</text>
<text transform="translate(1332.65 513.30) scale(0.985 1.06)" font-size="33.3" text-anchor="middle">700</text>
<text transform="translate(1503.60 513.30) scale(0.985 1.06)" font-size="33.3" text-anchor="middle">800</text>
<text transform="translate(1674.55 513.30) scale(0.985 1.06)" font-size="33.3" text-anchor="middle">900</text>
<text transform="translate(1845.50 513.30) scale(0.985 1.06)" font-size="33.3" text-anchor="middle">1000</text>
<text transform="translate(1519.20 544.20) scale(0.992 1.03)" font-size="33.3" text-anchor="middle">Wavelength (nm)</text>
<text transform="translate(1054.70 240.50) rotate(-90) scale(0.992 1.03)" font-size="33.3" text-anchor="middle">Normalized Absorbance</text>
<text transform="translate(1974.50 240.00) rotate(-90) scale(0.992 1.03)" font-size="33.3" text-anchor="middle">Normalized Emission</text>
<text transform="translate(1184.70 79.00) scale(1 1.03)" font-size="47.5">MeCN</text>
</g>
<g fill="none" stroke-linecap="round" stroke-width="6.4">
<path d="M1111.9 573.2H1170.8" stroke="#002060"/>
<path d="M1521.2 573.2h11.4M1545.0 573.2h11.4M1568.7 573.2h11.4" stroke="#002060"/>
<path d="M1111.9 601H1170.8" stroke="#00B050"/>
<path d="M1521.2 601h11.4M1545.0 601h11.4M1568.7 601h11.4" stroke="#00B050"/>
<path d="M1111.9 629.2H1170.8" stroke="#C00000"/>
<path d="M1521.2 629.2h11.4M1545.0 629.2h11.4M1568.7 629.2h11.4" stroke="#C00000"/>
</g>
<g font-family="'Liberation Sans', sans-serif" font-weight="bold" fill="#000">
<text transform="translate(1177.00 581.40) scale(1 1.03)" font-size="28.4">Abs-IR794-COOH</text>
<text transform="translate(1586.60 581.40) scale(1 1.03)" font-size="28.4">Flu-IR794-COOH</text>
<text transform="translate(1177.00 609.20) scale(1 1.03)" font-size="28.4">Abs-IR794-Morph</text>
<text transform="translate(1586.60 609.20) scale(1 1.03)" font-size="28.4">Flu-IR794-Morph</text>
<text transform="translate(1177.00 637.40) scale(1 1.03)" font-size="28.4">Abs-IR794-Morph-Mpip</text>
<text transform="translate(1586.60 637.40) scale(1 1.03)" font-size="28.4">Flu-IR794-Morph-Mpip</text>
</g>
</g>
<g id="panel3">
<g stroke="#000" fill="none" stroke-linecap="butt">
<rect x="130.1" y="749.0" width="694.00" height="431.50" stroke-width="6.4"/>
<path d="M120.1 1180.50H130.1M824.1 1180.50H834.1M120.1 1108.58H130.1M824.1 1108.58H834.1M120.1 1036.67H130.1M824.1 1036.67H834.1M120.1 964.75H130.1M824.1 964.75H834.1M120.1 892.83H130.1M824.1 892.83H834.1M120.1 820.92H130.1M824.1 820.92H834.1M120.1 749.00H130.1M824.1 749.00H834.1M130.10 1180.5V1190.7M303.60 1180.5V1190.7M477.10 1180.5V1190.7M650.60 1180.5V1190.7M824.10 1180.5V1190.7" stroke-width="6.2"/>
</g>
<clipPath id="cp3"><rect x="126.7" y="746.0" width="700.8" height="437.8"/></clipPath>
<g fill="none" stroke-linejoin="round" stroke-linecap="round" clip-path="url(#cp3)">
<path d="M186.0 1192.0L186.8 1191.6L187.9 1191.1L189.1 1190.6L190.6 1189.9L192.1 1189.2L193.7 1188.5L195.3 1187.7L196.9 1187.0L198.4 1186.3L199.8 1185.6L201.0 1185.0L202.7 1184.1L204.2 1183.4L205.5 1182.6L206.8 1181.9L208.1 1181.1L209.5 1180.4L211.0 1179.5L212.2 1178.8L213.3 1178.2L214.4 1177.5L215.5 1176.8L216.7 1176.1L218.0 1175.4L219.4 1174.5L221.1 1173.6L223.0 1172.5L224.1 1171.9L225.2 1171.3L226.4 1170.7L227.7 1170.1L229.0 1169.4L230.4 1168.7L231.8 1168.0L233.2 1167.3L234.7 1166.5L236.2 1165.8L237.7 1165.0L239.2 1164.2L240.7 1163.4L242.2 1162.5L243.7 1161.7L245.2 1160.8L246.6 1159.9L248.0 1159.0L249.2 1158.2L250.4 1157.4L251.6 1156.6L252.7 1155.8L253.9 1155.0L255.1 1154.2L256.3 1153.4L257.5 1152.5L258.7 1151.7L259.8 1150.8L261.0 1149.9L262.2 1149.0L263.4 1148.1L264.6 1147.1L265.8 1146.1L267.0 1145.1L268.2 1144.1L269.4 1143.0L270.6 1141.8L271.8 1140.7L273.0 1139.5L274.0 1138.5L274.9 1137.5L275.9 1136.4L276.9 1135.3L277.9 1134.2L278.9 1133.0L279.9 1131.8L280.9 1130.5L282.0 1129.3L283.0 1128.0L284.0 1126.7L285.0 1125.4L286.1 1124.1L287.1 1122.8L288.1 1121.5L289.1 1120.2L290.1 1119.0L291.0 1117.7L292.0 1116.5L292.9 1115.3L293.9 1114.1L294.8 1113.0L295.7 1111.9L296.5 1110.8L297.4 1109.8L298.2 1108.9L299.0 1108.0L300.5 1106.4L301.8 1104.9L303.1 1103.6L304.3 1102.4L305.5 1101.2L306.6 1100.2L307.7 1099.2L308.7 1098.2L309.8 1097.3L310.8 1096.4L311.8 1095.6L312.9 1094.7L313.9 1093.9L315.0 1093.0L316.3 1092.0L317.6 1091.0L318.8 1090.0L320.1 1089.1L321.3 1088.2L322.6 1087.4L323.8 1086.6L325.0 1085.8L326.3 1085.0L327.5 1084.3L328.8 1083.6L330.0 1083.0L331.5 1082.3L333.0 1081.7L334.6 1081.2L336.1 1080.7L337.7 1080.3L339.2 1079.9L340.7 1079.4L342.2 1079.0L343.6 1078.5L345.0 1078.0L346.5 1077.4L347.9 1076.8L349.4 1076.2L350.7 1075.6L352.1 1074.9L353.4 1074.2L354.8 1073.5L356.1 1072.7L357.5 1071.8L358.6 1070.9L359.8 1070.1L360.9 1069.2L362.1 1068.3L363.3 1067.3L364.4 1066.3L365.6 1065.3L366.7 1064.2L367.8 1063.0L368.9 1061.8L370.0 1060.5L370.9 1059.4L371.8 1058.2L372.6 1057.1L373.4 1055.9L374.3 1054.7L375.1 1053.4L375.9 1052.1L376.7 1050.7L377.6 1049.3L378.4 1047.8L379.2 1046.3L380.1 1044.7L381.0 1043.0L381.6 1041.8L382.3 1040.6L382.9 1039.5L383.5 1038.3L384.2 1037.0L384.8 1035.8L385.5 1034.5L386.2 1033.2L386.8 1031.9L387.5 1030.5L388.2 1029.1L388.8 1027.7L389.5 1026.2L390.2 1024.6L390.8 1023.0L391.5 1021.4L392.2 1019.6L392.8 1017.9L393.5 1016.0L393.9 1014.8L394.3 1013.6L394.7 1012.4L395.1 1011.1L395.5 1009.8L396.0 1008.4L396.4 1007.1L396.8 1005.7L397.2 1004.3L397.6 1002.8L398.0 1001.4L398.5 999.9L398.9 998.4L399.3 996.9L399.7 995.4L400.1 993.9L400.5 992.3L400.9 990.8L401.3 989.2L401.7 987.7L402.2 986.2L402.6 984.6L403.0 983.1L403.3 981.5L403.7 980.0L404.1 978.5L404.5 976.9L404.9 975.4L405.3 973.9L405.6 972.5L406.0 971.0L406.4 969.5L406.7 968.0L407.1 966.5L407.5 965.0L407.8 963.5L408.2 962.0L408.5 960.5L408.8 959.0L409.2 957.5L409.5 956.0L409.9 954.5L410.2 953.0L410.5 951.5L410.8 950.0L411.2 948.5L411.5 947.0L411.8 945.5L412.1 944.0L412.4 942.5L412.8 941.0L413.1 939.5L413.4 938.0L413.7 936.5L414.0 935.0L414.4 933.5L414.7 932.0L415.0 930.5L415.3 929.0L415.7 927.5L416.0 926.0L416.3 924.5L416.7 923.0L417.0 921.5L417.3 920.0L417.7 918.4L418.0 916.9L418.3 915.4L418.7 913.9L419.0 912.3L419.3 910.8L419.7 909.3L420.0 907.8L420.3 906.2L420.7 904.7L421.0 903.2L421.3 901.7L421.7 900.2L422.0 898.6L422.3 897.1L422.7 895.6L423.0 894.1L423.3 892.6L423.7 891.2L424.0 889.7L424.3 888.2L424.7 886.7L425.0 885.3L425.3 883.9L425.7 882.4L426.0 881.0L426.4 879.4L426.7 877.8L427.1 876.2L427.5 874.6L427.9 873.0L428.3 871.3L428.7 869.7L429.0 868.1L429.4 866.5L429.8 864.8L430.2 863.2L430.6 861.6L431.0 860.1L431.3 858.5L431.7 857.0L432.1 855.4L432.5 853.9L432.9 852.5L433.2 851.0L433.6 849.6L433.9 848.3L434.3 847.0L434.7 845.7L435.0 844.4L435.3 843.2L435.7 842.1L436.0 841.0L436.7 838.7L437.4 836.6L438.1 834.7L438.8 833.0L439.4 831.4L440.1 830.0L440.7 828.7L441.3 827.5L441.9 826.4L442.4 825.3L443.0 824.4L443.5 823.5L444.9 821.4L446.1 820.3L447.2 819.9L448.5 820.0L449.7 820.4L451.0 821.0L452.3 822.1L453.7 823.8L455.0 826.0L455.5 827.0L455.9 827.9L456.4 829.0L456.8 830.1L457.3 831.3L457.8 832.5L458.2 833.9L458.7 835.3L459.1 836.8L459.6 838.4L460.1 840.1L460.5 842.0L461.0 843.9L461.5 846.0L461.8 847.1L462.0 848.3L462.3 849.5L462.5 850.7L462.8 852.0L463.0 853.3L463.3 854.6L463.5 855.9L463.8 857.3L464.1 858.7L464.3 860.1L464.6 861.6L464.8 863.1L465.1 864.6L465.4 866.1L465.6 867.6L465.9 869.2L466.1 870.8L466.4 872.4L466.7 874.1L466.9 875.7L467.2 877.4L467.5 879.1L467.7 880.8L468.0 882.5L468.2 884.2L468.5 886.0L468.7 887.3L468.9 888.7L469.1 890.1L469.3 891.6L469.5 893.1L469.7 894.6L469.9 896.1L470.1 897.7L470.4 899.3L470.6 900.9L470.8 902.5L471.0 904.1L471.2 905.8L471.4 907.5L471.7 909.1L471.9 910.8L472.1 912.5L472.3 914.1L472.5 915.8L472.7 917.4L472.9 919.1L473.1 920.7L473.3 922.4L473.5 924.0L473.7 925.6L473.9 927.1L474.1 928.7L474.3 930.2L474.4 931.7L474.6 933.1L474.8 934.5L474.9 935.9L475.1 937.2L475.2 938.5L475.4 939.8L475.5 941.0L475.7 943.1L475.9 945.0L476.1 946.9L476.3 948.7L476.4 950.4L476.5 952.0L476.7 953.5L476.8 955.0L476.9 956.5L477.0 957.9L477.0 959.2L477.1 960.6L477.2 961.9L477.3 963.2L477.3 964.4L477.4 965.7L477.5 967.0L477.6 968.3L477.7 969.6L477.8 971.0L477.9 972.7L478.1 974.3L478.2 975.9L478.3 977.5L478.4 979.0L478.6 980.5L478.7 982.0L478.8 983.5L478.9 985.0L479.0 986.5L479.2 988.0L479.3 989.5L479.5 991.1L479.6 992.7L479.8 994.3L480.0 996.0L480.2 997.4L480.3 998.9L480.5 1000.4L480.7 1001.9L480.9 1003.5L481.1 1005.0L481.3 1006.6L481.5 1008.3L481.8 1009.9L482.0 1011.5L482.2 1013.1L482.4 1014.7L482.6 1016.3L482.9 1017.8L483.1 1019.3L483.3 1020.8L483.5 1022.2L483.7 1023.5L483.8 1024.8L484.0 1026.0L484.3 1028.0L484.5 1029.7L484.7 1031.2L484.9 1032.6L485.1 1033.9L485.2 1035.1L485.4 1036.4L485.6 1037.8L485.9 1039.3L486.2 1041.0L486.5 1043.0L486.7 1044.2L486.9 1045.4L487.1 1046.7L487.4 1047.9L487.6 1049.2L487.8 1050.6L488.1 1051.9L488.3 1053.3L488.6 1054.8L488.9 1056.2L489.2 1057.8L489.4 1059.3L489.7 1060.9L490.0 1062.5L490.3 1064.1L490.7 1065.8L491.0 1067.6L491.3 1069.3L491.7 1071.1L492.0 1073.0L492.2 1074.3L492.5 1075.6L492.7 1077.0L493.0 1078.4L493.2 1079.8L493.5 1081.3L493.8 1082.8L494.1 1084.3L494.3 1085.9L494.6 1087.4L494.9 1089.0L495.2 1090.6L495.5 1092.3L495.8 1093.9L496.1 1095.5L496.4 1097.1L496.7 1098.7L497.0 1100.4L497.3 1102.0L497.6 1103.6L497.9 1105.1L498.2 1106.7L498.5 1108.2L498.8 1109.7L499.1 1111.2L499.4 1112.6L499.7 1114.0L499.9 1115.4L500.2 1116.7L500.5 1118.0L500.9 1119.9L501.3 1121.7L501.7 1123.4L502.1 1125.2L502.5 1126.8L502.9 1128.5L503.3 1130.1L503.7 1131.7L504.1 1133.2L504.5 1134.7L504.9 1136.2L505.3 1137.6L505.7 1139.0L506.1 1140.4L506.5 1141.7L506.9 1143.0L507.3 1144.3L507.7 1145.6L508.1 1146.8L508.5 1148.0L509.1 1149.8L509.7 1151.5L510.4 1153.1L511.0 1154.6L511.6 1156.1L512.2 1157.5L512.8 1158.8L513.5 1160.1L514.1 1161.3L514.7 1162.5L515.3 1163.7L515.9 1164.8L516.5 1166.0L517.4 1167.6L518.2 1169.1L519.0 1170.6L519.9 1171.9L520.7 1173.2L521.5 1174.4L522.3 1175.7L523.2 1176.8L524.0 1178.0L525.0 1179.5L526.1 1180.9L527.1 1182.3L528.1 1183.6L529.2 1184.8L530.3 1186.0L531.5 1187.0L532.4 1188.0L532.8 1188.9L533.1 1189.7L533.7 1190.4L535.0 1191.1L537.5 1191.6L541.5 1192.0L542.4 1192.1L543.4 1192.1L544.5 1192.2L545.7 1192.2L546.9 1192.3L548.2 1192.3L549.6 1192.4L551.0 1192.4L552.5 1192.4L554.0 1192.5L555.6 1192.5L557.2 1192.5L558.8 1192.5L560.5 1192.5L562.2 1192.5L564.0 1192.6L565.7 1192.6L567.5 1192.6L569.2 1192.6L571.0 1192.6L572.8 1192.6L574.6 1192.5L576.3 1192.5L578.1 1192.5L579.8 1192.5L581.6 1192.5L583.2 1192.5L584.9 1192.4L586.5 1192.4L588.1 1192.4L589.7 1192.3L591.2 1192.3L592.6 1192.3L594.0 1192.2L595.4 1192.2L596.6 1192.1L597.8 1192.1L599.0 1192.1L600.0 1192.0L602.8 1191.8L605.2 1191.6L607.2 1191.4L609.0 1191.1L610.5 1190.8L611.8 1190.4L613.0 1190.1L614.1 1189.7L615.1 1189.4L616.2 1189.0L617.3 1188.7L618.6 1188.3L620.0 1188.0L621.5 1187.7L623.0 1187.4L624.4 1187.0L625.8 1186.7L627.2 1186.4L628.7 1186.1L630.1 1185.7L631.6 1185.4L633.1 1185.1L634.7 1184.8L636.4 1184.5L638.1 1184.3L640.0 1184.0L641.3 1183.8L642.6 1183.7L644.0 1183.5L645.4 1183.4L646.8 1183.2L648.3 1183.1L649.8 1183.0L651.3 1182.8L652.8 1182.7L654.4 1182.6L655.9 1182.5L657.5 1182.4L659.1 1182.2L660.7 1182.1L662.3 1182.0L663.8 1181.9L665.4 1181.8L667.0 1181.7L668.5 1181.6L670.0 1181.5L671.5 1181.4L673.0 1181.3L674.4 1181.2L675.8 1181.1L677.3 1181.0L678.7 1180.9L680.1 1180.9L681.5 1180.8L682.9 1180.7L684.4 1180.6L685.8 1180.6L687.3 1180.5L688.8 1180.4L690.3 1180.3L691.8 1180.3L693.4 1180.2L695.0 1180.2L696.6 1180.1L698.3 1180.1L700.0 1180.0L701.3 1180.0L702.6 1179.9L703.9 1179.9L705.2 1179.9L706.4 1179.8L707.6 1179.8L708.9 1179.8L710.1 1179.7L711.3 1179.7L712.6 1179.7L713.9 1179.7L715.2 1179.6L716.6 1179.6L718.0 1179.6L719.4 1179.6L720.9 1179.6L722.4 1179.6L724.0 1179.5L725.7 1179.5L727.5 1179.5L729.3 1179.5L731.3 1179.5L733.3 1179.5L735.4 1179.5L737.7 1179.5L740.0 1179.5L741.1 1179.5L742.3 1179.5L743.6 1179.5L744.9 1179.5L746.2 1179.5L747.6 1179.5L749.1 1179.5L750.5 1179.5L752.0 1179.5L753.6 1179.5L755.2 1179.5L756.8 1179.6L758.4 1179.6L760.1 1179.6L761.8 1179.6L763.5 1179.6L765.2 1179.6L767.0 1179.6L768.7 1179.6L770.5 1179.6L772.3 1179.6L774.1 1179.6L775.9 1179.7L777.7 1179.7L779.6 1179.7L781.4 1179.7L783.2 1179.7L785.0 1179.7L786.8 1179.7L788.6 1179.7L790.4 1179.8L792.2 1179.8L793.9 1179.8L795.7 1179.8L797.4 1179.8L799.1 1179.8L800.7 1179.8L802.4 1179.8L804.0 1179.9L805.6 1179.9L807.2 1179.9L808.7 1179.9L810.2 1179.9L811.6 1179.9L813.0 1179.9L814.4 1179.9L815.7 1179.9L816.9 1179.9L818.1 1180.0L819.3 1180.0L820.4 1180.0L821.4 1180.0L822.4 1180.0L823.3 1180.0L824.2 1180.0L825.0 1180.0" stroke="#002060" stroke-width="6.2"/>
<path d="M190.0 1192.0L190.8 1191.6L191.9 1191.1L193.1 1190.6L194.6 1189.9L196.1 1189.2L197.7 1188.5L199.3 1187.7L200.9 1187.0L202.4 1186.3L203.8 1185.6L205.0 1185.0L206.7 1184.1L208.2 1183.3L209.6 1182.5L211.0 1181.8L212.3 1181.0L213.6 1180.3L215.0 1179.5L216.3 1178.8L217.4 1178.2L218.5 1177.6L219.7 1176.9L221.0 1176.2L222.8 1175.2L225.0 1174.0L226.0 1173.5L227.1 1172.9L228.3 1172.3L229.5 1171.7L230.9 1171.0L232.2 1170.3L233.6 1169.6L235.1 1168.9L236.6 1168.2L238.1 1167.4L239.6 1166.6L241.1 1165.8L242.6 1164.9L244.2 1164.1L245.7 1163.2L247.1 1162.3L248.6 1161.4L250.0 1160.5L251.2 1159.7L252.4 1158.9L253.6 1158.1L254.8 1157.3L256.0 1156.5L257.1 1155.6L258.3 1154.8L259.5 1153.9L260.7 1153.0L261.9 1152.1L263.1 1151.2L264.3 1150.3L265.5 1149.3L266.7 1148.3L267.9 1147.3L269.0 1146.3L270.2 1145.2L271.4 1144.1L272.6 1142.9L273.8 1141.7L275.0 1140.5L275.9 1139.5L276.9 1138.4L277.8 1137.3L278.8 1136.2L279.8 1135.0L280.7 1133.8L281.7 1132.5L282.7 1131.2L283.7 1129.9L284.7 1128.6L285.7 1127.3L286.7 1126.0L287.6 1124.6L288.6 1123.3L289.6 1121.9L290.5 1120.6L291.5 1119.3L292.4 1118.0L293.3 1116.7L294.2 1115.5L295.1 1114.3L296.0 1113.1L296.8 1112.0L297.7 1110.9L298.5 1109.9L299.2 1108.9L300.0 1108.0L301.4 1106.4L302.7 1104.9L303.9 1103.5L305.0 1102.3L306.1 1101.1L307.1 1100.1L308.1 1099.1L309.1 1098.2L310.1 1097.3L311.0 1096.4L312.0 1095.6L312.9 1094.7L314.0 1093.9L315.0 1093.0L316.2 1092.0L317.5 1091.0L318.8 1090.0L320.0 1089.1L321.2 1088.2L322.5 1087.4L323.8 1086.6L325.0 1085.8L326.2 1085.0L327.5 1084.3L328.8 1083.6L330.0 1083.0L331.5 1082.3L333.0 1081.7L334.6 1081.2L336.1 1080.7L337.7 1080.3L339.2 1079.9L340.7 1079.4L342.2 1079.0L343.6 1078.5L345.0 1078.0L346.5 1077.4L347.9 1076.8L349.4 1076.2L350.7 1075.6L352.1 1074.9L353.4 1074.2L354.8 1073.5L356.1 1072.7L357.5 1071.8L358.6 1070.9L359.8 1070.1L361.0 1069.2L362.2 1068.3L363.3 1067.3L364.5 1066.3L365.6 1065.3L366.8 1064.2L367.9 1063.0L369.0 1061.8L370.0 1060.5L370.8 1059.4L371.7 1058.2L372.4 1057.1L373.2 1055.9L373.9 1054.7L374.6 1053.4L375.4 1052.1L376.1 1050.7L376.8 1049.3L377.6 1047.8L378.3 1046.3L379.2 1044.7L380.0 1043.0L380.6 1041.8L381.2 1040.6L381.8 1039.5L382.5 1038.3L383.1 1037.0L383.8 1035.8L384.4 1034.5L385.1 1033.2L385.8 1031.9L386.4 1030.5L387.1 1029.1L387.8 1027.7L388.5 1026.2L389.1 1024.6L389.8 1023.0L390.5 1021.4L391.2 1019.6L391.8 1017.9L392.5 1016.0L392.9 1014.8L393.3 1013.6L393.7 1012.4L394.1 1011.1L394.5 1009.8L395.0 1008.4L395.4 1007.1L395.8 1005.7L396.2 1004.3L396.6 1002.8L397.0 1001.4L397.5 999.9L397.9 998.4L398.3 996.9L398.7 995.4L399.1 993.9L399.5 992.3L399.9 990.8L400.3 989.2L400.7 987.7L401.2 986.2L401.6 984.6L402.0 983.1L402.3 981.5L402.7 980.0L403.1 978.5L403.5 976.9L403.9 975.4L404.3 973.9L404.6 972.5L405.0 971.0L405.4 969.5L405.7 968.0L406.1 966.5L406.5 965.0L406.8 963.5L407.2 962.0L407.5 960.5L407.8 959.0L408.2 957.5L408.5 956.0L408.9 954.5L409.2 953.0L409.5 951.5L409.8 950.0L410.2 948.5L410.5 947.0L410.8 945.5L411.1 944.0L411.4 942.5L411.8 941.0L412.1 939.5L412.4 938.0L412.7 936.5L413.0 935.0L413.4 933.5L413.7 932.0L414.0 930.5L414.3 929.0L414.7 927.5L415.0 926.0L415.3 924.5L415.7 923.0L416.0 921.5L416.3 920.0L416.7 918.4L417.0 916.9L417.3 915.4L417.7 913.9L418.0 912.3L418.3 910.8L418.7 909.3L419.0 907.8L419.3 906.2L419.7 904.7L420.0 903.2L420.3 901.7L420.7 900.2L421.0 898.6L421.3 897.1L421.7 895.6L422.0 894.1L422.3 892.6L422.7 891.2L423.0 889.7L423.3 888.2L423.7 886.7L424.0 885.3L424.3 883.9L424.7 882.4L425.0 881.0L425.4 879.4L425.7 877.8L426.1 876.2L426.5 874.6L426.9 873.0L427.3 871.3L427.7 869.7L428.0 868.1L428.4 866.5L428.8 864.8L429.2 863.2L429.6 861.6L430.0 860.1L430.3 858.5L430.7 857.0L431.1 855.4L431.5 853.9L431.9 852.5L432.2 851.0L432.6 849.6L432.9 848.3L433.3 847.0L433.7 845.7L434.0 844.4L434.3 843.2L434.7 842.1L435.0 841.0L435.7 838.7L436.4 836.6L437.1 834.7L437.8 833.0L438.4 831.4L439.1 830.0L439.7 828.7L440.3 827.5L440.9 826.4L441.4 825.3L442.0 824.4L442.5 823.5L443.9 821.4L445.1 820.3L446.2 819.9L447.5 820.0L448.7 820.4L449.9 821.0L451.2 822.1L452.5 823.8L453.8 826.0L454.2 827.0L454.7 828.1L455.2 829.2L455.6 830.5L456.1 831.8L456.6 833.1L457.0 834.6L457.5 836.2L458.0 837.9L458.5 839.7L459.0 841.7L459.5 843.8L460.0 846.0L460.3 847.1L460.5 848.3L460.8 849.5L461.0 850.7L461.3 852.0L461.6 853.3L461.9 854.6L462.1 855.9L462.4 857.3L462.7 858.7L463.0 860.1L463.3 861.6L463.6 863.1L463.8 864.6L464.1 866.1L464.4 867.6L464.7 869.2L465.0 870.8L465.3 872.4L465.6 874.1L465.8 875.7L466.1 877.4L466.4 879.1L466.7 880.8L467.0 882.5L467.2 884.2L467.5 886.0L467.7 887.3L467.9 888.7L468.1 890.1L468.3 891.6L468.5 893.1L468.8 894.6L469.0 896.1L469.2 897.7L469.4 899.3L469.6 900.9L469.8 902.5L470.1 904.1L470.3 905.8L470.5 907.5L470.7 909.1L470.9 910.8L471.1 912.5L471.3 914.1L471.6 915.8L471.8 917.4L472.0 919.1L472.2 920.7L472.4 922.4L472.6 924.0L472.7 925.6L472.9 927.1L473.1 928.7L473.3 930.2L473.5 931.7L473.6 933.1L473.8 934.5L473.9 935.9L474.1 937.2L474.2 938.5L474.4 939.8L474.5 941.0L474.7 943.1L474.9 945.0L475.1 946.9L475.2 948.7L475.4 950.4L475.5 952.0L475.6 953.5L475.7 955.0L475.7 956.5L475.8 957.9L475.9 959.2L475.9 960.6L476.0 961.9L476.1 963.2L476.1 964.4L476.2 965.7L476.2 967.0L476.3 968.3L476.4 969.6L476.5 971.0L476.6 972.7L476.7 974.3L476.8 975.9L477.0 977.5L477.1 979.0L477.2 980.5L477.3 982.0L477.4 983.5L477.5 985.0L477.6 986.5L477.7 988.0L477.9 989.5L478.0 991.1L478.2 992.7L478.3 994.3L478.5 996.0L478.7 997.4L478.8 998.9L479.0 1000.4L479.2 1001.9L479.4 1003.5L479.6 1005.0L479.8 1006.6L480.0 1008.3L480.2 1009.9L480.5 1011.5L480.7 1013.1L480.9 1014.7L481.1 1016.3L481.3 1017.8L481.6 1019.3L481.8 1020.8L482.0 1022.2L482.2 1023.5L482.3 1024.8L482.5 1026.0L482.8 1028.0L483.0 1029.7L483.2 1031.2L483.4 1032.6L483.6 1033.9L483.7 1035.1L483.9 1036.4L484.1 1037.8L484.4 1039.3L484.7 1041.0L485.0 1043.0L485.2 1044.2L485.4 1045.4L485.6 1046.7L485.9 1047.9L486.1 1049.2L486.3 1050.6L486.6 1051.9L486.8 1053.3L487.1 1054.8L487.4 1056.2L487.7 1057.8L487.9 1059.3L488.2 1060.9L488.5 1062.5L488.8 1064.1L489.2 1065.8L489.5 1067.6L489.8 1069.3L490.2 1071.1L490.5 1073.0L490.7 1074.3L491.0 1075.6L491.2 1077.0L491.5 1078.4L491.7 1079.8L492.0 1081.3L492.3 1082.8L492.6 1084.3L492.8 1085.9L493.1 1087.4L493.4 1089.0L493.7 1090.6L494.0 1092.3L494.3 1093.9L494.6 1095.5L494.9 1097.1L495.2 1098.7L495.5 1100.4L495.8 1102.0L496.1 1103.6L496.4 1105.1L496.7 1106.7L497.0 1108.2L497.3 1109.7L497.6 1111.2L497.9 1112.6L498.2 1114.0L498.4 1115.4L498.7 1116.7L499.0 1118.0L499.4 1119.9L499.8 1121.7L500.2 1123.4L500.6 1125.2L501.0 1126.8L501.4 1128.5L501.8 1130.1L502.2 1131.7L502.6 1133.2L503.0 1134.7L503.4 1136.2L503.8 1137.6L504.2 1139.0L504.6 1140.4L505.0 1141.7L505.4 1143.0L505.8 1144.3L506.2 1145.6L506.6 1146.8L507.0 1148.0L507.6 1149.8L508.2 1151.5L508.9 1153.1L509.5 1154.6L510.1 1156.1L510.7 1157.5L511.3 1158.8L512.0 1160.1L512.6 1161.3L513.2 1162.5L513.8 1163.7L514.4 1164.8L515.0 1166.0L515.9 1167.6L516.7 1169.1L517.5 1170.6L518.4 1171.9L519.2 1173.2L520.0 1174.4L520.8 1175.7L521.7 1176.8L522.5 1178.0L523.5 1179.5L524.6 1180.9L525.6 1182.3L526.6 1183.6L527.7 1184.8L528.8 1186.0L530.0 1187.0L530.9 1188.0L531.2 1188.9L531.5 1189.7L532.1 1190.4L533.4 1191.1L535.9 1191.6L540.0 1192.0L540.9 1192.1L541.9 1192.1L543.0 1192.2L544.2 1192.2L545.4 1192.3L546.7 1192.3L548.0 1192.4L549.4 1192.4L550.9 1192.4L552.4 1192.5L554.0 1192.5L555.6 1192.5L557.2 1192.5L558.9 1192.6L560.6 1192.6L562.3 1192.6L564.1 1192.6L565.8 1192.6L567.6 1192.6L569.4 1192.6L571.2 1192.6L572.9 1192.6L574.7 1192.6L576.5 1192.6L578.2 1192.6L580.0 1192.6L581.7 1192.5L583.4 1192.5L585.0 1192.5L586.6 1192.5L588.2 1192.4L589.8 1192.4L591.3 1192.4L592.7 1192.3L594.1 1192.3L595.4 1192.2L596.7 1192.2L597.8 1192.1L599.0 1192.1L600.0 1192.0L602.8 1191.8L605.3 1191.5L607.3 1191.2L609.1 1190.8L610.6 1190.4L611.9 1190.0L613.1 1189.5L614.1 1189.1L615.2 1188.6L616.2 1188.2L617.3 1187.8L618.6 1187.4L620.0 1187.0L621.5 1186.7L623.0 1186.3L624.4 1186.0L625.8 1185.6L627.2 1185.3L628.7 1185.0L630.1 1184.7L631.6 1184.4L633.1 1184.1L634.7 1183.8L636.4 1183.5L638.1 1183.3L640.0 1183.0L641.3 1182.8L642.6 1182.7L644.0 1182.5L645.4 1182.4L646.8 1182.3L648.3 1182.1L649.8 1182.0L651.3 1181.9L652.8 1181.7L654.4 1181.6L655.9 1181.5L657.5 1181.4L659.1 1181.3L660.7 1181.1L662.3 1181.0L663.8 1180.9L665.4 1180.8L667.0 1180.7L668.5 1180.6L670.0 1180.5L671.5 1180.4L673.0 1180.3L674.4 1180.2L675.8 1180.1L677.3 1180.0L678.7 1179.9L680.1 1179.8L681.5 1179.7L682.9 1179.6L684.4 1179.6L685.8 1179.5L687.3 1179.4L688.8 1179.3L690.3 1179.2L691.8 1179.2L693.4 1179.1L695.0 1179.0L696.6 1178.9L698.3 1178.9L700.0 1178.8L701.4 1178.7L702.7 1178.7L704.2 1178.6L705.6 1178.6L707.1 1178.5L708.5 1178.5L710.1 1178.4L711.6 1178.4L713.1 1178.3L714.7 1178.3L716.2 1178.3L717.8 1178.2L719.4 1178.2L721.0 1178.1L722.6 1178.1L724.2 1178.1L725.8 1178.0L727.4 1178.0L729.0 1178.0L730.6 1177.9L732.2 1177.9L733.7 1177.9L735.3 1177.8L736.9 1177.8L738.5 1177.8L740.0 1177.8L741.5 1177.8L743.1 1177.8L744.6 1177.8L746.1 1177.8L747.6 1177.8L749.1 1177.8L750.6 1177.8L752.1 1177.8L753.7 1177.8L755.2 1177.8L756.7 1177.8L758.2 1177.9L759.7 1177.9L761.2 1177.9L762.7 1177.9L764.3 1177.9L765.8 1178.0L767.3 1178.0L768.9 1178.0L770.4 1178.0L772.0 1178.1L773.6 1178.1L775.2 1178.1L776.8 1178.1L778.4 1178.2L780.0 1178.2L781.4 1178.2L782.9 1178.3L784.5 1178.3L786.1 1178.3L787.7 1178.3L789.4 1178.4L791.1 1178.4L792.8 1178.4L794.6 1178.5L796.3 1178.5L798.0 1178.6L799.8 1178.6L801.5 1178.6L803.3 1178.7L805.0 1178.7L806.7 1178.8L808.4 1178.8L810.0 1178.8L811.6 1178.9L813.1 1178.9L814.6 1179.0L816.1 1179.0L817.5 1179.0L818.8 1179.1L820.0 1179.1L821.2 1179.1L822.3 1179.1L823.3 1179.2L824.2 1179.2L825.0 1179.2" stroke="#00B050" stroke-width="6.2"/>
<path d="M130.1 1162.9L130.6 1162.2L131.3 1161.1L132.0 1160.2L132.7 1159.9L133.6 1158.8L134.4 1157.6L135.4 1156.5L136.4 1155.5L137.4 1154.4L138.5 1153.1L139.6 1151.5L140.7 1150.4L141.9 1149.6L143.0 1148.2L144.2 1146.3L145.4 1145.7L146.5 1144.1L147.7 1142.3L148.9 1140.9L150.0 1139.6L150.8 1138.7L151.7 1137.2L152.6 1136.5L153.4 1135.6L154.3 1133.9L155.2 1132.5L156.1 1131.4L157.0 1130.9L158.0 1129.9L158.9 1128.5L159.8 1127.5L160.8 1126.6L161.7 1125.1L162.7 1123.7L163.6 1122.3L164.6 1121.0L165.5 1119.7L166.5 1118.4L167.4 1117.3L168.4 1116.3L169.3 1114.5L170.3 1113.2L171.2 1111.9L172.2 1110.4L173.1 1108.7L174.1 1106.9L175.0 1106.0L175.8 1105.1L176.6 1103.8L177.4 1102.7L178.2 1101.2L179.0 1100.2L179.9 1099.4L180.7 1098.2L181.5 1096.6L182.4 1095.0L183.2 1093.5L184.0 1092.1L184.9 1090.6L185.7 1089.1L186.6 1087.6L187.4 1087.5L188.2 1086.1L189.0 1084.0L189.9 1082.5L190.7 1080.8L191.5 1079.4L192.3 1077.8L193.0 1076.5L193.8 1075.1L194.6 1073.8L195.3 1072.7L196.0 1071.7L196.7 1070.3L197.4 1068.7L198.1 1067.0L198.8 1066.2L199.4 1065.8L200.0 1064.7L200.9 1062.7L201.8 1061.1L202.6 1059.7L203.4 1057.9L204.2 1056.5L204.9 1055.6L205.5 1054.3L206.2 1052.9L206.8 1051.8L207.4 1050.1L208.0 1049.2L208.6 1047.9L209.2 1046.3L209.7 1045.6L210.3 1044.5L210.9 1043.0L211.5 1041.9L212.2 1040.1L212.8 1038.9L213.5 1038.4L214.1 1036.7L214.7 1035.0L215.3 1033.8L215.8 1032.9L216.4 1032.1L216.9 1030.6L217.5 1028.9L218.1 1027.8L218.6 1026.8L219.2 1025.1L219.7 1024.6L220.3 1023.3L220.9 1022.1L221.5 1020.2L222.1 1018.9L222.8 1017.5L223.4 1016.3L224.1 1015.0L224.8 1012.6L225.6 1010.5L226.4 1009.1L227.2 1007.4L228.0 1006.2L228.5 1005.4L229.0 1004.1L229.5 1002.7L230.0 1001.9L230.6 1000.6L231.1 999.3L231.7 997.7L232.2 996.6L232.8 995.4L233.4 993.9L234.0 992.7L234.5 990.7L235.2 988.4L235.8 987.5L236.4 986.6L237.0 984.9L237.6 983.5L238.3 982.3L238.9 980.5L239.5 979.0L240.2 977.7L240.8 976.6L241.5 975.2L242.1 973.0L242.8 971.2L243.4 969.7L244.1 967.9L244.7 966.2L245.4 964.6L246.0 963.8L246.7 962.6L247.3 961.1L248.0 959.4L248.6 957.9L249.2 956.9L249.9 955.9L250.5 954.3L251.1 952.7L251.8 950.5L252.4 949.5L253.0 948.3L253.7 946.4L254.5 945.4L255.2 943.6L255.9 941.6L256.7 940.9L257.4 940.1L258.2 938.3L258.9 936.8L259.6 935.8L260.4 934.7L261.1 932.7L261.8 930.9L262.6 929.9L263.3 929.0L264.1 927.7L264.8 926.3L265.5 925.1L266.3 924.0L267.0 922.6L267.7 920.7L268.5 919.4L269.2 918.2L269.9 916.8L270.7 915.7L271.4 914.3L272.2 913.1L272.9 912.0L273.6 911.5L274.4 909.8L275.1 908.2L275.8 906.9L276.5 905.8L277.3 904.8L278.0 903.3L278.9 902.1L279.7 900.5L280.6 898.8L281.4 897.3L282.3 896.1L283.1 894.9L283.9 893.7L284.8 891.9L285.6 890.7L286.5 889.9L287.3 888.8L288.2 887.0L289.0 885.0L289.9 883.8L290.7 883.1L291.5 881.9L292.4 880.0L293.2 878.9L294.1 877.7L294.9 876.5L295.8 875.5L296.6 873.9L297.4 872.7L298.3 872.0L299.1 871.1L300.0 869.5L300.8 868.2L301.7 867.2L302.5 866.0L303.6 864.6L304.6 863.4L305.7 862.2L306.8 861.3L307.9 859.3L308.9 858.3L310.0 857.0L311.1 856.0L312.2 855.0L313.2 853.8L314.3 852.6L315.4 850.9L316.5 850.1L317.5 849.4L318.6 848.7L319.7 847.3L320.7 845.9L321.8 845.6L322.8 845.2L323.9 844.1L324.9 842.9L326.0 841.8L327.0 841.1L328.3 839.8L329.7 838.8L331.0 837.8L332.4 836.3L333.8 835.6L335.2 834.5L336.6 833.7L337.9 833.7L339.3 832.9L340.6 831.2L341.9 830.0L343.2 830.1L344.4 829.3L345.7 829.0L346.8 828.5L347.9 827.5L349.0 827.4L350.0 826.5L352.0 824.6L353.8 824.0L355.3 824.4L356.7 823.6L357.9 823.2L359.2 822.6L360.6 822.8L362.0 823.0L363.5 822.7L365.1 822.0L366.6 821.7L368.2 821.7L369.7 821.4L371.3 820.9L372.9 820.6L374.5 820.8L376.0 821.5L377.5 821.7L379.0 822.1L380.5 823.0L382.0 822.9L383.6 823.5L385.1 824.2L386.6 825.1L388.0 826.3L389.3 827.3L390.5 828.0L391.7 828.7L392.9 828.9L394.1 829.6L395.2 831.2L396.4 832.7L397.6 834.0L398.8 835.5L400.0 837.6L400.6 838.2L401.3 839.8L401.9 841.0L402.6 841.4L403.3 842.7L403.9 844.0L404.6 844.9L405.2 846.2L405.9 848.0L406.5 848.7L407.2 849.7L407.9 852.2L408.5 854.6L409.2 855.3L409.9 856.4L410.5 858.7L411.2 860.6L411.8 862.4L412.5 864.1L413.0 864.8L413.4 866.5L413.9 867.7L414.4 868.3L414.8 869.6L415.3 871.6L415.7 872.6L416.2 873.8L416.7 875.7L417.1 877.0L417.6 877.9L418.1 879.9L418.5 881.2L419.0 882.6L419.4 884.0L419.9 885.6L420.4 887.5L420.8 889.4L421.3 890.3L421.8 891.8L422.2 893.4L422.7 895.1L423.1 896.8L423.6 898.5L424.1 899.9L424.5 901.5L425.0 903.3L425.4 904.5L425.7 906.2L426.1 907.0L426.4 908.2L426.8 910.5L427.2 912.2L427.5 913.7L427.9 914.9L428.3 916.4L428.6 918.1L429.0 918.8L429.4 919.9L429.8 922.2L430.1 923.6L430.5 925.0L430.9 926.8L431.2 928.5L431.6 930.1L432.0 931.8L432.3 933.1L432.7 934.7L433.0 936.2L433.4 937.9L433.8 939.5L434.1 940.3L434.5 942.1L434.8 943.6L435.2 945.8L435.5 947.5L435.8 948.7L436.2 949.9L436.5 951.5L436.8 953.4L437.2 955.0L437.5 957.1L437.8 957.9L438.2 958.7L438.5 960.5L438.8 962.6L439.2 963.5L439.5 964.9L439.8 966.7L440.2 968.7L440.5 970.2L440.8 971.9L441.1 973.4L441.4 975.1L441.7 976.0L442.0 977.4L442.4 980.2L442.7 981.4L443.0 982.2L443.3 984.6L443.6 986.4L443.9 987.6L444.2 989.1L444.4 990.9L444.7 992.1L445.0 993.6L445.3 995.3L445.6 996.8L445.9 997.7L446.1 998.8L446.4 1000.0L446.7 1001.2L447.0 1003.2L447.2 1004.8L447.5 1006.2L447.8 1007.6L448.2 1009.1L448.5 1010.9L448.8 1012.8L449.2 1014.4L449.5 1016.0L449.8 1017.7L450.1 1018.7L450.4 1020.5L450.7 1021.6L451.0 1022.5L451.3 1024.7L451.5 1025.8L451.8 1026.9L452.1 1028.9L452.4 1029.9L452.7 1031.3L453.0 1032.7L453.3 1033.9L453.5 1035.4L453.8 1037.4L454.1 1038.4L454.4 1040.1L454.7 1042.2L455.0 1043.2L455.3 1044.3L455.6 1046.1L455.9 1048.3L456.2 1049.4L456.5 1050.8L456.8 1051.7L457.1 1052.7L457.4 1054.6L457.7 1056.4L458.0 1058.0L458.3 1058.8L458.6 1060.4L458.9 1062.2L459.2 1064.2L459.5 1066.2L459.8 1067.7L460.1 1068.3L460.4 1070.4L460.7 1071.6L461.0 1072.8L461.3 1074.5L461.6 1076.3L461.9 1077.8L462.2 1078.8L462.5 1079.8L462.8 1081.3L463.1 1083.6L463.5 1085.5L463.8 1087.2L464.1 1088.3L464.4 1089.8L464.7 1091.1L465.0 1092.7L465.3 1094.4L465.6 1096.3L465.9 1098.1L466.3 1099.3L466.6 1100.3L466.9 1101.3L467.2 1103.4L467.5 1105.4L467.9 1106.6L468.2 1108.9L468.5 1110.1L468.9 1110.8L469.3 1112.7L469.6 1114.4L470.0 1115.9L470.4 1117.3L470.8 1118.9L471.2 1119.9L471.7 1121.0L472.1 1122.2L472.5 1124.7L473.0 1127.0L473.5 1128.4L473.9 1129.8L474.4 1131.1L474.8 1132.6L475.3 1134.4L475.8 1135.8L476.3 1137.6L476.7 1138.9L477.2 1139.9L477.7 1141.2L478.1 1142.9L478.6 1144.1L479.1 1145.2L479.5 1146.7L480.0 1147.7L480.6 1149.2L481.3 1151.0L481.9 1153.0L482.6 1154.6L483.2 1156.0L483.9 1157.0L484.5 1158.8L485.2 1160.5L485.8 1162.0L486.4 1163.6L487.1 1165.0L487.7 1165.7L488.3 1166.4L488.9 1168.0L489.4 1168.8L490.0 1170.0L490.9 1172.0L491.9 1173.9L492.7 1175.8L493.6 1177.5L494.4 1178.8L495.2 1179.8L495.9 1181.1L496.7 1182.2L497.5 1182.8L497.7 1183.9L496.8 1185.4L495.7 1187.1L495.0 1189.0L495.6 1190.5L498.4 1191.7L504.0 1192.1L504.8 1192.0L505.7 1192.2L506.6 1192.5L507.6 1192.5L508.7 1192.4L509.7 1192.3L510.9 1192.4L512.0 1192.4L513.2 1192.4L514.5 1192.4L515.8 1192.5L517.1 1192.6L518.5 1192.7L519.9 1192.6L521.3 1192.5L522.8 1192.3L524.3 1192.5L525.8 1192.7L527.4 1192.7L528.9 1192.9L530.5 1192.7L532.2 1192.6L533.8 1192.6L535.5 1192.6L537.1 1192.8L538.8 1192.8L540.6 1192.7L542.3 1192.8L544.0 1192.7L545.8 1192.6L547.5 1192.6L549.3 1192.7L551.0 1192.8L552.8 1192.7L554.6 1192.8L556.4 1192.7L558.1 1192.6L559.9 1192.7L561.7 1192.6L563.4 1192.6L565.2 1192.7L566.9 1192.4L568.7 1192.5L570.4 1192.6L572.1 1192.5L573.8 1192.4L575.5 1192.3L577.1 1192.4L578.8 1192.3L580.4 1192.4L582.0 1192.4L583.6 1192.3L585.1 1192.1L586.6 1192.2L588.1 1192.3L589.6 1192.2L591.0 1192.1L592.4 1192.1L593.8 1192.1L595.1 1192.2L596.4 1192.0L597.6 1192.0L598.8 1192.0L600.0 1191.9L602.2 1191.8L604.3 1191.7L606.4 1191.8L608.4 1191.7L610.4 1191.8L612.3 1191.9L614.2 1191.7L616.0 1191.6L617.8 1191.6L619.5 1191.6L621.2 1191.4L622.8 1191.6L624.4 1191.5L626.0 1191.4L627.5 1191.3L629.0 1191.3L630.5 1191.2L631.9 1191.1L633.3 1190.8L634.6 1190.8L636.0 1190.6L637.3 1190.7L638.5 1190.7L639.8 1190.7L641.0 1190.6L642.2 1190.6L643.4 1190.4L644.5 1190.3L645.6 1190.2L646.8 1190.2L647.9 1190.1L648.9 1190.2L650.0 1190.0L652.5 1189.6L654.7 1189.4L656.7 1189.3L658.4 1189.0L659.9 1188.7L661.2 1188.5L662.5 1188.1L663.7 1187.9L664.8 1187.6L666.0 1187.3L667.2 1187.1L668.5 1186.9L670.0 1186.4L671.5 1186.0L673.0 1185.8L674.4 1185.7L675.8 1185.5L677.2 1185.3L678.7 1184.9L680.1 1184.6L681.6 1184.5L683.1 1184.4L684.7 1184.0L686.4 1183.8L688.1 1183.8L690.0 1183.6L691.3 1183.4L692.5 1183.3L693.9 1183.2L695.2 1183.1L696.6 1183.1L698.0 1182.8L699.4 1182.8L700.8 1182.9L702.3 1182.6L703.8 1182.6L705.3 1182.5L706.8 1182.4L708.4 1182.4L710.0 1182.4L711.6 1182.4L713.2 1182.3L714.9 1182.2L716.5 1182.0L718.3 1182.0L720.0 1182.1L721.3 1182.0L722.7 1181.9L724.0 1181.9L725.4 1181.8L726.7 1181.8L728.0 1181.8L729.4 1181.7L730.8 1181.7L732.1 1181.7L733.5 1181.8L734.9 1181.6L736.4 1181.6L737.8 1181.7L739.3 1181.8L740.8 1181.8L742.3 1181.6L743.9 1181.4L745.5 1181.5L747.2 1181.6L748.9 1181.4L750.6 1181.3L752.4 1181.4L754.2 1181.6L756.1 1181.6L758.0 1181.4L760.0 1181.3L761.3 1181.3L762.6 1181.1L763.9 1181.3L765.3 1181.4L766.8 1181.2L768.3 1181.2L769.9 1181.3L771.5 1181.1L773.1 1181.2L774.8 1181.3L776.4 1181.1L778.2 1181.1L779.9 1181.2L781.6 1181.3L783.4 1181.2L785.2 1181.2L787.0 1181.1L788.8 1181.2L790.5 1181.3L792.3 1181.3L794.1 1181.2L795.9 1181.0L797.6 1181.0L799.4 1181.1L801.1 1180.9L802.8 1181.2L804.5 1181.3L806.1 1181.2L807.8 1181.1L809.3 1181.1L810.9 1181.2L812.4 1181.0L813.8 1181.0L815.2 1181.2L816.6 1181.1L817.8 1181.0L819.1 1181.0L820.2 1181.0L821.3 1180.9L822.4 1181.1L823.3 1181.1L824.2 1180.9L825.0 1181.0" stroke="#C00000" stroke-width="6.2"/>
<path d="M405.2 1150.7L406.2 1150.2L407.6 1149.6L409.2 1148.9L411.0 1148.0L412.7 1146.8L414.2 1145.7L415.2 1144.7L416.2 1143.7L417.1 1142.7L418.0 1141.4L419.0 1140.2L419.9 1138.6L420.8 1137.2L421.7 1135.8L422.4 1134.5L423.1 1133.3L423.8 1132.0L424.5 1130.8L425.2 1129.6L425.9 1128.3L426.6 1126.7L427.3 1125.0L427.9 1123.6L428.6 1122.4L429.2 1120.9L429.8 1119.5L430.3 1118.1L430.8 1116.6L431.3 1115.4L431.9 1113.9L432.4 1112.2L432.8 1110.7L433.3 1109.1L433.8 1107.7L434.3 1106.4L434.7 1104.8L435.2 1103.3L435.7 1101.9L436.1 1100.5L436.5 1099.0L436.9 1097.5L437.4 1096.0L437.8 1094.7L438.2 1093.3L438.6 1091.7L439.0 1090.3L439.4 1088.8L439.8 1087.4L440.2 1085.8L440.6 1084.5L441.0 1082.9L441.4 1081.3L441.8 1079.8L442.2 1078.3L442.6 1076.6L443.0 1075.2L443.3 1073.6L443.7 1071.8L444.1 1070.6L444.5 1069.1L444.8 1067.4L445.2 1065.9L445.5 1064.4L445.9 1062.7L446.2 1061.0L446.5 1059.4L446.8 1057.8L447.1 1056.4L447.4 1054.8L447.7 1053.3L448.0 1051.9L448.3 1050.3L448.6 1048.6L448.9 1047.1L449.2 1045.7L449.6 1044.3L449.9 1042.8L450.2 1041.2L450.6 1039.7L450.9 1038.5L451.3 1037.1L451.6 1035.5L451.9 1033.8L452.3 1032.3L452.6 1030.8L452.9 1029.0L453.2 1027.5L453.4 1026.1L453.7 1024.6L453.9 1022.9L454.1 1021.3L454.4 1020.1L454.6 1018.6L454.8 1016.8L455.1 1015.1L455.3 1013.4L455.5 1011.6L455.8 1010.1L456.0 1008.7L456.2 1007.0L456.5 1005.2L456.7 1003.8L456.9 1002.4L457.1 1000.7L457.4 999.0L457.6 997.5L457.8 996.1L458.0 994.7L458.2 993.2L458.4 991.6L458.6 989.8L458.9 988.3L459.1 986.7L459.3 985.3L459.5 983.8L459.7 982.1L460.0 980.5L460.2 979.0L460.4 977.5L460.6 975.8L460.8 974.3L461.0 972.9L461.2 971.3L461.5 969.8L461.7 968.4L461.9 967.0L462.1 965.3L462.3 963.8L462.5 962.3L462.8 960.7L463.0 959.0L463.2 957.8L463.5 956.3L463.7 954.4L464.0 952.8L464.2 951.2L464.4 949.9L464.7 948.4L464.9 946.8L465.2 945.2L465.4 943.9L465.7 942.4L465.9 940.7L466.2 939.3L466.5 938.0L466.7 936.5L467.0 934.8L467.2 933.4L467.5 931.6L467.8 929.8L468.0 928.6L468.3 927.2L468.5 925.8L468.7 924.2L469.0 922.7L469.2 921.4L469.4 919.8L469.7 918.0L469.9 916.4L470.1 915.0L470.3 913.3L470.5 911.7L470.7 910.2L471.0 908.8L471.2 907.2L471.4 905.5L471.5 904.4L471.7 902.8L471.9 901.0L472.1 899.7L472.3 898.3L472.5 896.9L472.7 895.3L472.9 894.0L473.2 892.4L473.5 890.5L473.7 888.7L474.0 887.2L474.2 885.7L474.5 884.4L474.7 883.0L475.0 881.5L475.2 880.1L475.5 878.5L475.7 877.2L476.0 875.9L476.2 874.2L476.5 872.7L476.7 871.4L476.9 869.8L477.2 868.4L477.4 867.0L477.6 865.3L477.8 863.8L478.0 862.1L478.3 860.5L478.5 858.9L478.7 857.2L478.9 855.9L479.2 854.5L479.4 853.1L479.7 851.4L479.9 850.0L480.2 848.7L480.6 847.0L480.9 845.3L481.3 843.8L481.7 842.5L482.1 840.8L482.5 839.5L482.9 838.1L483.4 836.4L483.8 834.9L484.3 833.7L484.7 832.1L485.2 831.0L486.0 829.5L486.9 828.0L487.8 826.4L488.8 825.1L489.7 824.0L490.7 823.0L491.7 822.4L493.2 821.7L494.7 821.6L496.3 822.4L497.8 822.9L499.2 823.5L500.5 824.1L501.7 824.6L502.9 825.6L504.0 827.0L505.2 828.8L505.7 829.9L506.2 831.0L506.7 832.3L507.2 833.7L507.7 835.1L508.2 836.6L508.7 838.3L509.2 839.7L509.7 841.3L510.2 843.3L510.7 844.9L511.2 846.2L511.6 847.8L512.1 849.5L512.5 850.8L512.9 852.2L513.4 854.0L513.8 855.5L514.2 856.8L514.6 858.3L515.1 860.0L515.5 861.4L515.9 863.1L516.3 864.9L516.7 866.6L517.0 868.0L517.4 869.4L517.7 870.8L518.1 872.3L518.4 873.7L518.7 875.2L519.1 876.6L519.4 878.3L519.7 879.6L520.1 881.2L520.4 882.7L520.7 884.2L521.0 885.7L521.4 887.3L521.7 888.7L522.0 890.3L522.4 891.8L522.7 893.5L523.0 894.9L523.4 896.4L523.7 898.0L524.0 899.4L524.4 900.8L524.7 902.0L525.0 903.6L525.4 905.4L525.7 907.0L526.0 908.7L526.4 910.1L526.7 911.1L527.0 912.4L527.4 914.0L527.7 915.9L528.0 917.1L528.3 918.6L528.7 920.1L529.0 921.5L529.3 923.1L529.6 924.6L530.0 926.0L530.3 927.6L530.6 929.2L531.0 930.5L531.3 932.1L531.7 933.9L532.0 935.3L532.4 936.4L532.7 937.8L533.0 939.5L533.4 941.1L533.7 942.6L534.1 944.1L534.4 945.5L534.8 947.2L535.1 948.8L535.5 950.2L535.9 951.7L536.2 953.3L536.6 954.6L537.0 955.9L537.3 957.4L537.7 958.8L538.1 960.4L538.5 961.9L539.0 963.6L539.4 965.1L539.9 966.4L540.3 968.2L540.7 969.7L541.2 971.0L541.6 972.3L542.1 973.8L542.5 975.7L543.0 977.2L543.4 978.5L543.8 979.8L544.3 981.3L544.8 982.9L545.3 984.5L545.8 986.4L546.3 987.5L546.8 989.0L547.3 990.6L547.8 991.7L548.3 993.5L548.8 994.8L549.3 996.0L549.8 997.8L550.2 999.4L550.7 1000.9L551.2 1002.5L551.7 1004.0L552.2 1005.4L552.7 1007.0L553.1 1008.7L553.6 1010.2L554.1 1011.6L554.6 1013.1L555.1 1014.7L555.6 1016.3L556.1 1017.5L556.6 1019.1L557.1 1020.5L557.7 1022.0L558.3 1023.6L559.0 1025.2L559.7 1026.7L560.4 1028.6L561.0 1030.0L561.7 1031.2L562.4 1032.6L563.0 1033.9L563.7 1035.2L564.3 1036.5L564.8 1037.8L565.6 1039.4L566.3 1040.5L567.0 1041.5L567.6 1042.6L568.2 1043.7L569.0 1044.9L570.0 1046.5L570.5 1048.0L571.1 1049.4L571.7 1050.4L572.4 1051.9L573.0 1053.3L573.7 1054.6L574.4 1056.2L575.2 1057.9L575.9 1059.4L576.7 1060.8L577.4 1062.2L578.2 1063.6L579.0 1065.2L579.7 1066.6L580.6 1068.8L581.5 1070.5L582.4 1071.2L583.4 1071.8L584.3 1073.3L585.2 1074.6L586.2 1075.7L587.2 1076.7L588.2 1077.5L589.2 1078.9L590.2 1080.0L591.3 1081.7L592.5 1082.0L593.7 1083.4L594.8 1084.2L596.1 1084.6L597.3 1086.3L598.6 1086.6L599.8 1086.9L601.2 1089.0L602.5 1089.5L603.9 1089.9L605.3 1091.4L606.6 1091.7L608.0 1091.7L609.4 1092.4L610.9 1092.6L612.3 1092.7L613.8 1093.9L615.3 1094.1L616.8 1094.4L618.3 1094.2L619.8 1094.8L621.3 1095.0L622.8 1095.1L624.3 1095.5L625.7 1096.5L627.2 1097.9L628.7 1099.5L630.2 1098.6L631.7 1098.6L633.2 1099.5L634.7 1100.4L636.1 1101.0L637.5 1101.1L638.9 1101.1L640.3 1101.8L641.9 1103.6L643.5 1103.2L645.0 1103.0L646.5 1104.6L648.0 1104.9L649.4 1105.1L650.9 1105.3L652.3 1106.7L653.8 1106.9L655.3 1108.1L656.8 1109.4L658.3 1109.5L659.8 1110.4L661.3 1109.6L662.8 1110.4L664.3 1110.9L665.8 1112.0L667.3 1112.8L668.8 1114.2L670.3 1114.6L671.7 1113.9L673.0 1114.5L674.4 1116.0L675.8 1116.9L677.1 1117.8L678.5 1118.4L679.8 1119.7L681.2 1119.4L682.6 1118.7L683.9 1120.1L685.3 1121.4L686.7 1122.1L688.0 1123.5L689.4 1124.7L690.8 1125.3L692.1 1124.9L693.5 1124.7L694.8 1125.5L696.2 1127.0L697.6 1128.6L698.9 1128.6L700.3 1129.3L701.7 1132.0L703.0 1132.5L704.4 1131.6L705.8 1132.4L707.1 1133.6L708.5 1134.4L709.8 1135.4L711.2 1135.9L712.6 1136.7L713.9 1137.6L715.3 1138.1L716.7 1138.9L718.0 1139.5L719.4 1140.9L720.8 1141.9L722.1 1143.1L723.5 1143.3L724.8 1144.0L726.2 1144.5L727.6 1144.8L728.9 1145.0L730.3 1146.4L731.8 1147.0L733.3 1147.0L734.8 1148.0L736.3 1148.2L737.8 1149.0L739.3 1149.5L740.8 1150.1L742.3 1150.4L743.8 1150.5L745.3 1150.8L746.8 1151.5L748.3 1151.5L749.8 1151.9L751.3 1153.4L752.8 1154.4L754.3 1153.9L755.8 1155.3L757.3 1154.9L758.8 1155.3L760.3 1157.1L761.8 1157.4L763.3 1156.1L764.8 1157.0L766.3 1157.9L767.8 1158.3L769.3 1158.8L770.8 1160.3L772.3 1159.7L773.8 1159.1L775.3 1160.2L776.8 1160.7L778.3 1161.1L779.8 1160.9L781.3 1161.1L782.8 1161.6L784.3 1161.6L785.8 1161.7L787.3 1162.6L788.8 1163.2L790.3 1163.1L791.8 1163.4L793.3 1164.4L794.7 1164.5L796.2 1164.4L797.6 1165.4L799.1 1165.4L800.6 1165.3L802.1 1165.1L803.7 1164.7L805.3 1165.1L806.9 1165.7L808.6 1165.7L810.4 1165.9L812.2 1165.2L814.1 1164.8L815.9 1165.5L817.6 1166.2L819.2 1166.3L820.6 1166.5L821.9 1166.5L822.8 1166.8" stroke="#002060" stroke-width="5.9" stroke-dasharray="12.3 12.4" stroke-dashoffset="2.5"/>
<path d="M406.0 1150.5L407.0 1150.1L408.4 1149.5L410.0 1148.8L411.8 1147.6L413.5 1146.5L415.0 1145.5L416.0 1144.6L417.0 1143.6L417.9 1142.6L418.8 1141.2L419.8 1140.0L420.7 1138.6L421.6 1137.0L422.5 1135.4L423.2 1134.3L423.9 1133.2L424.6 1131.6L425.3 1130.3L426.0 1129.1L426.7 1127.7L427.4 1126.2L428.1 1124.8L428.7 1123.5L429.4 1122.2L430.0 1120.6L430.6 1119.2L431.1 1117.8L431.6 1116.2L432.1 1114.7L432.7 1113.2L433.2 1111.7L433.6 1110.4L434.1 1108.7L434.6 1107.4L435.1 1106.0L435.5 1104.4L436.0 1103.0L436.5 1101.5L436.9 1100.1L437.3 1098.9L437.7 1097.3L438.2 1095.8L438.6 1094.6L439.0 1093.1L439.4 1091.5L439.8 1090.1L440.2 1088.4L440.6 1086.6L441.0 1085.4L441.4 1084.1L441.8 1082.6L442.2 1081.0L442.6 1079.3L443.0 1078.0L443.4 1076.5L443.8 1074.8L444.1 1073.2L444.5 1071.8L444.9 1070.4L445.3 1068.8L445.6 1067.0L446.0 1065.5L446.3 1064.1L446.7 1062.4L447.0 1060.6L447.3 1059.2L447.6 1057.6L447.9 1056.2L448.2 1054.5L448.5 1052.9L448.8 1051.5L449.1 1050.0L449.4 1048.3L449.7 1047.1L450.0 1045.5L450.4 1043.7L450.7 1042.5L451.0 1041.0L451.4 1039.6L451.7 1038.2L452.1 1036.9L452.4 1035.4L452.7 1034.0L453.1 1032.1L453.4 1030.4L453.8 1028.6L454.0 1027.2L454.2 1025.8L454.5 1024.4L454.7 1023.0L454.9 1021.4L455.2 1019.7L455.4 1018.2L455.6 1016.3L455.9 1014.8L456.1 1013.2L456.3 1011.5L456.6 1009.9L456.8 1008.2L457.0 1006.7L457.3 1005.3L457.5 1003.7L457.7 1001.9L457.9 1000.3L458.2 999.0L458.4 997.4L458.6 995.7L458.8 994.3L459.0 992.9L459.2 991.2L459.4 989.6L459.7 988.2L459.9 986.8L460.1 985.1L460.3 983.5L460.5 981.9L460.8 980.2L461.0 978.7L461.2 977.1L461.4 975.4L461.6 974.0L461.8 972.7L462.0 971.2L462.3 969.3L462.5 967.8L462.7 966.7L462.9 965.3L463.1 963.8L463.3 962.1L463.6 960.2L463.8 958.7L464.0 957.3L464.3 955.8L464.5 954.0L464.8 952.6L465.0 951.2L465.2 949.7L465.5 948.2L465.7 946.7L466.0 945.2L466.2 943.6L466.5 942.0L466.7 940.5L467.0 939.0L467.3 937.8L467.5 936.0L467.8 934.4L468.0 933.1L468.3 931.4L468.6 929.9L468.8 928.5L469.1 927.0L469.3 925.3L469.5 923.9L469.8 922.6L470.0 921.0L470.2 919.5L470.5 918.0L470.7 916.5L470.9 914.8L471.1 913.1L471.3 911.4L471.5 909.8L471.8 908.3L472.0 906.7L472.2 905.2L472.3 903.7L472.5 902.3L472.7 900.8L472.9 899.2L473.1 897.6L473.3 896.2L473.5 894.9L473.8 893.7L474.0 891.8L474.3 890.2L474.5 888.8L474.8 887.1L475.0 885.6L475.3 884.3L475.5 882.9L475.8 881.3L476.0 879.7L476.3 878.5L476.5 877.0L476.8 875.3L477.0 873.9L477.3 872.5L477.5 871.0L477.7 869.7L478.0 868.1L478.2 866.3L478.4 864.8L478.6 863.4L478.8 862.0L479.1 860.2L479.3 858.6L479.5 857.1L479.7 855.6L480.0 853.9L480.2 852.8L480.5 851.5L480.7 850.3L481.0 848.6L481.4 846.9L481.7 845.3L482.1 843.5L482.5 842.0L482.9 840.4L483.3 838.9L483.7 837.6L484.2 835.8L484.6 834.5L485.1 833.5L485.5 832.3L486.0 831.1L486.8 829.2L487.7 827.6L488.6 826.2L489.6 824.7L490.5 823.7L491.5 822.6L492.5 821.9L494.0 821.6L495.5 821.6L497.1 821.9L498.6 822.0L500.0 822.9L501.3 823.8L502.5 824.3L503.7 825.0L504.8 826.4L506.0 828.4L506.5 829.5L507.0 830.6L507.5 831.8L508.0 833.4L508.5 835.0L509.0 836.4L509.5 838.1L510.0 839.8L510.5 841.1L511.0 842.6L511.5 844.5L512.0 845.9L512.4 847.5L512.9 849.1L513.3 850.4L513.7 851.9L514.2 853.4L514.6 855.0L515.0 856.5L515.4 858.0L515.9 859.6L516.3 861.5L516.7 863.1L517.1 864.4L517.5 866.0L517.8 867.7L518.2 869.2L518.5 870.5L518.9 872.1L519.2 873.5L519.5 874.8L519.9 876.2L520.2 877.8L520.5 879.4L520.9 880.9L521.2 882.5L521.5 884.1L521.8 885.4L522.2 887.1L522.5 889.0L522.8 890.1L523.2 891.4L523.5 892.9L523.8 894.5L524.2 896.1L524.5 897.6L524.8 899.1L525.2 900.2L525.5 901.9L525.8 903.6L526.2 904.9L526.5 906.4L526.8 908.0L527.2 909.5L527.5 911.1L527.8 912.5L528.2 914.1L528.5 915.4L528.8 917.0L529.1 918.5L529.5 919.9L529.8 921.2L530.1 922.9L530.4 924.5L530.8 926.0L531.1 927.2L531.4 928.6L531.8 930.4L532.1 932.0L532.5 933.5L532.8 934.9L533.2 936.3L533.5 937.6L533.8 939.1L534.2 940.7L534.5 942.3L534.9 943.8L535.2 945.5L535.6 947.0L535.9 948.3L536.3 949.7L536.7 951.1L537.0 952.8L537.4 954.3L537.8 955.6L538.1 957.1L538.5 958.5L538.9 960.1L539.3 961.5L539.8 963.1L540.2 964.7L540.6 966.4L541.1 967.9L541.5 969.1L542.0 970.7L542.4 972.2L542.8 973.6L543.3 975.2L543.7 976.7L544.1 978.2L544.6 979.6L545.0 980.9L545.5 982.5L546.0 984.0L546.5 985.7L547.0 987.3L547.4 988.9L547.9 990.4L548.4 991.7L548.9 993.3L549.4 995.1L549.9 996.7L550.3 998.0L550.8 999.5L551.3 1001.0L551.8 1002.5L552.2 1004.0L552.7 1005.7L553.2 1007.0L553.6 1008.6L554.1 1010.5L554.6 1012.0L555.0 1013.3L555.5 1014.8L556.0 1016.6L556.5 1018.2L557.0 1019.7L557.5 1021.0L558.1 1022.6L558.7 1024.2L559.3 1025.7L560.0 1027.4L560.7 1028.9L561.3 1030.5L562.0 1031.8L562.6 1033.1L563.3 1034.6L563.9 1036.2L564.5 1037.5L565.0 1038.7L565.8 1040.4L566.5 1041.4L567.1 1042.5L567.7 1043.6L568.3 1044.6L569.1 1045.8L570.0 1047.8L570.5 1049.1L571.1 1050.4L571.7 1051.8L572.3 1053.0L573.0 1054.5L573.7 1056.1L574.3 1057.7L575.1 1059.1L575.8 1060.8L576.5 1062.3L577.3 1063.6L578.0 1065.3L578.7 1066.8L579.5 1068.1L580.4 1070.2L581.3 1071.4L582.2 1073.1L583.1 1075.1L584.0 1075.7L585.0 1076.2L585.9 1077.4L586.9 1078.6L587.9 1079.2L588.9 1081.1L589.9 1083.0L591.0 1082.6L592.2 1083.3L593.3 1084.6L594.5 1086.1L595.8 1087.3L597.0 1087.6L598.3 1088.3L599.5 1088.9L600.9 1090.5L602.2 1091.7L603.6 1092.1L605.0 1092.8L606.3 1093.2L607.7 1092.8L609.1 1093.7L610.6 1094.3L612.0 1094.7L613.5 1096.4L615.0 1096.2L616.5 1096.0L618.0 1096.4L619.5 1096.9L621.0 1096.9L622.5 1096.2L624.0 1097.6L625.4 1098.3L626.9 1098.7L628.4 1100.1L629.9 1100.4L631.4 1100.9L632.9 1100.8L634.4 1100.6L635.8 1101.5L637.2 1102.6L638.6 1103.2L640.0 1104.0L641.6 1104.5L643.2 1104.3L644.7 1105.8L646.2 1106.2L647.7 1106.6L649.1 1107.9L650.6 1107.9L652.0 1108.5L653.5 1109.3L655.0 1109.1L656.5 1109.5L658.0 1110.4L659.5 1110.7L661.0 1110.9L662.5 1111.8L664.0 1112.8L665.5 1113.4L667.0 1114.3L668.5 1114.1L670.0 1115.7L671.4 1115.9L672.7 1117.1L674.1 1118.9L675.5 1119.1L676.8 1119.1L678.2 1119.5L679.5 1121.6L680.9 1122.7L682.3 1122.1L683.6 1122.5L685.0 1123.0L686.4 1124.0L687.7 1123.4L689.1 1124.9L690.5 1125.9L691.8 1126.5L693.2 1127.0L694.5 1127.5L695.9 1128.5L697.3 1129.0L698.6 1129.8L700.0 1131.3L701.4 1131.6L702.7 1132.4L704.1 1132.3L705.5 1133.3L706.8 1135.1L708.2 1135.4L709.5 1135.3L710.9 1136.4L712.3 1137.8L713.6 1139.4L715.0 1140.8L716.4 1140.8L717.7 1141.3L719.1 1142.3L720.5 1142.0L721.8 1143.1L723.2 1144.1L724.5 1145.1L725.9 1145.7L727.3 1146.8L728.6 1147.6L730.0 1148.9L731.5 1148.5L733.0 1148.8L734.5 1149.5L736.0 1149.9L737.5 1150.6L739.0 1151.2L740.5 1151.4L742.0 1151.5L743.5 1152.2L745.0 1153.0L746.5 1153.2L748.0 1153.8L749.5 1153.8L751.0 1155.1L752.5 1156.1L754.0 1156.1L755.5 1156.4L757.0 1156.9L758.5 1158.3L760.0 1158.5L761.5 1158.9L763.0 1159.3L764.5 1159.4L766.0 1159.4L767.5 1160.1L769.0 1160.6L770.5 1161.1L772.0 1161.3L773.5 1161.4L775.0 1161.5L776.5 1162.0L778.0 1162.7L779.5 1162.7L781.0 1162.3L782.5 1163.3L784.0 1164.1L785.5 1164.5L787.0 1164.9L788.5 1165.1L790.0 1164.8L791.5 1164.6L793.0 1165.2L794.4 1166.2L795.9 1165.8L797.3 1164.8L798.8 1165.9L800.3 1166.1L801.8 1166.4L803.4 1167.0L805.0 1167.1L806.6 1167.7L808.3 1167.8L810.1 1167.4L811.9 1167.4L813.8 1168.5L815.6 1168.8L817.3 1168.4L818.9 1168.2L820.3 1167.7L821.6 1168.3L822.5 1169.3" stroke="#00B050" stroke-width="5.9" stroke-dasharray="12.3 12.4" stroke-dashoffset="0"/>
<path d="M406.0 1128.0L406.2 1127.0L406.4 1125.8L406.7 1124.5L407.0 1123.8L407.3 1122.3L407.6 1120.7L408.0 1119.3L408.4 1117.7L408.8 1116.2L409.2 1114.4L409.6 1112.4L410.0 1110.8L410.4 1109.5L410.9 1107.6L411.3 1105.4L411.7 1104.4L412.1 1102.4L412.5 1100.4L412.8 1099.1L413.2 1097.8L413.5 1096.4L413.8 1094.6L414.2 1093.4L414.5 1092.1L414.9 1090.0L415.3 1088.2L415.6 1086.7L416.0 1085.6L416.3 1084.2L416.7 1082.5L417.1 1081.1L417.4 1079.8L417.8 1078.0L418.1 1076.4L418.4 1074.8L418.8 1073.3L419.1 1071.9L419.4 1070.5L419.7 1069.3L420.0 1068.3L420.4 1066.1L420.8 1064.4L421.2 1062.8L421.5 1061.0L421.9 1059.1L422.2 1057.2L422.6 1056.1L422.9 1054.9L423.2 1053.4L423.5 1052.1L423.8 1050.5L424.1 1049.4L424.4 1048.5L424.7 1047.3L425.0 1045.7L425.4 1043.9L425.7 1042.3L426.0 1041.0L426.3 1039.7L426.6 1038.4L426.9 1037.0L427.2 1036.7L427.5 1035.2L427.9 1033.0L428.3 1030.9L428.8 1028.4L429.0 1027.3L429.2 1025.9L429.5 1024.7L429.7 1023.4L430.0 1022.0L430.2 1020.8L430.5 1019.7L430.8 1018.1L431.1 1016.3L431.4 1014.4L431.7 1013.1L432.0 1012.1L432.3 1010.5L432.6 1008.7L432.9 1007.1L433.2 1005.5L433.5 1003.7L433.8 1002.0L434.1 1000.7L434.5 999.2L434.8 997.4L435.1 995.9L435.4 993.9L435.7 992.6L436.0 991.0L436.3 989.2L436.6 988.2L436.8 986.9L437.1 985.2L437.4 983.9L437.7 982.0L438.0 980.7L438.3 979.9L438.6 978.1L438.9 976.2L439.2 974.6L439.5 973.4L439.8 972.1L440.1 970.4L440.4 968.4L440.7 967.0L441.0 965.6L441.3 963.7L441.5 962.8L441.8 961.3L442.1 959.9L442.4 957.9L442.7 956.6L443.0 955.1L443.2 953.9L443.5 952.7L443.8 950.6L444.1 948.6L444.4 947.3L444.6 945.8L444.9 944.7L445.2 943.3L445.5 941.6L445.8 939.9L446.1 938.7L446.4 937.1L446.6 935.5L446.9 933.7L447.2 932.4L447.4 931.0L447.7 929.4L448.0 928.1L448.2 926.1L448.5 924.0L448.8 922.9L449.0 921.9L449.3 920.3L449.5 918.9L449.8 917.8L450.0 916.1L450.3 914.5L450.5 913.1L450.8 911.8L451.1 910.4L451.3 908.4L451.6 906.6L451.8 905.1L452.0 903.4L452.3 901.8L452.5 900.2L452.8 899.3L453.0 898.1L453.2 896.6L453.5 894.9L453.7 893.3L454.0 892.3L454.2 891.1L454.5 889.4L454.7 887.8L455.0 885.6L455.3 884.3L455.6 882.8L455.8 881.0L456.1 879.8L456.4 877.9L456.7 876.0L457.0 875.0L457.3 874.0L457.6 872.1L457.9 870.5L458.2 869.2L458.5 868.0L458.8 865.9L459.1 864.1L459.4 862.8L459.8 861.8L460.1 860.4L460.4 858.9L460.7 857.6L461.0 856.4L461.4 854.6L461.8 852.4L462.3 850.7L462.7 849.1L463.1 847.3L463.6 845.8L464.0 844.2L464.5 842.7L464.9 841.3L465.3 840.4L465.8 838.7L466.2 837.0L466.6 835.7L467.1 834.5L467.5 833.6L468.3 831.3L469.1 829.7L469.9 827.8L470.6 826.1L471.4 824.8L472.2 823.7L473.0 822.8L473.8 822.1L475.3 820.3L476.8 819.6L478.3 819.8L480.0 820.3L481.2 820.3L482.5 820.5L483.8 821.5L485.0 823.1L486.3 824.6L487.5 825.8L488.2 827.1L488.8 828.4L489.5 829.8L490.1 831.4L490.7 832.6L491.3 834.2L491.9 836.2L492.5 838.1L493.1 839.4L493.8 841.0L494.2 842.4L494.7 843.6L495.2 844.9L495.7 846.3L496.1 847.8L496.6 849.5L497.1 850.4L497.6 852.0L498.1 853.4L498.5 855.1L499.0 856.8L499.5 858.4L500.0 860.0L500.4 860.9L500.8 862.4L501.1 864.1L501.5 865.8L501.9 866.9L502.3 868.1L502.7 870.1L503.0 872.0L503.4 873.4L503.8 874.8L504.2 876.2L504.6 878.0L505.0 879.3L505.3 881.0L505.7 882.7L506.1 883.9L506.5 885.8L506.8 887.0L507.1 888.5L507.5 890.6L507.8 892.1L508.1 892.8L508.4 894.0L508.8 896.1L509.1 897.6L509.4 899.4L509.7 901.0L510.0 902.2L510.4 904.1L510.7 905.4L511.0 906.2L511.3 907.9L511.7 910.1L512.0 911.4L512.3 912.8L512.7 914.1L513.0 916.0L513.3 917.9L513.7 919.4L514.0 920.7L514.4 922.2L514.7 924.0L515.1 925.4L515.4 926.6L515.8 927.9L516.2 929.4L516.5 931.4L516.9 932.8L517.2 934.3L517.6 936.1L517.9 937.1L518.3 938.5L518.6 940.1L519.0 941.6L519.3 943.4L519.7 944.9L520.0 946.3L520.4 947.9L520.7 948.9L521.1 950.3L521.4 952.3L521.8 954.1L522.1 955.6L522.5 957.1L522.8 958.9L523.1 960.1L523.5 962.0L523.8 963.6L524.2 964.5L524.5 966.1L524.9 967.7L525.2 968.8L525.6 970.3L525.9 972.1L526.3 973.1L526.7 974.3L527.1 976.7L527.4 978.9L527.8 979.8L528.2 981.0L528.6 983.1L529.0 984.8L529.4 986.5L529.8 988.1L530.2 989.2L530.6 991.1L531.0 992.5L531.4 993.5L531.8 995.0L532.3 997.0L532.7 998.1L533.1 999.5L533.5 1001.3L534.0 1002.8L534.5 1004.0L535.0 1006.1L535.5 1007.5L536.0 1009.0L536.5 1010.5L537.0 1012.1L537.6 1013.9L538.1 1015.6L538.6 1016.6L539.1 1017.9L539.7 1019.3L540.2 1020.7L540.8 1022.2L541.3 1023.5L541.9 1024.8L542.6 1026.2L543.2 1027.7L543.8 1028.9L544.4 1030.5L545.1 1031.3L545.7 1032.5L546.4 1034.4L547.1 1036.0L547.7 1037.3L548.5 1038.4L549.2 1039.8L550.0 1041.4L550.7 1042.0L551.4 1042.9L552.2 1044.8L553.0 1046.1L553.8 1047.3L554.6 1048.9L555.5 1050.3L556.3 1051.8L557.1 1053.2L558.0 1054.4L558.8 1055.7L559.6 1056.9L560.4 1058.6L561.2 1059.8L562.0 1059.3L562.9 1061.3L563.8 1062.6L564.6 1065.3L565.4 1067.2L566.3 1067.5L567.1 1068.1L567.9 1069.5L568.7 1071.7L569.6 1073.1L570.5 1075.8L571.5 1075.2L572.5 1074.4L573.5 1076.1L574.5 1078.3L575.6 1077.9L576.7 1078.4L577.8 1079.8L579.0 1081.8L580.2 1082.4L581.3 1083.7L582.6 1084.5L583.8 1085.5L585.0 1085.0L586.3 1085.5L587.5 1089.3L588.7 1089.5L589.8 1088.4L591.0 1091.4L592.2 1093.0L593.5 1093.2L594.7 1094.0L595.9 1095.5L597.2 1095.9L598.5 1096.8L599.7 1098.3L601.0 1099.3L602.3 1098.8L603.7 1098.7L605.0 1099.0L606.4 1099.6L607.7 1101.9L609.1 1103.0L610.5 1104.1L612.0 1103.9L613.4 1104.3L614.8 1105.2L616.3 1106.8L617.8 1107.3L619.2 1108.3L620.7 1109.4L622.1 1108.9L623.6 1110.5L625.0 1110.3L626.4 1109.6L627.9 1112.2L629.3 1112.3L630.7 1112.2L632.1 1114.4L633.6 1114.2L635.0 1114.9L636.4 1115.6L637.9 1115.9L639.3 1116.9L640.7 1118.9L642.1 1118.7L643.6 1120.0L645.0 1122.1L646.4 1121.6L647.9 1121.3L649.3 1122.7L650.7 1125.1L652.1 1124.6L653.6 1125.0L655.0 1124.2L656.4 1123.6L657.9 1125.1L659.3 1126.3L660.7 1127.2L662.1 1125.9L663.6 1126.6L665.0 1127.9L666.4 1129.8L667.9 1131.2L669.3 1131.7L670.7 1130.0L672.1 1131.8L673.6 1131.6L675.0 1131.3L676.4 1132.2L677.9 1133.4L679.3 1134.0L680.7 1133.2L682.1 1132.8L683.6 1133.2L685.0 1135.3L686.4 1136.9L687.9 1137.9L689.3 1137.3L690.7 1138.1L692.1 1138.2L693.6 1139.0L695.0 1140.1L696.4 1142.0L697.9 1143.4L699.3 1143.1L700.7 1142.8L702.1 1142.4L703.6 1144.4L705.0 1146.2L706.4 1146.1L707.9 1148.7L709.3 1148.6L710.7 1147.3L712.1 1148.8L713.6 1149.9L715.0 1150.5L716.4 1150.7L717.9 1151.3L719.3 1150.6L720.7 1150.0L722.1 1149.6L723.6 1152.4L725.0 1154.6L726.5 1154.7L728.1 1154.7L729.6 1154.6L731.2 1154.9L732.7 1156.0L734.2 1156.1L735.8 1157.3L737.3 1157.1L738.8 1156.5L740.4 1156.6L741.9 1157.7L743.5 1157.7L745.0 1157.4L746.5 1158.3L748.1 1158.1L749.6 1158.0L751.2 1158.7L752.7 1160.0L754.2 1160.4L755.8 1160.6L757.3 1159.7L758.8 1160.8L760.4 1162.0L761.9 1162.5L763.5 1163.4L765.0 1164.2L766.5 1163.0L768.1 1162.1L769.6 1163.4L771.2 1162.8L772.7 1163.4L774.2 1163.9L775.8 1164.6L777.3 1165.9L778.8 1166.9L780.4 1167.1L781.9 1167.0L783.5 1167.4L785.0 1167.7L786.5 1166.6L788.1 1165.8L789.7 1166.1L791.2 1167.0L792.8 1168.6L794.4 1169.9L795.9 1170.7L797.5 1170.6L799.0 1169.8L800.6 1170.9L802.1 1173.3L803.5 1173.1L805.0 1172.3L806.8 1171.9L808.6 1172.8L810.4 1172.6L812.3 1172.6L814.1 1172.7L815.9 1173.9L817.5 1174.6L819.1 1175.5L820.4 1174.6L821.6 1174.0L822.5 1172.8" stroke="#C00000" stroke-width="5.9" stroke-dasharray="12.3 12.4" stroke-dashoffset="0"/>
</g>
<g font-family="'Liberation Sans', sans-serif" font-weight="bold" fill="#000">
<text transform="translate(101.70 1191.10) scale(0.985 1.055)" font-size="33.3" text-anchor="end">0.00</text>
<text transform="translate(852.50 1191.10) scale(0.985 1.055)" font-size="33.3">0.00</text>
<text transform="translate(101.70 1119.18) scale(0.985 1.055)" font-size="33.3" text-anchor="end">0.20</text>
<text transform="translate(852.50 1119.18) scale(0.985 1.055)" font-size="33.3">0.20</text>
<text transform="translate(101.70 1047.27) scale(0.985 1.055)" font-size="33.3" text-anchor="end">0.40</text>
<text transform="translate(852.50 1047.27) scale(0.985 1.055)" font-size="33.3">0.40</text>
<text transform="translate(101.70 975.35) scale(0.985 1.055)" font-size="33.3" text-anchor="end">0.60</text>
<text transform="translate(852.50 975.35) scale(0.985 1.055)" font-size="33.3">0.60</text>
<text transform="translate(101.70 903.43) scale(0.985 1.055)" font-size="33.3" text-anchor="end">0.80</text>
<text transform="translate(852.50 903.43) scale(0.985 1.055)" font-size="33.3">0.80</text>
<text transform="translate(101.70 831.52) scale(0.985 1.055)" font-size="33.3" text-anchor="end">1.00</text>
<text transform="translate(852.50 831.52) scale(0.985 1.055)" font-size="33.3">1.00</text>
<text transform="translate(101.70 759.60) scale(0.985 1.055)" font-size="33.3" text-anchor="end">1.20</text>
<text transform="translate(852.50 759.60) scale(0.985 1.055)" font-size="33.3">1.20</text>
<text transform="translate(130.10 1231.30) scale(0.985 1.055)" font-size="33.3" text-anchor="middle">600</text>
<text transform="translate(303.60 1231.30) scale(0.985 1.055)" font-size="33.3" text-anchor="middle">700</text>
<text transform="translate(477.10 1231.30) scale(0.985 1.055)" font-size="33.3" text-anchor="middle">800</text>
<text transform="translate(650.60 1231.30) scale(0.985 1.055)" font-size="33.3" text-anchor="middle">900</text>
<text transform="translate(824.10 1231.30) scale(0.985 1.055)" font-size="33.3" text-anchor="middle">1000</text>
<text transform="translate(472.10 1273.60) scale(0.992 1.03)" font-size="33.3" text-anchor="middle">Wavelength (nm)</text>
<text transform="translate(28.60 964.50) rotate(-90) scale(0.992 1.03)" font-size="33.3" text-anchor="middle">Normalized Absorbance</text>
<text transform="translate(949.90 964.50) rotate(-90) scale(0.992 1.03)" font-size="33.3" text-anchor="middle">Normalized Emission</text>
<text transform="translate(139.40 810.70) scale(0.99 1.02)" font-size="47.5">EtOH</text>
</g>
<g fill="none" stroke-linecap="round" stroke-width="6.4">
<path d="M86.2 1297.7H145.1" stroke="#002060"/>
<path d="M493.2 1297.7h11.5M517.1 1297.7h11.5M541.0 1297.7h11.5" stroke="#002060"/>
<path d="M86.2 1331.3H145.1" stroke="#00B050"/>
<path d="M493.2 1331.3h11.5M517.1 1331.3h11.5M541.0 1331.3h11.5" stroke="#00B050"/>
<path d="M86.2 1364.3H145.1" stroke="#C00000"/>
<path d="M493.2 1364.3h11.5M517.1 1364.3h11.5M541.0 1364.3h11.5" stroke="#C00000"/>
</g>
<g font-family="'Liberation Sans', sans-serif" font-weight="bold" fill="#000">
<text transform="translate(151.30 1306.30) scale(1 1.03)" font-size="28.4">Abs-IR794-COOH</text>
<text transform="translate(559.30 1306.30) scale(1 1.03)" font-size="28.4">Flu-IR794-COOH</text>
<text transform="translate(151.30 1339.90) scale(1 1.03)" font-size="28.4">Abs-IR794-Morph</text>
<text transform="translate(559.30 1339.90) scale(1 1.03)" font-size="28.4">Flu-IR794-Morph</text>
<text transform="translate(151.30 1372.90) scale(1 1.03)" font-size="28.4">Abs-IR794-Morph-Mpip</text>
<text transform="translate(559.30 1372.90) scale(1 1.03)" font-size="28.4">Flu-IR794-orph-Mpip</text>
</g>
</g>
<g id="panel4">
<g stroke="#000" fill="none" stroke-linecap="butt">
<rect x="1155.6" y="748.8" width="713.20" height="429.00" stroke-width="6.4"/>
<path d="M1145.6 1177.80H1155.6M1868.8 1177.80H1878.8M1145.6 1106.30H1155.6M1868.8 1106.30H1878.8M1145.6 1034.80H1155.6M1868.8 1034.80H1878.8M1145.6 963.30H1155.6M1868.8 963.30H1878.8M1145.6 891.80H1155.6M1868.8 891.80H1878.8M1145.6 820.30H1155.6M1868.8 820.30H1878.8M1145.6 748.80H1155.6M1868.8 748.80H1878.8M1155.60 1177.8V1188.0M1333.90 1177.8V1188.0M1512.20 1177.8V1188.0M1690.50 1177.8V1188.0M1868.80 1177.8V1188.0" stroke-width="6.2"/>
</g>
<clipPath id="cp4"><rect x="1152.2" y="745.8" width="720.0" height="435.3"/></clipPath>
<g fill="none" stroke-linejoin="round" stroke-linecap="round" clip-path="url(#cp4)">
<path d="M1155.2 1174.0L1156.1 1173.8L1157.1 1173.7L1158.3 1173.4L1159.6 1173.2L1161.0 1173.0L1162.5 1172.7L1164.1 1172.4L1165.7 1172.1L1167.4 1171.8L1169.2 1171.5L1170.9 1171.1L1172.7 1170.8L1174.4 1170.4L1176.2 1170.1L1177.8 1169.7L1179.5 1169.4L1181.0 1169.0L1182.5 1168.6L1184.0 1168.3L1185.5 1167.9L1186.9 1167.5L1188.4 1167.1L1189.9 1166.7L1191.3 1166.2L1192.8 1165.8L1194.3 1165.4L1195.7 1165.0L1197.2 1164.5L1198.7 1164.1L1200.1 1163.6L1201.6 1163.1L1203.1 1162.7L1204.5 1162.2L1206.0 1161.8L1207.5 1161.3L1208.9 1160.8L1210.4 1160.3L1211.9 1159.8L1213.4 1159.3L1214.8 1158.8L1216.3 1158.3L1217.8 1157.7L1219.2 1157.2L1220.7 1156.7L1222.2 1156.2L1223.6 1155.6L1225.1 1155.1L1226.6 1154.6L1228.1 1154.1L1229.5 1153.5L1231.0 1153.0L1232.5 1152.5L1234.0 1152.0L1235.5 1151.4L1237.0 1150.9L1238.5 1150.4L1240.0 1149.9L1241.5 1149.4L1243.1 1148.8L1244.6 1148.3L1246.1 1147.8L1247.5 1147.3L1249.0 1146.7L1250.5 1146.2L1251.9 1145.7L1253.3 1145.1L1254.7 1144.6L1256.0 1144.0L1257.6 1143.3L1259.1 1142.7L1260.7 1142.0L1262.2 1141.3L1263.6 1140.6L1265.1 1140.0L1266.5 1139.3L1267.9 1138.6L1269.2 1137.9L1270.6 1137.1L1272.0 1136.4L1273.3 1135.6L1274.7 1134.8L1276.0 1134.0L1277.3 1133.2L1278.6 1132.3L1279.9 1131.4L1281.2 1130.5L1282.4 1129.6L1283.7 1128.7L1284.9 1127.7L1286.1 1126.7L1287.4 1125.8L1288.6 1124.8L1289.8 1123.7L1291.0 1122.7L1292.3 1121.6L1293.5 1120.5L1294.6 1119.5L1295.7 1118.5L1296.8 1117.5L1297.9 1116.5L1299.0 1115.4L1300.1 1114.3L1301.2 1113.3L1302.2 1112.2L1303.3 1111.0L1304.4 1109.9L1305.5 1108.8L1306.6 1107.6L1307.7 1106.5L1308.8 1105.3L1309.9 1104.2L1311.0 1103.0L1312.0 1101.9L1313.1 1100.7L1314.1 1099.5L1315.2 1098.3L1316.2 1097.1L1317.3 1095.9L1318.3 1094.6L1319.4 1093.4L1320.4 1092.2L1321.5 1090.9L1322.5 1089.7L1323.5 1088.5L1324.6 1087.3L1325.6 1086.2L1326.6 1085.1L1327.5 1084.0L1328.5 1083.0L1329.7 1081.7L1331.0 1080.4L1332.2 1079.2L1333.4 1078.0L1334.6 1076.8L1335.7 1075.7L1336.9 1074.6L1338.0 1073.5L1339.2 1072.5L1340.3 1071.6L1341.4 1070.7L1342.4 1069.8L1343.5 1069.0L1345.0 1068.0L1346.4 1067.1L1347.8 1066.4L1349.1 1065.7L1350.4 1065.2L1351.7 1064.6L1353.1 1064.1L1354.5 1063.6L1356.0 1063.0L1357.4 1062.5L1358.9 1062.0L1360.4 1061.5L1361.9 1061.0L1363.5 1060.5L1365.1 1060.0L1366.6 1059.6L1368.1 1059.1L1369.6 1058.5L1371.0 1058.0L1372.5 1057.4L1374.0 1056.7L1375.4 1056.1L1376.9 1055.4L1378.3 1054.8L1379.6 1054.1L1380.9 1053.3L1382.2 1052.6L1383.5 1051.8L1384.9 1050.8L1386.1 1049.9L1387.3 1049.0L1388.5 1048.0L1389.7 1047.0L1390.9 1045.8L1392.1 1044.5L1393.5 1043.0L1394.3 1042.1L1395.1 1041.1L1396.0 1040.2L1396.9 1039.2L1397.7 1038.2L1398.6 1037.1L1399.5 1036.0L1400.4 1034.8L1401.4 1033.6L1402.3 1032.3L1403.2 1030.8L1404.1 1029.3L1405.1 1027.7L1406.0 1026.0L1406.6 1024.9L1407.1 1023.8L1407.7 1022.6L1408.3 1021.4L1408.9 1020.1L1409.4 1018.8L1410.0 1017.5L1410.6 1016.2L1411.2 1014.8L1411.8 1013.4L1412.4 1012.0L1413.0 1010.5L1413.5 1009.0L1414.1 1007.5L1414.7 1006.0L1415.3 1004.4L1415.9 1002.9L1416.5 1001.3L1417.1 999.7L1417.7 998.0L1418.3 996.4L1418.9 994.7L1419.5 993.0L1419.9 991.7L1420.4 990.4L1420.8 989.1L1421.3 987.8L1421.7 986.5L1422.2 985.1L1422.6 983.7L1423.1 982.4L1423.5 981.0L1424.0 979.5L1424.4 978.1L1424.9 976.7L1425.3 975.2L1425.8 973.8L1426.2 972.3L1426.7 970.8L1427.1 969.3L1427.6 967.8L1428.0 966.3L1428.5 964.8L1428.9 963.3L1429.4 961.8L1429.8 960.3L1430.3 958.7L1430.8 957.2L1431.2 955.7L1431.7 954.1L1432.1 952.6L1432.6 951.1L1433.0 949.5L1433.5 948.0L1433.9 946.6L1434.3 945.2L1434.8 943.8L1435.2 942.3L1435.6 940.9L1436.1 939.4L1436.5 937.9L1436.9 936.5L1437.4 935.0L1437.8 933.5L1438.2 932.0L1438.7 930.5L1439.1 929.0L1439.6 927.5L1440.0 926.0L1440.4 924.5L1440.9 923.0L1441.3 921.5L1441.7 920.0L1442.2 918.5L1442.6 917.0L1443.0 915.5L1443.5 914.0L1443.9 912.5L1444.3 911.0L1444.7 909.5L1445.2 908.1L1445.6 906.6L1446.0 905.1L1446.4 903.7L1446.8 902.2L1447.2 900.8L1447.6 899.4L1448.0 898.0L1448.4 896.5L1448.9 894.9L1449.3 893.4L1449.7 891.8L1450.1 890.3L1450.5 888.7L1450.9 887.1L1451.4 885.6L1451.8 884.0L1452.2 882.4L1452.6 880.9L1453.0 879.3L1453.4 877.8L1453.8 876.3L1454.2 874.8L1454.6 873.2L1455.0 871.8L1455.3 870.3L1455.7 868.8L1456.1 867.4L1456.5 865.9L1456.8 864.5L1457.2 863.1L1457.6 861.8L1457.9 860.4L1458.3 859.1L1458.6 857.8L1459.0 856.6L1459.3 855.4L1459.7 854.2L1460.0 853.0L1460.6 851.1L1461.1 849.2L1461.6 847.3L1462.2 845.6L1462.7 843.9L1463.2 842.2L1463.7 840.6L1464.1 839.1L1464.6 837.6L1465.1 836.2L1465.5 834.9L1465.9 833.6L1466.4 832.3L1466.8 831.1L1467.2 830.0L1467.7 829.0L1468.1 827.9L1468.5 827.0L1469.7 824.6L1470.8 822.8L1471.9 821.5L1472.9 820.7L1473.9 820.2L1475.0 820.0L1476.3 820.1L1477.6 820.6L1479.0 821.6L1480.3 823.4L1481.7 826.0L1482.1 826.9L1482.5 827.9L1483.0 829.0L1483.4 830.2L1483.8 831.4L1484.3 832.6L1484.7 833.9L1485.2 835.3L1485.6 836.8L1486.1 838.3L1486.5 839.9L1487.0 841.6L1487.4 843.3L1487.9 845.1L1488.3 847.0L1488.8 849.0L1489.2 851.0L1489.5 852.2L1489.7 853.4L1490.0 854.7L1490.2 856.1L1490.5 857.4L1490.7 858.8L1491.0 860.3L1491.3 861.8L1491.5 863.3L1491.8 864.8L1492.1 866.3L1492.3 867.9L1492.6 869.5L1492.8 871.1L1493.1 872.7L1493.4 874.3L1493.6 876.0L1493.9 877.6L1494.1 879.2L1494.4 880.8L1494.6 882.4L1494.9 884.0L1495.1 885.6L1495.4 887.2L1495.6 888.7L1495.8 890.2L1496.1 891.7L1496.3 893.2L1496.5 894.6L1496.7 896.0L1496.9 897.6L1497.2 899.3L1497.4 900.9L1497.6 902.5L1497.9 904.1L1498.1 905.7L1498.3 907.2L1498.5 908.8L1498.7 910.3L1498.9 911.8L1499.1 913.3L1499.3 914.8L1499.4 916.3L1499.6 917.8L1499.8 919.3L1500.0 920.8L1500.2 922.2L1500.4 923.6L1500.5 925.1L1500.7 926.5L1500.9 927.9L1501.1 929.3L1501.3 930.7L1501.5 932.1L1501.7 933.5L1501.9 935.1L1502.2 936.7L1502.4 938.3L1502.7 939.9L1502.9 941.4L1503.2 943.0L1503.4 944.5L1503.7 946.0L1503.9 947.4L1504.2 948.9L1504.4 950.4L1504.7 951.8L1504.9 953.3L1505.2 954.8L1505.4 956.2L1505.6 957.7L1505.9 959.1L1506.1 960.6L1506.3 962.0L1506.6 963.5L1506.8 965.0L1507.0 966.6L1507.3 968.1L1507.5 969.6L1507.7 971.1L1507.9 972.6L1508.1 974.1L1508.3 975.6L1508.5 977.1L1508.7 978.6L1509.0 980.1L1509.2 981.6L1509.4 983.2L1509.6 984.7L1509.8 986.2L1510.0 987.8L1510.2 989.4L1510.4 991.0L1510.6 992.6L1510.8 994.3L1511.0 996.0L1511.2 997.4L1511.3 998.8L1511.5 1000.3L1511.7 1001.8L1511.9 1003.3L1512.1 1004.9L1512.2 1006.5L1512.4 1008.1L1512.6 1009.7L1512.8 1011.3L1513.0 1012.9L1513.1 1014.5L1513.3 1016.1L1513.5 1017.7L1513.7 1019.3L1513.8 1020.9L1514.0 1022.4L1514.2 1023.9L1514.4 1025.4L1514.5 1026.9L1514.7 1028.3L1514.8 1029.7L1515.0 1031.0L1515.2 1032.3L1515.3 1033.5L1515.5 1035.5L1515.8 1037.3L1515.9 1039.0L1516.1 1040.5L1516.3 1041.9L1516.4 1043.2L1516.6 1044.5L1516.8 1045.8L1516.9 1047.1L1517.1 1048.5L1517.4 1050.0L1517.6 1051.7L1517.9 1053.5L1518.3 1055.5L1518.5 1056.7L1518.8 1058.0L1519.0 1059.3L1519.2 1060.6L1519.5 1062.0L1519.8 1063.4L1520.0 1064.9L1520.3 1066.4L1520.6 1067.9L1520.9 1069.4L1521.2 1070.9L1521.6 1072.5L1521.9 1074.1L1522.2 1075.7L1522.5 1077.3L1522.9 1078.9L1523.2 1080.5L1523.5 1082.1L1523.9 1083.7L1524.2 1085.3L1524.6 1086.8L1524.9 1088.4L1525.3 1090.0L1525.6 1091.5L1526.0 1093.0L1526.4 1094.5L1526.7 1096.0L1527.1 1097.6L1527.5 1099.2L1527.8 1100.7L1528.2 1102.3L1528.6 1103.9L1529.0 1105.5L1529.4 1107.1L1529.8 1108.7L1530.2 1110.3L1530.6 1111.9L1531.0 1113.5L1531.5 1115.0L1531.9 1116.6L1532.3 1118.1L1532.7 1119.6L1533.1 1121.1L1533.5 1122.5L1533.9 1124.0L1534.4 1125.3L1534.8 1126.7L1535.2 1128.0L1535.6 1129.3L1536.0 1130.5L1536.6 1132.3L1537.3 1134.1L1537.9 1135.8L1538.5 1137.4L1539.1 1138.9L1539.7 1140.4L1540.4 1141.8L1541.0 1143.2L1541.6 1144.5L1542.2 1145.8L1542.9 1147.0L1543.5 1148.3L1544.2 1149.5L1544.9 1150.6L1545.6 1151.8L1546.3 1153.0L1547.2 1154.4L1548.1 1155.8L1549.0 1157.1L1550.0 1158.4L1550.9 1159.7L1551.9 1160.9L1552.8 1162.0L1553.8 1163.1L1554.8 1164.2L1555.9 1165.2L1556.9 1166.2L1557.9 1167.1L1559.0 1168.0L1560.3 1169.0L1561.6 1169.9L1562.9 1170.7L1564.2 1171.5L1565.5 1172.2L1566.9 1172.9L1568.3 1173.5L1569.7 1174.0L1571.1 1174.5L1572.5 1175.0L1574.0 1175.5L1575.3 1175.9L1576.5 1176.3L1577.5 1176.6L1578.5 1176.9L1579.5 1177.1L1580.6 1177.3L1582.0 1177.4L1583.7 1177.6L1585.8 1177.7L1588.4 1177.9L1591.5 1178.0L1592.4 1178.0L1593.4 1178.1L1594.2 1178.1L1595.0 1178.1L1595.8 1178.2L1596.6 1178.2L1597.4 1178.2L1598.1 1178.2L1598.9 1178.3L1599.6 1178.3L1600.4 1178.3L1601.2 1178.3L1601.9 1178.3L1602.8 1178.3L1603.6 1178.4L1604.5 1178.4L1605.4 1178.4L1606.4 1178.4L1607.5 1178.4L1608.6 1178.4L1609.8 1178.4L1611.0 1178.4L1612.4 1178.4L1613.8 1178.4L1615.3 1178.4L1616.9 1178.4L1618.7 1178.4L1620.5 1178.5L1622.5 1178.5L1624.6 1178.5L1626.8 1178.5L1629.1 1178.5L1631.6 1178.5L1634.3 1178.5L1637.1 1178.5L1640.1 1178.5L1643.2 1178.5L1646.5 1178.5L1650.0 1178.5L1651.0 1178.5L1652.0 1178.5L1653.0 1178.5L1654.0 1178.5L1655.1 1178.5L1656.1 1178.5L1657.3 1178.5L1658.4 1178.5L1659.5 1178.5L1660.7 1178.5L1661.9 1178.5L1663.1 1178.5L1664.4 1178.5L1665.6 1178.5L1666.9 1178.5L1668.2 1178.5L1669.5 1178.5L1670.9 1178.5L1672.2 1178.5L1673.6 1178.5L1675.0 1178.5L1676.4 1178.5L1677.8 1178.5L1679.3 1178.5L1680.7 1178.5L1682.2 1178.5L1683.7 1178.5L1685.2 1178.5L1686.7 1178.5L1688.3 1178.5L1689.8 1178.5L1691.4 1178.5L1693.0 1178.5L1694.6 1178.5L1696.2 1178.5L1697.8 1178.5L1699.4 1178.5L1701.1 1178.5L1702.7 1178.5L1704.4 1178.5L1706.1 1178.5L1707.7 1178.5L1709.4 1178.5L1711.1 1178.5L1712.9 1178.5L1714.6 1178.5L1716.3 1178.5L1718.1 1178.5L1719.8 1178.5L1721.6 1178.5L1723.3 1178.5L1725.1 1178.5L1726.9 1178.5L1728.7 1178.5L1730.5 1178.5L1732.3 1178.5L1734.1 1178.5L1735.9 1178.5L1737.7 1178.5L1739.5 1178.5L1741.3 1178.5L1743.1 1178.5L1744.9 1178.5L1746.8 1178.5L1748.6 1178.5L1750.4 1178.5L1752.3 1178.5L1754.1 1178.5L1755.9 1178.5L1757.7 1178.5L1759.6 1178.5L1761.4 1178.5L1763.2 1178.5L1765.1 1178.5L1766.9 1178.5L1768.7 1178.5L1770.5 1178.5L1772.4 1178.5L1774.2 1178.5L1776.0 1178.5L1777.8 1178.5L1779.6 1178.5L1781.4 1178.5L1783.2 1178.5L1785.0 1178.5L1786.8 1178.5L1788.6 1178.5L1790.4 1178.5L1792.1 1178.5L1793.9 1178.5L1795.6 1178.5L1797.4 1178.5L1799.1 1178.5L1800.9 1178.5L1802.6 1178.5L1804.3 1178.5L1806.0 1178.5L1807.7 1178.5L1809.4 1178.5L1811.0 1178.5L1812.7 1178.5L1814.4 1178.5L1816.0 1178.5L1817.6 1178.5L1819.2 1178.5L1820.8 1178.5L1822.4 1178.5L1824.0 1178.5L1825.6 1178.5L1827.1 1178.5L1828.6 1178.5L1830.1 1178.5L1831.6 1178.5L1833.1 1178.5L1834.6 1178.5L1836.1 1178.5L1837.5 1178.5L1838.9 1178.5L1840.3 1178.5L1841.7 1178.5L1843.1 1178.5L1844.4 1178.5L1845.7 1178.5L1847.0 1178.5L1848.3 1178.5L1849.6 1178.5L1850.9 1178.5L1852.1 1178.5L1853.3 1178.5L1854.5 1178.5L1855.6 1178.5L1856.8 1178.5L1857.9 1178.5L1859.0 1178.5L1860.1 1178.5L1861.1 1178.5L1862.1 1178.5L1863.1 1178.5L1864.1 1178.5L1865.1 1178.5L1866.0 1178.5L1866.9 1178.5L1867.8 1178.5L1868.6 1178.5L1869.4 1178.5L1870.2 1178.5L1871.0 1178.5" stroke="#002060" stroke-width="6.2"/>
<path d="M1155.2 1163.0L1156.1 1162.8L1157.1 1162.6L1158.3 1162.4L1159.6 1162.2L1161.0 1161.9L1162.5 1161.7L1164.1 1161.4L1165.7 1161.1L1167.4 1160.7L1169.2 1160.4L1170.9 1160.1L1172.7 1159.7L1174.4 1159.4L1176.2 1159.0L1177.8 1158.7L1179.5 1158.3L1181.0 1158.0L1182.5 1157.7L1184.0 1157.3L1185.5 1157.0L1186.9 1156.6L1188.4 1156.3L1189.9 1155.9L1191.3 1155.6L1192.8 1155.2L1194.3 1154.9L1195.7 1154.5L1197.2 1154.1L1198.7 1153.7L1200.1 1153.4L1201.6 1153.0L1203.1 1152.6L1204.5 1152.2L1206.0 1151.8L1207.5 1151.3L1208.9 1150.9L1210.4 1150.5L1211.9 1150.0L1213.4 1149.6L1214.8 1149.2L1216.3 1148.7L1217.8 1148.2L1219.2 1147.8L1220.7 1147.3L1222.2 1146.9L1223.6 1146.4L1225.1 1145.9L1226.6 1145.4L1228.1 1145.0L1229.5 1144.5L1231.0 1144.0L1232.5 1143.5L1234.0 1143.0L1235.5 1142.6L1237.0 1142.1L1238.5 1141.6L1240.0 1141.1L1241.5 1140.6L1243.1 1140.1L1244.6 1139.6L1246.1 1139.1L1247.5 1138.6L1249.0 1138.1L1250.5 1137.6L1251.9 1137.1L1253.3 1136.6L1254.7 1136.0L1256.0 1135.5L1257.6 1134.8L1259.1 1134.2L1260.7 1133.5L1262.2 1132.8L1263.6 1132.1L1265.1 1131.5L1266.5 1130.8L1267.9 1130.0L1269.2 1129.3L1270.6 1128.6L1272.0 1127.8L1273.3 1127.1L1274.7 1126.3L1276.0 1125.5L1277.3 1124.7L1278.6 1123.9L1279.9 1123.1L1281.2 1122.3L1282.4 1121.4L1283.7 1120.6L1284.9 1119.7L1286.1 1118.8L1287.4 1117.9L1288.6 1117.0L1289.8 1116.1L1291.0 1115.1L1292.3 1114.1L1293.5 1113.0L1294.6 1112.0L1295.7 1111.1L1296.8 1110.1L1297.9 1109.0L1299.0 1108.0L1300.1 1106.9L1301.2 1105.8L1302.2 1104.7L1303.3 1103.6L1304.4 1102.5L1305.5 1101.3L1306.6 1100.2L1307.7 1099.0L1308.8 1097.8L1309.9 1096.7L1311.0 1095.5L1312.0 1094.4L1313.1 1093.2L1314.1 1092.0L1315.2 1090.8L1316.2 1089.6L1317.3 1088.3L1318.3 1087.1L1319.4 1085.8L1320.4 1084.6L1321.5 1083.3L1322.5 1082.1L1323.5 1080.9L1324.6 1079.7L1325.6 1078.6L1326.6 1077.5L1327.5 1076.5L1328.5 1075.5L1329.7 1074.3L1331.0 1073.1L1332.2 1072.0L1333.4 1070.9L1334.6 1069.9L1335.7 1068.9L1336.9 1068.0L1338.0 1067.1L1339.2 1066.2L1340.3 1065.4L1341.4 1064.6L1342.4 1063.8L1343.5 1063.0L1345.0 1061.9L1346.4 1060.9L1347.8 1060.0L1349.1 1059.2L1350.4 1058.4L1351.7 1057.6L1353.1 1056.9L1354.5 1056.2L1356.0 1055.5L1357.4 1054.9L1358.9 1054.3L1360.4 1053.8L1361.9 1053.3L1363.5 1052.9L1365.1 1052.4L1366.6 1052.0L1368.1 1051.5L1369.6 1051.0L1371.0 1050.5L1372.5 1049.9L1373.9 1049.4L1375.4 1048.8L1376.7 1048.3L1378.1 1047.7L1379.4 1047.1L1380.8 1046.5L1382.1 1045.8L1383.5 1045.0L1384.8 1044.3L1386.0 1043.5L1387.3 1042.7L1388.6 1041.8L1389.9 1040.9L1391.2 1040.0L1392.4 1039.1L1393.7 1038.1L1394.9 1037.1L1396.0 1036.0L1397.1 1035.0L1398.1 1034.0L1399.1 1033.1L1400.1 1032.2L1401.0 1031.2L1401.9 1030.1L1402.9 1028.8L1403.9 1027.3L1404.9 1025.6L1406.0 1023.5L1406.5 1022.5L1407.0 1021.4L1407.5 1020.3L1408.0 1019.2L1408.5 1018.0L1409.0 1016.8L1409.6 1015.5L1410.1 1014.2L1410.6 1012.8L1411.2 1011.4L1411.7 1010.0L1412.3 1008.6L1412.8 1007.1L1413.4 1005.6L1413.9 1004.0L1414.5 1002.5L1415.1 1000.9L1415.6 999.3L1416.2 997.6L1416.8 996.0L1417.4 994.3L1417.9 992.7L1418.5 991.0L1418.9 989.7L1419.4 988.5L1419.8 987.2L1420.2 985.8L1420.7 984.5L1421.1 983.2L1421.5 981.8L1422.0 980.4L1422.4 979.0L1422.9 977.6L1423.3 976.2L1423.8 974.7L1424.2 973.3L1424.7 971.8L1425.1 970.3L1425.6 968.9L1426.1 967.4L1426.5 965.9L1427.0 964.4L1427.4 962.8L1427.9 961.3L1428.4 959.8L1428.8 958.3L1429.3 956.7L1429.7 955.2L1430.2 953.7L1430.7 952.1L1431.1 950.6L1431.6 949.1L1432.0 947.5L1432.5 946.0L1432.9 944.6L1433.3 943.2L1433.8 941.8L1434.2 940.3L1434.6 938.9L1435.1 937.4L1435.5 935.9L1435.9 934.5L1436.4 933.0L1436.8 931.5L1437.2 930.0L1437.7 928.5L1438.1 927.0L1438.6 925.5L1439.0 924.0L1439.4 922.5L1439.9 921.0L1440.3 919.5L1440.7 918.0L1441.2 916.5L1441.6 915.0L1442.0 913.5L1442.5 912.0L1442.9 910.5L1443.3 909.0L1443.7 907.5L1444.2 906.1L1444.6 904.6L1445.0 903.1L1445.4 901.7L1445.8 900.2L1446.2 898.8L1446.6 897.4L1447.0 896.0L1447.4 894.5L1447.9 892.9L1448.3 891.4L1448.7 889.8L1449.1 888.2L1449.5 886.7L1449.9 885.1L1450.4 883.5L1450.8 882.0L1451.2 880.4L1451.6 878.9L1452.0 877.3L1452.4 875.8L1452.8 874.2L1453.2 872.7L1453.6 871.2L1454.0 869.7L1454.3 868.2L1454.7 866.7L1455.1 865.3L1455.5 863.9L1455.8 862.5L1456.2 861.1L1456.6 859.7L1456.9 858.4L1457.3 857.1L1457.6 855.8L1458.0 854.5L1458.3 853.3L1458.7 852.1L1459.0 851.0L1459.6 849.0L1460.2 847.0L1460.7 845.2L1461.3 843.3L1461.8 841.6L1462.3 839.9L1462.8 838.3L1463.3 836.8L1463.8 835.4L1464.3 834.0L1464.8 832.6L1465.3 831.4L1465.7 830.2L1466.2 829.0L1466.6 828.0L1467.1 826.9L1467.5 826.0L1468.7 823.7L1469.8 822.1L1470.8 820.9L1471.9 820.2L1472.9 819.9L1474.0 819.8L1475.1 819.9L1476.3 820.2L1477.4 820.9L1478.6 822.1L1479.8 823.7L1481.0 826.0L1481.4 826.9L1481.9 828.0L1482.3 829.0L1482.7 830.2L1483.2 831.4L1483.6 832.6L1484.1 834.0L1484.5 835.4L1484.9 836.8L1485.4 838.3L1485.8 839.9L1486.3 841.6L1486.7 843.3L1487.2 845.2L1487.6 847.0L1488.1 849.0L1488.5 851.0L1488.8 852.2L1489.0 853.4L1489.3 854.7L1489.5 856.1L1489.8 857.4L1490.0 858.8L1490.3 860.3L1490.6 861.8L1490.8 863.3L1491.1 864.8L1491.4 866.3L1491.6 867.9L1491.9 869.5L1492.1 871.1L1492.4 872.7L1492.7 874.3L1492.9 876.0L1493.2 877.6L1493.4 879.2L1493.7 880.8L1493.9 882.4L1494.2 884.0L1494.4 885.6L1494.7 887.2L1494.9 888.7L1495.1 890.2L1495.4 891.7L1495.6 893.2L1495.8 894.6L1496.0 896.0L1496.2 897.6L1496.5 899.3L1496.7 900.9L1496.9 902.5L1497.2 904.1L1497.4 905.7L1497.6 907.2L1497.8 908.8L1498.0 910.3L1498.2 911.8L1498.4 913.3L1498.6 914.8L1498.7 916.3L1498.9 917.8L1499.1 919.3L1499.3 920.8L1499.5 922.2L1499.7 923.6L1499.9 925.1L1500.0 926.5L1500.2 927.9L1500.4 929.3L1500.6 930.7L1500.8 932.1L1501.0 933.5L1501.2 935.1L1501.5 936.7L1501.7 938.3L1502.0 939.9L1502.2 941.4L1502.5 943.0L1502.7 944.5L1503.0 946.0L1503.2 947.4L1503.5 948.9L1503.7 950.4L1503.9 951.8L1504.2 953.3L1504.4 954.8L1504.7 956.2L1504.9 957.7L1505.1 959.1L1505.4 960.6L1505.6 962.0L1505.8 963.5L1506.0 965.0L1506.2 966.6L1506.4 968.1L1506.6 969.6L1506.8 971.1L1507.0 972.6L1507.2 974.1L1507.4 975.6L1507.6 977.1L1507.8 978.6L1508.0 980.1L1508.1 981.6L1508.3 983.2L1508.5 984.7L1508.7 986.2L1508.8 987.8L1509.0 989.4L1509.2 991.0L1509.4 992.6L1509.6 994.3L1509.8 996.0L1509.9 997.4L1510.1 998.8L1510.2 1000.3L1510.4 1001.8L1510.5 1003.3L1510.7 1004.9L1510.8 1006.5L1511.0 1008.1L1511.2 1009.7L1511.3 1011.3L1511.5 1012.9L1511.6 1014.5L1511.8 1016.1L1511.9 1017.7L1512.1 1019.3L1512.2 1020.9L1512.4 1022.4L1512.5 1023.9L1512.7 1025.4L1512.8 1026.9L1513.0 1028.3L1513.1 1029.7L1513.2 1031.0L1513.4 1032.3L1513.5 1033.5L1513.7 1035.5L1513.9 1037.3L1514.0 1039.0L1514.2 1040.5L1514.3 1041.9L1514.4 1043.2L1514.5 1044.5L1514.6 1045.8L1514.8 1047.1L1515.0 1048.5L1515.2 1050.0L1515.4 1051.7L1515.7 1053.5L1516.0 1055.5L1516.2 1056.7L1516.4 1058.0L1516.7 1059.3L1516.9 1060.6L1517.1 1062.0L1517.4 1063.4L1517.7 1064.9L1517.9 1066.4L1518.2 1067.9L1518.5 1069.4L1518.8 1070.9L1519.1 1072.5L1519.4 1074.1L1519.8 1075.7L1520.1 1077.3L1520.4 1078.9L1520.7 1080.5L1521.1 1082.1L1521.4 1083.7L1521.8 1085.3L1522.1 1086.8L1522.5 1088.4L1522.8 1090.0L1523.2 1091.5L1523.5 1093.0L1523.9 1094.5L1524.2 1096.0L1524.6 1097.6L1525.0 1099.2L1525.3 1100.7L1525.7 1102.3L1526.1 1103.9L1526.5 1105.5L1526.9 1107.1L1527.3 1108.7L1527.7 1110.3L1528.1 1111.9L1528.6 1113.5L1529.0 1115.0L1529.4 1116.6L1529.8 1118.1L1530.2 1119.6L1530.6 1121.1L1531.0 1122.5L1531.5 1124.0L1531.9 1125.3L1532.3 1126.7L1532.7 1128.0L1533.1 1129.3L1533.5 1130.5L1534.1 1132.3L1534.7 1134.1L1535.3 1135.8L1535.9 1137.4L1536.5 1138.9L1537.1 1140.4L1537.7 1141.8L1538.3 1143.2L1539.0 1144.5L1539.6 1145.8L1540.2 1147.0L1540.8 1148.3L1541.5 1149.5L1542.1 1150.6L1542.8 1151.8L1543.5 1153.0L1544.4 1154.4L1545.3 1155.8L1546.2 1157.1L1547.1 1158.4L1548.0 1159.7L1549.0 1160.9L1549.9 1162.0L1550.9 1163.1L1551.9 1164.2L1552.9 1165.2L1553.9 1166.2L1554.9 1167.1L1556.0 1168.0L1557.3 1169.0L1558.5 1169.9L1559.8 1170.7L1561.2 1171.5L1562.5 1172.2L1563.9 1172.9L1565.3 1173.5L1566.7 1174.0L1568.1 1174.5L1569.5 1175.0L1571.0 1175.5L1572.3 1175.9L1573.4 1176.3L1574.4 1176.6L1575.3 1176.9L1576.3 1177.1L1577.4 1177.3L1578.8 1177.4L1580.5 1177.6L1582.6 1177.7L1585.2 1177.9L1588.5 1178.0L1589.4 1178.0L1590.3 1178.1L1591.2 1178.1L1592.1 1178.1L1592.9 1178.2L1593.7 1178.2L1594.5 1178.2L1595.3 1178.2L1596.1 1178.3L1596.8 1178.3L1597.6 1178.3L1598.4 1178.3L1599.3 1178.3L1600.1 1178.3L1601.0 1178.4L1601.9 1178.4L1602.8 1178.4L1603.8 1178.4L1604.9 1178.4L1606.0 1178.4L1607.1 1178.4L1608.3 1178.4L1609.6 1178.4L1611.0 1178.4L1612.4 1178.4L1613.9 1178.4L1615.5 1178.4L1617.2 1178.4L1619.0 1178.5L1620.9 1178.5L1622.9 1178.5L1625.0 1178.5L1627.2 1178.5L1629.6 1178.5L1632.1 1178.5L1634.7 1178.5L1637.5 1178.5L1640.4 1178.5L1643.4 1178.5L1646.6 1178.5L1650.0 1178.5L1651.0 1178.5L1652.0 1178.5L1653.0 1178.5L1654.0 1178.5L1655.1 1178.5L1656.2 1178.5L1657.3 1178.5L1658.5 1178.5L1659.6 1178.5L1660.8 1178.5L1662.0 1178.5L1663.2 1178.5L1664.5 1178.5L1665.7 1178.5L1667.0 1178.5L1668.3 1178.5L1669.7 1178.5L1671.0 1178.5L1672.4 1178.5L1673.7 1178.5L1675.1 1178.5L1676.5 1178.5L1678.0 1178.5L1679.4 1178.5L1680.9 1178.5L1682.4 1178.5L1683.9 1178.5L1685.4 1178.5L1686.9 1178.5L1688.5 1178.5L1690.0 1178.5L1691.6 1178.5L1693.2 1178.5L1694.8 1178.5L1696.4 1178.5L1698.0 1178.5L1699.6 1178.5L1701.3 1178.5L1702.9 1178.5L1704.6 1178.5L1706.3 1178.5L1708.0 1178.5L1709.7 1178.5L1711.4 1178.5L1713.1 1178.5L1714.8 1178.5L1716.5 1178.5L1718.3 1178.5L1720.0 1178.5L1721.8 1178.5L1723.6 1178.5L1725.3 1178.5L1727.1 1178.5L1728.9 1178.5L1730.7 1178.5L1732.5 1178.5L1734.3 1178.5L1736.1 1178.5L1737.9 1178.5L1739.7 1178.5L1741.5 1178.5L1743.3 1178.5L1745.2 1178.5L1747.0 1178.5L1748.8 1178.5L1750.6 1178.5L1752.5 1178.5L1754.3 1178.5L1756.1 1178.5L1757.9 1178.5L1759.8 1178.5L1761.6 1178.5L1763.4 1178.5L1765.3 1178.5L1767.1 1178.5L1768.9 1178.5L1770.7 1178.5L1772.5 1178.5L1774.4 1178.5L1776.2 1178.5L1778.0 1178.5L1779.8 1178.5L1781.6 1178.5L1783.4 1178.5L1785.2 1178.5L1787.0 1178.5L1788.7 1178.5L1790.5 1178.5L1792.3 1178.5L1794.0 1178.5L1795.8 1178.5L1797.5 1178.5L1799.3 1178.5L1801.0 1178.5L1802.7 1178.5L1804.4 1178.5L1806.1 1178.5L1807.8 1178.5L1809.5 1178.5L1811.1 1178.5L1812.8 1178.5L1814.4 1178.5L1816.1 1178.5L1817.7 1178.5L1819.3 1178.5L1820.9 1178.5L1822.5 1178.5L1824.1 1178.5L1825.6 1178.5L1827.2 1178.5L1828.7 1178.5L1830.2 1178.5L1831.7 1178.5L1833.2 1178.5L1834.7 1178.5L1836.1 1178.5L1837.5 1178.5L1839.0 1178.5L1840.4 1178.5L1841.7 1178.5L1843.1 1178.5L1844.4 1178.5L1845.8 1178.5L1847.1 1178.5L1848.4 1178.5L1849.6 1178.5L1850.9 1178.5L1852.1 1178.5L1853.3 1178.5L1854.5 1178.5L1855.7 1178.5L1856.8 1178.5L1857.9 1178.5L1859.0 1178.5L1860.1 1178.5L1861.1 1178.5L1862.2 1178.5L1863.2 1178.5L1864.1 1178.5L1865.1 1178.5L1866.0 1178.5L1866.9 1178.5L1867.8 1178.5L1868.6 1178.5L1869.4 1178.5L1870.2 1178.5L1871.0 1178.5" stroke="#00B050" stroke-width="6.2"/>
<path d="M1155.6 1093.8L1156.2 1093.5L1157.0 1092.5L1157.9 1091.6L1159.0 1090.4L1160.1 1089.3L1161.3 1088.7L1162.5 1087.4L1163.8 1086.1L1165.0 1084.7L1166.2 1083.3L1167.4 1082.9L1168.5 1081.1L1169.6 1079.7L1170.6 1079.3L1171.7 1077.6L1172.7 1076.0L1173.7 1075.0L1174.8 1073.8L1175.8 1072.7L1176.8 1071.8L1177.9 1070.6L1178.9 1069.0L1180.0 1068.3L1181.0 1066.9L1182.0 1065.4L1183.1 1064.5L1184.1 1063.2L1185.2 1062.5L1186.2 1060.7L1187.2 1059.7L1188.3 1058.9L1189.3 1057.3L1190.4 1056.3L1191.4 1054.9L1192.5 1053.5L1193.5 1052.1L1194.4 1050.6L1195.3 1050.5L1196.2 1049.4L1197.1 1048.2L1198.0 1047.8L1198.8 1046.6L1199.7 1044.7L1200.6 1043.6L1201.6 1042.5L1202.6 1041.4L1203.7 1039.9L1204.8 1038.3L1206.0 1036.8L1206.7 1035.9L1207.5 1034.9L1208.3 1033.7L1209.1 1033.1L1209.9 1031.9L1210.8 1030.9L1211.6 1029.6L1212.5 1027.6L1213.4 1026.3L1214.3 1025.1L1215.2 1023.2L1216.2 1022.3L1217.1 1021.8L1218.0 1020.3L1219.0 1017.9L1219.9 1017.1L1220.8 1015.7L1221.8 1014.1L1222.7 1013.4L1223.6 1012.2L1224.5 1010.8L1225.3 1009.0L1226.2 1007.8L1227.0 1006.4L1227.9 1005.3L1228.7 1004.1L1229.6 1002.8L1230.4 1001.9L1231.2 1000.0L1232.0 998.5L1232.9 997.1L1233.7 996.0L1234.5 995.1L1235.3 993.4L1236.1 992.4L1236.9 991.2L1237.7 989.2L1238.5 988.8L1239.3 988.0L1240.1 985.9L1241.0 984.7L1241.8 983.9L1242.6 982.4L1243.4 980.8L1244.2 979.4L1245.0 977.8L1245.9 976.3L1246.7 975.4L1247.6 974.3L1248.4 972.8L1249.3 971.5L1250.1 970.2L1251.0 969.1L1251.8 967.8L1252.7 966.0L1253.5 964.8L1254.4 963.8L1255.2 962.0L1256.1 960.4L1256.9 959.6L1257.7 958.7L1258.6 957.4L1259.4 956.4L1260.3 954.4L1261.1 952.7L1261.9 952.4L1262.8 951.3L1263.6 949.5L1264.4 948.3L1265.2 947.1L1266.0 945.8L1266.7 944.5L1267.5 942.9L1268.3 941.6L1269.1 940.8L1269.9 939.2L1270.6 937.3L1271.4 936.1L1272.2 934.5L1272.9 932.9L1273.7 932.6L1274.5 931.7L1275.3 929.5L1276.0 928.0L1276.8 927.0L1277.6 926.1L1278.4 924.7L1279.1 923.9L1279.9 922.4L1280.7 920.8L1281.5 919.8L1282.3 918.4L1283.1 916.5L1283.8 915.5L1284.6 914.6L1285.4 912.9L1286.1 911.1L1286.9 910.0L1287.7 909.6L1288.4 908.4L1289.2 906.8L1290.0 905.0L1290.8 903.9L1291.5 903.0L1292.3 901.6L1293.1 900.0L1293.9 898.8L1294.8 897.6L1295.6 895.9L1296.4 894.8L1297.3 893.6L1298.2 892.6L1299.1 891.0L1300.0 888.9L1300.9 888.3L1301.8 887.3L1302.7 886.0L1303.6 884.7L1304.6 883.4L1305.6 882.5L1306.6 881.6L1307.6 880.2L1308.6 878.8L1309.6 876.9L1310.7 875.2L1311.7 874.0L1312.7 873.1L1313.7 871.6L1314.8 870.0L1315.8 869.4L1316.8 868.8L1317.8 867.1L1318.7 866.3L1319.7 865.6L1320.6 863.7L1321.5 862.5L1322.4 862.0L1323.2 860.9L1324.0 859.6L1325.3 858.3L1326.6 857.5L1327.7 855.7L1328.8 854.3L1329.8 853.0L1330.7 851.8L1331.7 851.6L1332.6 851.1L1333.6 849.6L1334.6 848.5L1335.6 847.9L1336.7 847.1L1338.0 846.5L1339.3 845.5L1340.4 843.5L1341.6 842.2L1342.8 842.1L1344.1 841.3L1345.5 840.7L1346.8 840.0L1348.2 839.1L1349.6 838.6L1351.0 837.4L1352.5 835.7L1353.9 834.9L1355.3 834.5L1356.7 833.5L1358.0 832.4L1359.3 832.5L1360.6 831.4L1361.8 830.6L1363.0 830.5L1364.7 829.3L1366.3 828.0L1367.9 827.4L1369.4 827.3L1370.8 826.6L1372.3 826.1L1373.6 825.0L1375.0 824.7L1376.3 824.2L1377.6 823.3L1378.8 822.9L1380.0 822.5L1381.9 822.3L1383.7 822.0L1385.3 821.5L1386.8 821.9L1388.3 821.9L1389.9 821.6L1391.5 821.6L1393.0 821.4L1394.6 821.5L1396.1 821.9L1397.7 822.2L1399.3 822.3L1400.9 822.3L1402.5 822.8L1404.0 823.3L1405.3 823.2L1406.7 824.1L1408.0 824.4L1409.3 824.6L1410.6 825.5L1411.9 826.5L1413.3 827.7L1414.6 828.5L1416.0 829.9L1416.9 830.9L1417.8 831.3L1418.7 832.1L1419.6 833.3L1420.5 834.8L1421.4 836.4L1422.3 837.3L1423.2 838.2L1424.2 839.9L1425.1 841.7L1426.1 843.0L1427.0 844.6L1428.0 846.2L1429.0 847.8L1429.6 848.7L1430.2 850.0L1430.9 851.3L1431.5 851.8L1432.2 853.5L1432.8 855.3L1433.5 856.6L1434.2 857.9L1434.9 859.2L1435.5 860.7L1436.2 862.6L1436.9 863.4L1437.6 864.7L1438.3 866.5L1438.9 867.8L1439.6 868.8L1440.3 870.3L1440.9 872.7L1441.5 874.5L1442.2 875.4L1442.8 876.9L1443.4 878.5L1444.0 880.0L1444.5 881.6L1445.1 882.6L1445.6 883.7L1446.1 885.1L1446.6 886.8L1447.1 888.3L1447.6 890.1L1448.1 891.7L1448.6 892.9L1449.1 894.8L1449.6 896.3L1450.1 897.5L1450.5 898.6L1451.0 899.9L1451.5 901.6L1452.0 903.3L1452.4 904.1L1452.9 906.2L1453.3 907.6L1453.8 909.1L1454.2 910.4L1454.7 911.4L1455.1 913.2L1455.6 914.9L1456.0 916.6L1456.5 918.0L1456.9 919.2L1457.4 920.8L1457.8 922.6L1458.3 923.7L1458.7 924.9L1459.1 926.0L1459.6 927.8L1460.0 929.4L1460.4 930.2L1460.9 931.8L1461.3 933.5L1461.7 934.9L1462.1 936.2L1462.5 937.9L1462.9 939.1L1463.3 940.9L1463.7 942.6L1464.1 943.8L1464.5 945.4L1464.9 946.8L1465.3 948.8L1465.6 949.7L1466.0 950.5L1466.4 952.4L1466.8 954.4L1467.1 955.9L1467.5 957.2L1467.9 958.4L1468.2 960.5L1468.6 961.8L1468.9 963.3L1469.2 964.5L1469.6 965.1L1469.9 967.1L1470.2 968.5L1470.6 970.0L1470.9 972.2L1471.2 974.0L1471.5 975.0L1471.8 976.2L1472.2 977.0L1472.5 978.7L1472.8 980.3L1473.2 981.4L1473.5 983.6L1473.8 985.5L1474.2 986.8L1474.5 988.0L1474.9 989.0L1475.2 990.3L1475.6 992.5L1475.9 994.2L1476.3 995.6L1476.6 997.3L1477.0 998.8L1477.3 1000.1L1477.7 1001.9L1478.0 1003.3L1478.4 1004.7L1478.7 1005.6L1479.1 1007.0L1479.4 1009.3L1479.7 1010.4L1480.1 1011.8L1480.4 1012.9L1480.7 1014.6L1481.0 1016.3L1481.4 1017.7L1481.7 1018.8L1482.1 1020.3L1482.4 1021.9L1482.8 1023.6L1483.1 1025.3L1483.4 1026.7L1483.7 1028.2L1484.1 1029.9L1484.4 1030.8L1484.7 1032.1L1485.0 1034.4L1485.3 1035.5L1485.7 1037.1L1486.0 1038.5L1486.3 1039.3L1486.7 1041.2L1487.0 1043.2L1487.3 1044.4L1487.6 1045.7L1487.9 1047.2L1488.2 1048.8L1488.4 1050.5L1488.7 1051.4L1489.0 1053.2L1489.3 1055.0L1489.6 1056.5L1489.9 1058.0L1490.2 1059.5L1490.5 1060.7L1490.8 1062.3L1491.1 1063.4L1491.4 1065.3L1491.7 1067.0L1492.0 1069.0L1492.3 1070.3L1492.6 1071.1L1492.9 1072.4L1493.2 1074.5L1493.5 1075.2L1493.9 1076.7L1494.3 1079.1L1494.8 1081.0L1495.2 1082.7L1495.6 1084.1L1496.0 1085.7L1496.4 1086.7L1496.8 1088.1L1497.3 1089.7L1497.7 1091.1L1498.1 1092.5L1498.5 1094.2L1498.9 1095.3L1499.3 1096.7L1499.8 1098.3L1500.3 1099.5L1500.8 1100.7L1501.3 1102.3L1501.8 1104.3L1502.3 1106.1L1502.8 1107.2L1503.3 1108.5L1503.8 1109.9L1504.3 1111.6L1504.9 1112.8L1505.4 1114.0L1506.0 1115.2L1506.6 1117.3L1507.3 1119.0L1507.9 1120.2L1508.5 1121.1L1509.2 1122.5L1509.9 1124.0L1510.5 1125.1L1511.2 1126.4L1512.0 1127.3L1512.7 1128.6L1513.5 1130.7L1514.2 1131.2L1514.9 1132.8L1515.6 1134.8L1516.3 1136.3L1517.1 1137.6L1517.8 1138.7L1518.6 1139.8L1519.4 1141.7L1520.2 1143.6L1521.0 1144.6L1521.8 1145.1L1522.6 1146.2L1523.5 1148.1L1524.5 1149.7L1525.6 1150.6L1526.7 1151.7L1527.8 1152.6L1528.9 1153.8L1530.0 1154.9L1531.2 1155.6L1532.3 1156.3L1533.5 1157.4L1534.8 1158.2L1536.0 1158.8L1537.4 1159.7L1538.7 1161.1L1540.0 1161.1L1541.3 1161.1L1542.7 1162.1L1544.2 1162.4L1545.7 1163.2L1547.3 1164.0L1549.1 1164.5L1551.0 1165.8L1552.3 1166.2L1553.6 1165.8L1555.0 1165.9L1556.4 1166.3L1557.9 1166.6L1559.4 1167.0L1561.0 1167.4L1562.6 1167.7L1564.2 1167.7L1565.8 1167.5L1567.5 1167.9L1569.2 1167.9L1570.9 1168.2L1572.6 1168.5L1574.3 1168.6L1576.0 1169.1L1577.4 1169.2L1578.7 1169.3L1580.0 1169.7L1581.4 1169.8L1582.7 1169.5L1584.0 1169.5L1585.3 1169.9L1586.7 1170.1L1588.0 1170.4L1589.4 1170.7L1590.9 1170.6L1592.3 1170.7L1593.8 1170.8L1595.4 1171.0L1597.0 1171.0L1598.6 1171.1L1600.4 1171.3L1602.2 1171.7L1604.0 1171.6L1606.0 1171.5L1607.2 1171.6L1608.5 1171.6L1609.8 1171.5L1611.1 1171.7L1612.5 1171.8L1613.9 1172.1L1615.3 1172.4L1616.7 1172.6L1618.2 1172.8L1619.7 1172.7L1621.2 1172.4L1622.7 1172.5L1624.2 1172.6L1625.8 1172.9L1627.4 1172.9L1629.0 1172.8L1630.5 1172.8L1632.1 1173.3L1633.8 1173.2L1635.4 1173.3L1637.0 1173.7L1638.6 1173.8L1640.2 1173.4L1641.8 1173.4L1643.4 1173.8L1645.0 1173.4L1646.6 1173.3L1648.2 1173.8L1649.8 1173.8L1651.4 1174.1L1652.9 1173.9L1654.5 1173.7L1656.0 1173.9L1657.5 1174.2L1659.0 1174.0L1660.5 1174.1L1662.1 1174.1L1663.6 1174.2L1665.1 1174.1L1666.6 1174.3L1668.1 1174.3L1669.6 1174.8L1671.2 1174.9L1672.7 1174.7L1674.2 1174.6L1675.7 1174.4L1677.2 1174.4L1678.7 1174.6L1680.2 1174.3L1681.8 1174.7L1683.3 1175.3L1684.8 1175.0L1686.3 1174.7L1687.8 1174.7L1689.3 1174.8L1690.8 1175.0L1692.4 1175.2L1693.9 1175.1L1695.4 1175.0L1696.9 1175.1L1698.4 1175.0L1699.9 1175.2L1701.5 1175.7L1703.0 1175.7L1704.5 1175.4L1706.0 1175.3L1707.5 1175.6L1709.0 1175.6L1710.5 1175.5L1712.1 1175.6L1713.6 1176.0L1715.1 1175.9L1716.6 1175.6L1718.1 1176.2L1719.6 1176.3L1721.2 1176.0L1722.7 1176.2L1724.2 1176.3L1725.7 1176.1L1727.2 1176.2L1728.7 1176.4L1730.2 1176.5L1731.8 1176.1L1733.3 1176.0L1734.8 1176.3L1736.3 1176.4L1737.8 1176.7L1739.3 1176.5L1740.8 1177.0L1742.4 1176.9L1743.9 1176.8L1745.4 1176.5L1746.9 1176.4L1748.4 1176.9L1749.9 1176.9L1751.5 1176.6L1753.0 1176.6L1754.5 1176.3L1756.0 1176.7L1757.5 1177.1L1759.0 1176.7L1760.5 1176.9L1762.0 1177.1L1763.4 1177.1L1764.9 1176.9L1766.3 1177.4L1767.8 1177.6L1769.2 1177.1L1770.7 1177.1L1772.1 1177.4L1773.6 1177.4L1775.0 1176.9L1776.4 1177.0L1777.9 1177.1L1779.3 1176.9L1780.8 1176.9L1782.3 1177.3L1783.7 1177.7L1785.2 1177.5L1786.7 1177.4L1788.2 1177.4L1789.7 1177.4L1791.3 1177.1L1792.8 1177.2L1794.4 1177.3L1796.0 1177.2L1797.6 1177.3L1799.2 1177.3L1800.9 1177.4L1802.6 1177.3L1804.3 1177.4L1806.0 1176.9L1807.4 1177.4L1808.8 1177.4L1810.2 1177.1L1811.7 1177.3L1813.3 1177.4L1814.8 1177.3L1816.4 1177.2L1818.1 1177.5L1819.7 1177.6L1821.4 1177.6L1823.1 1177.6L1824.9 1177.5L1826.6 1177.4L1828.4 1177.8L1830.1 1177.7L1831.9 1177.6L1833.7 1177.6L1835.5 1177.7L1837.2 1178.0L1839.0 1178.1L1840.8 1177.7L1842.5 1177.5L1844.2 1177.6L1845.9 1177.8L1847.6 1177.5L1849.3 1177.5L1850.9 1177.9L1852.5 1177.9L1854.1 1177.8L1855.7 1177.7L1857.2 1177.9L1858.6 1177.9L1860.0 1177.7L1861.4 1178.1L1862.7 1178.2L1864.0 1177.8L1865.2 1177.8L1866.3 1178.1L1867.4 1178.0L1868.4 1177.8L1869.3 1177.6L1870.2 1178.1L1871.0 1178.0" stroke="#C00000" stroke-width="6.2"/>
<path d="M1439.0 1144.2L1439.8 1143.8L1440.8 1143.2L1442.2 1142.5L1443.6 1141.8L1445.0 1140.9L1446.4 1139.7L1447.7 1138.2L1448.4 1137.5L1449.1 1136.4L1449.8 1135.2L1450.5 1134.1L1451.2 1132.8L1451.9 1131.5L1452.5 1130.0L1453.2 1128.3L1453.9 1126.7L1454.5 1125.1L1455.2 1123.5L1455.6 1122.2L1456.1 1120.9L1456.5 1119.6L1457.0 1118.1L1457.4 1116.6L1457.9 1115.1L1458.4 1113.8L1458.8 1112.3L1459.3 1110.6L1459.7 1108.9L1460.1 1107.2L1460.6 1105.7L1461.0 1104.3L1461.5 1102.9L1461.9 1101.5L1462.3 1099.9L1462.7 1098.4L1463.1 1097.0L1463.5 1095.2L1463.9 1093.7L1464.2 1092.5L1464.6 1091.0L1464.9 1089.6L1465.3 1088.0L1465.6 1086.5L1466.0 1085.1L1466.3 1083.7L1466.7 1082.1L1467.0 1080.7L1467.4 1079.2L1467.8 1077.8L1468.2 1076.3L1468.5 1074.6L1469.0 1072.9L1469.4 1071.8L1469.8 1070.5L1470.3 1068.9L1470.8 1067.2L1471.2 1065.6L1471.7 1064.0L1472.2 1062.6L1472.7 1061.1L1473.2 1059.5L1473.7 1057.8L1474.2 1056.3L1474.7 1055.1L1475.1 1053.5L1475.6 1052.1L1476.0 1051.0L1476.3 1049.6L1476.7 1048.5L1477.2 1046.5L1477.6 1044.6L1478.0 1043.0L1478.4 1041.7L1478.7 1040.5L1479.0 1039.0L1479.3 1037.4L1479.5 1036.1L1479.8 1034.8L1480.1 1032.9L1480.5 1031.1L1480.7 1029.9L1481.0 1028.6L1481.2 1027.2L1481.5 1025.9L1481.7 1024.4L1482.0 1022.8L1482.2 1021.3L1482.5 1019.9L1482.7 1018.1L1483.0 1016.4L1483.2 1015.0L1483.5 1013.6L1483.7 1012.1L1484.0 1010.3L1484.2 1008.7L1484.4 1007.3L1484.7 1006.0L1484.9 1004.7L1485.1 1002.6L1485.3 1001.0L1485.6 999.6L1485.8 998.1L1486.0 996.6L1486.2 995.2L1486.5 993.5L1486.7 991.9L1486.9 990.3L1487.2 988.6L1487.4 987.3L1487.7 985.6L1488.0 983.7L1488.2 982.3L1488.5 981.1L1488.7 979.4L1489.0 977.9L1489.3 976.4L1489.6 974.7L1489.9 973.3L1490.2 971.6L1490.5 970.0L1490.7 968.5L1491.0 966.9L1491.3 965.5L1491.6 964.0L1491.9 962.2L1492.2 960.9L1492.4 959.4L1492.7 957.9L1493.0 956.5L1493.2 954.9L1493.5 953.3L1493.7 951.6L1494.0 949.9L1494.2 948.1L1494.4 946.5L1494.7 945.2L1494.9 943.9L1495.1 942.3L1495.3 940.7L1495.6 939.1L1495.8 937.4L1496.0 935.8L1496.2 934.2L1496.5 932.7L1496.7 931.0L1496.9 929.5L1497.2 928.1L1497.4 926.8L1497.6 925.2L1497.9 923.5L1498.1 922.0L1498.3 920.5L1498.6 918.9L1498.8 917.4L1499.0 915.7L1499.3 914.1L1499.5 912.6L1499.7 910.7L1500.0 909.2L1500.2 907.8L1500.5 906.2L1500.7 904.6L1500.9 902.9L1501.2 901.2L1501.4 899.7L1501.7 898.1L1501.9 896.2L1502.2 895.0L1502.4 893.5L1502.6 891.5L1502.9 889.8L1503.1 888.4L1503.4 886.9L1503.6 885.6L1503.8 884.2L1504.0 882.7L1504.2 881.4L1504.5 879.3L1504.7 877.7L1505.0 876.4L1505.2 875.1L1505.4 873.8L1505.6 872.3L1505.8 871.0L1506.1 869.7L1506.4 868.1L1506.7 866.3L1507.0 864.9L1507.3 863.5L1507.7 862.1L1508.0 860.7L1508.4 858.9L1508.8 857.5L1509.2 855.8L1509.6 853.9L1510.0 852.2L1510.4 850.7L1510.8 849.1L1511.3 847.9L1511.7 846.5L1512.2 844.7L1512.7 842.9L1513.1 841.3L1513.6 839.6L1514.2 838.2L1514.7 837.0L1515.2 835.3L1515.7 833.9L1516.3 832.8L1516.8 831.4L1517.4 829.9L1518.0 828.8L1519.0 827.1L1520.0 825.6L1521.1 824.2L1522.2 823.3L1523.3 822.4L1524.4 821.6L1525.5 821.1L1527.0 820.9L1528.5 821.0L1530.0 821.6L1531.5 822.6L1533.0 823.7L1533.7 825.0L1534.4 826.2L1535.1 827.2L1535.8 828.3L1536.5 829.4L1537.2 831.2L1537.8 833.1L1538.5 834.9L1539.2 836.3L1539.7 837.4L1540.2 838.7L1540.6 840.3L1541.1 841.5L1541.6 843.1L1542.1 844.7L1542.6 846.4L1543.0 848.1L1543.5 849.8L1544.0 851.3L1544.5 852.9L1545.0 854.5L1545.5 856.1L1545.8 857.6L1546.2 858.9L1546.6 860.5L1546.9 861.8L1547.3 863.4L1547.7 864.7L1548.0 866.2L1548.4 867.5L1548.8 869.0L1549.1 870.6L1549.5 872.1L1549.9 873.7L1550.2 875.1L1550.6 876.4L1551.0 877.9L1551.3 879.5L1551.7 881.1L1552.0 882.7L1552.4 884.1L1552.7 885.5L1553.1 887.1L1553.4 888.8L1553.8 890.2L1554.1 891.7L1554.5 893.3L1554.8 894.8L1555.2 896.4L1555.5 898.0L1555.9 899.5L1556.2 901.1L1556.6 902.7L1556.9 904.0L1557.3 905.7L1557.6 907.2L1558.0 908.6L1558.3 910.3L1558.6 911.8L1559.0 913.4L1559.3 915.0L1559.7 916.5L1560.0 918.0L1560.4 919.4L1560.7 920.9L1561.1 922.7L1561.4 924.3L1561.8 926.0L1562.1 927.4L1562.5 928.8L1562.8 930.3L1563.2 931.9L1563.5 933.2L1563.9 934.9L1564.2 936.3L1564.6 938.0L1564.9 939.6L1565.3 941.0L1565.6 942.3L1566.0 943.5L1566.4 944.9L1566.7 946.6L1567.1 948.3L1567.4 949.7L1567.8 951.2L1568.1 952.5L1568.5 953.9L1568.9 955.1L1569.3 956.7L1569.7 958.1L1570.0 959.4L1570.5 961.2L1570.8 962.8L1571.2 964.2L1571.6 965.6L1572.0 967.4L1572.5 969.1L1572.9 970.3L1573.3 971.9L1573.7 973.6L1574.1 975.3L1574.6 977.1L1575.0 978.4L1575.4 979.4L1575.9 981.1L1576.3 982.9L1576.7 984.5L1577.2 986.2L1577.6 987.5L1578.0 988.9L1578.5 990.6L1579.0 992.1L1579.5 993.3L1580.0 994.7L1580.5 996.3L1581.0 997.8L1581.5 999.3L1582.0 1000.8L1582.5 1002.3L1583.1 1003.8L1583.6 1005.1L1584.1 1006.7L1584.6 1008.1L1585.2 1009.1L1585.7 1010.8L1586.3 1012.5L1586.9 1013.8L1587.5 1015.4L1588.1 1017.0L1588.8 1018.6L1589.4 1020.0L1590.1 1021.5L1590.7 1023.2L1591.3 1024.7L1592.0 1026.1L1592.6 1027.5L1593.1 1028.9L1593.7 1030.4L1594.2 1031.5L1594.7 1032.8L1595.4 1034.5L1595.9 1036.0L1596.3 1037.4L1596.8 1038.7L1597.1 1039.9L1597.5 1041.5L1598.0 1042.9L1598.5 1044.2L1599.1 1045.4L1599.9 1046.7L1600.5 1047.3L1601.2 1050.7L1602.0 1052.7L1602.8 1052.2L1603.6 1052.8L1604.4 1055.3L1605.3 1056.6L1606.2 1057.4L1607.2 1058.6L1608.2 1059.9L1609.1 1062.1L1610.1 1063.5L1611.2 1064.0L1612.1 1064.9L1613.1 1066.7L1614.1 1067.0L1615.1 1067.9L1616.2 1070.0L1617.3 1070.6L1618.3 1071.3L1619.4 1073.1L1620.6 1074.1L1621.7 1074.3L1622.8 1076.0L1624.0 1077.2L1625.1 1078.7L1626.3 1079.0L1627.6 1080.2L1628.9 1081.0L1630.2 1081.9L1631.5 1082.1L1632.9 1082.6L1634.2 1083.0L1635.6 1083.5L1637.0 1084.1L1638.3 1085.3L1639.7 1085.4L1641.1 1085.9L1642.4 1086.4L1643.8 1086.7L1645.3 1088.0L1646.7 1089.6L1648.2 1089.0L1649.6 1089.9L1651.1 1090.8L1652.5 1091.0L1654.0 1092.0L1655.5 1092.0L1656.9 1092.8L1658.4 1092.9L1659.8 1093.4L1661.3 1094.2L1662.9 1093.7L1664.5 1094.3L1666.1 1094.7L1667.8 1095.1L1669.4 1096.5L1671.0 1096.4L1672.6 1096.5L1674.2 1096.9L1675.8 1096.8L1677.3 1097.3L1678.8 1097.0L1680.4 1097.6L1682.0 1098.6L1683.5 1098.7L1685.0 1098.8L1686.5 1100.0L1687.9 1101.0L1689.4 1100.8L1690.8 1101.2L1692.3 1101.5L1693.8 1103.5L1695.2 1104.1L1696.5 1104.7L1697.9 1104.8L1699.3 1104.8L1700.6 1106.0L1702.0 1106.4L1703.3 1106.6L1704.7 1108.9L1706.1 1109.2L1707.4 1110.0L1708.8 1111.8L1710.0 1112.3L1711.3 1113.8L1712.5 1114.3L1713.8 1115.1L1715.0 1115.0L1716.3 1115.0L1717.5 1116.6L1718.8 1118.6L1720.0 1119.3L1721.3 1119.4L1722.5 1120.4L1723.8 1121.9L1725.2 1122.6L1726.5 1123.0L1727.9 1123.1L1729.3 1123.4L1730.6 1124.6L1732.0 1125.9L1733.3 1126.9L1734.7 1126.8L1736.1 1126.9L1737.4 1128.0L1738.8 1129.6L1740.3 1130.7L1741.8 1131.0L1743.3 1131.3L1744.8 1130.6L1746.3 1131.5L1747.8 1132.9L1749.3 1133.1L1750.8 1132.6L1752.3 1133.9L1753.8 1135.0L1755.2 1135.1L1756.5 1136.3L1757.9 1137.1L1759.3 1138.1L1760.6 1138.7L1762.0 1139.7L1763.3 1141.0L1764.7 1140.9L1766.1 1141.2L1767.4 1141.7L1768.8 1142.2L1770.3 1143.3L1771.8 1144.2L1773.3 1144.4L1774.8 1145.1L1776.3 1146.5L1777.8 1146.5L1779.3 1146.2L1780.8 1147.0L1782.3 1148.1L1783.8 1149.6L1785.3 1149.3L1786.8 1148.6L1788.2 1149.6L1789.7 1150.3L1791.1 1150.8L1792.6 1152.1L1794.1 1153.1L1795.6 1152.9L1797.2 1153.3L1798.8 1153.8L1800.3 1154.0L1801.8 1155.1L1803.4 1154.7L1805.0 1154.5L1806.6 1155.5L1808.2 1156.5L1809.8 1156.4L1811.5 1156.7L1813.1 1156.9L1814.7 1157.3L1816.3 1157.4L1817.9 1157.3L1819.5 1157.7L1821.1 1158.2L1822.7 1158.7L1824.3 1159.7L1825.8 1159.8L1827.4 1160.0L1829.0 1160.0L1830.6 1160.1L1832.2 1160.0L1833.8 1159.7L1835.4 1160.7L1837.0 1160.4L1838.6 1161.1L1840.3 1161.6L1841.9 1160.3L1843.5 1161.1L1845.1 1161.6L1846.7 1160.8L1848.3 1162.2L1849.8 1163.2L1851.3 1163.2L1853.0 1162.9L1854.7 1163.5L1856.5 1163.5L1858.2 1164.0L1859.9 1164.0L1861.5 1163.4L1863.0 1163.5L1864.3 1164.3L1865.4 1164.6L1866.3 1165.6" stroke="#002060" stroke-width="5.9" stroke-dasharray="12.3 12.4" stroke-dashoffset="2.5"/>
<path d="M1439.8 1144.1L1440.6 1143.7L1441.6 1143.2L1443.0 1142.6L1444.4 1141.6L1445.8 1140.5L1447.2 1139.6L1448.5 1138.2L1449.2 1137.2L1449.9 1136.2L1450.6 1134.8L1451.3 1133.5L1452.0 1132.4L1452.7 1130.9L1453.3 1129.4L1454.0 1127.9L1454.7 1126.4L1455.3 1124.8L1456.0 1122.9L1456.4 1121.8L1456.9 1120.6L1457.3 1119.1L1457.8 1117.5L1458.2 1116.4L1458.7 1114.9L1459.2 1113.2L1459.6 1111.7L1460.1 1110.0L1460.5 1108.7L1460.9 1107.5L1461.4 1105.9L1461.8 1104.2L1462.3 1102.5L1462.7 1100.9L1463.1 1099.4L1463.5 1098.0L1463.9 1096.5L1464.3 1095.2L1464.7 1093.5L1465.0 1091.9L1465.4 1090.5L1465.7 1089.1L1466.1 1087.9L1466.4 1086.3L1466.8 1084.6L1467.1 1083.2L1467.5 1081.8L1467.8 1080.4L1468.2 1079.2L1468.6 1077.7L1469.0 1076.1L1469.3 1074.4L1469.8 1072.9L1470.2 1071.4L1470.6 1069.9L1471.1 1068.3L1471.6 1066.9L1472.0 1065.4L1472.5 1063.9L1473.0 1062.5L1473.5 1060.8L1474.0 1059.2L1474.5 1057.4L1475.0 1056.2L1475.5 1054.9L1475.9 1053.5L1476.4 1052.1L1476.8 1050.5L1477.1 1049.3L1477.5 1048.1L1478.0 1046.1L1478.4 1044.4L1478.8 1042.8L1479.2 1041.5L1479.5 1040.2L1479.8 1038.6L1480.1 1037.0L1480.3 1035.9L1480.6 1034.3L1480.9 1032.5L1481.2 1031.0L1481.5 1029.8L1481.8 1028.2L1482.0 1026.7L1482.2 1025.4L1482.5 1024.3L1482.8 1022.9L1483.0 1021.1L1483.2 1019.6L1483.5 1018.0L1483.8 1016.3L1484.0 1014.8L1484.2 1013.0L1484.5 1011.4L1484.8 1009.8L1485.0 1008.3L1485.2 1006.9L1485.5 1005.5L1485.7 1003.9L1485.9 1002.4L1486.1 1000.7L1486.4 999.1L1486.6 998.0L1486.8 996.4L1487.0 994.6L1487.3 993.0L1487.5 991.2L1487.7 989.7L1488.0 988.4L1488.2 986.8L1488.5 985.3L1488.8 983.6L1489.0 982.3L1489.3 980.7L1489.5 978.7L1489.8 977.2L1490.1 975.9L1490.4 974.2L1490.7 972.7L1491.0 971.4L1491.2 969.8L1491.5 968.4L1491.8 966.9L1492.1 965.0L1492.4 963.5L1492.7 962.1L1493.0 960.5L1493.2 959.1L1493.5 957.6L1493.8 955.8L1494.0 954.1L1494.3 952.6L1494.5 951.1L1494.8 949.6L1495.0 948.1L1495.2 946.5L1495.5 945.1L1495.7 943.7L1495.9 941.6L1496.1 940.0L1496.4 938.6L1496.6 937.1L1496.8 935.6L1497.0 934.2L1497.3 932.6L1497.5 930.9L1497.7 929.4L1498.0 927.9L1498.2 926.3L1498.4 924.7L1498.7 923.3L1498.9 921.9L1499.1 920.2L1499.4 918.4L1499.6 917.1L1499.8 915.5L1500.1 913.9L1500.3 912.3L1500.5 910.9L1500.8 909.2L1501.0 907.5L1501.2 906.0L1501.5 904.4L1501.7 902.7L1502.0 901.0L1502.2 899.8L1502.5 898.1L1502.7 896.3L1503.0 894.3L1503.2 892.6L1503.4 891.2L1503.7 889.7L1503.9 888.2L1504.2 886.6L1504.4 885.0L1504.6 883.7L1504.8 882.3L1505.0 881.0L1505.3 879.1L1505.5 877.4L1505.8 875.9L1506.0 874.6L1506.2 873.3L1506.4 872.0L1506.6 870.4L1506.9 869.1L1507.2 867.9L1507.5 866.0L1507.8 864.7L1508.1 863.4L1508.5 861.6L1508.8 859.9L1509.2 858.6L1509.6 857.0L1510.0 855.6L1510.4 853.8L1510.8 852.1L1511.2 850.6L1511.6 849.1L1512.1 847.6L1512.5 846.2L1513.0 844.4L1513.5 842.5L1513.9 841.1L1514.4 839.6L1515.0 838.0L1515.5 836.3L1516.0 834.8L1516.5 833.5L1517.1 832.3L1517.6 831.0L1518.2 829.6L1518.8 828.6L1519.8 826.8L1520.8 825.5L1521.9 824.4L1523.0 823.4L1524.1 822.4L1525.2 821.3L1526.2 821.0L1527.8 820.8L1529.3 820.8L1530.8 821.3L1532.3 822.2L1533.8 823.5L1534.5 824.4L1535.2 825.4L1535.9 826.7L1536.6 828.1L1537.3 829.6L1538.0 830.9L1538.6 832.4L1539.3 834.3L1540.0 836.0L1540.5 837.2L1541.0 838.4L1541.4 840.0L1541.9 841.5L1542.4 843.0L1542.9 844.6L1543.4 845.9L1543.8 847.6L1544.3 849.2L1544.8 850.8L1545.3 852.6L1545.8 854.4L1546.2 856.1L1546.6 857.4L1547.0 858.7L1547.4 860.2L1547.7 861.5L1548.1 862.7L1548.5 864.4L1548.8 865.9L1549.2 867.1L1549.6 868.6L1549.9 870.2L1550.3 871.6L1550.7 873.3L1551.0 874.9L1551.4 876.3L1551.8 878.0L1552.1 879.6L1552.5 881.1L1552.8 882.5L1553.2 883.8L1553.5 885.2L1553.9 886.9L1554.2 888.3L1554.6 889.9L1554.9 891.5L1555.3 892.8L1555.6 894.5L1556.0 896.2L1556.3 897.6L1556.7 899.1L1557.0 900.7L1557.4 902.2L1557.7 903.8L1558.1 905.5L1558.4 907.0L1558.8 908.6L1559.1 910.4L1559.4 912.0L1559.8 913.3L1560.1 914.9L1560.5 916.3L1560.8 917.8L1561.2 919.3L1561.5 920.9L1561.9 922.4L1562.2 923.8L1562.6 925.4L1562.9 926.8L1563.3 928.6L1563.6 930.0L1564.0 931.6L1564.3 933.1L1564.7 934.4L1565.0 935.9L1565.4 937.4L1565.7 938.9L1566.1 940.6L1566.4 942.1L1566.8 943.4L1567.2 944.8L1567.5 946.1L1567.9 947.5L1568.2 949.1L1568.6 950.8L1569.0 952.1L1569.3 953.6L1569.7 955.2L1570.1 956.6L1570.5 957.9L1570.8 959.4L1571.2 961.0L1571.6 962.4L1572.0 963.7L1572.4 965.3L1572.7 966.7L1573.1 968.2L1573.5 969.7L1573.9 971.3L1574.3 972.9L1574.7 974.3L1575.1 975.6L1575.5 977.0L1575.9 978.6L1576.3 980.3L1576.7 981.9L1577.1 982.8L1577.6 984.1L1578.0 985.6L1578.4 986.9L1578.8 988.3L1579.2 990.1L1579.7 991.7L1580.2 993.4L1580.7 994.9L1581.2 996.3L1581.7 997.7L1582.2 999.3L1582.7 1000.8L1583.2 1002.2L1583.7 1003.7L1584.2 1005.2L1584.7 1006.5L1585.2 1008.1L1585.7 1009.7L1586.2 1011.0L1586.8 1012.4L1587.3 1014.0L1587.9 1015.5L1588.4 1016.8L1589.0 1018.1L1589.6 1019.7L1590.2 1021.2L1590.8 1022.8L1591.4 1024.5L1591.9 1025.5L1592.5 1026.9L1593.0 1028.5L1593.6 1029.8L1594.1 1030.9L1594.6 1032.2L1595.0 1033.6L1595.6 1035.3L1596.1 1036.9L1596.6 1038.3L1597.0 1039.9L1597.4 1041.3L1597.7 1042.5L1598.2 1043.8L1598.7 1045.2L1599.3 1046.6L1600.0 1048.6L1600.6 1048.8L1601.3 1049.9L1602.0 1051.7L1602.8 1053.5L1603.6 1055.1L1604.4 1055.6L1605.3 1056.4L1606.2 1058.4L1607.1 1059.0L1608.1 1060.1L1609.0 1062.4L1610.0 1064.4L1611.0 1065.9L1611.9 1067.2L1612.9 1067.6L1613.9 1069.3L1614.9 1070.6L1616.0 1071.6L1617.0 1073.5L1618.1 1074.7L1619.2 1075.3L1620.3 1075.5L1621.4 1077.2L1622.5 1078.6L1623.7 1078.8L1624.8 1079.4L1626.0 1079.5L1627.3 1080.4L1628.6 1081.8L1629.9 1082.6L1631.2 1083.2L1632.5 1084.3L1633.9 1084.9L1635.3 1085.1L1636.7 1086.0L1638.0 1087.5L1639.4 1088.1L1640.8 1088.6L1642.1 1089.2L1643.5 1089.3L1645.0 1089.5L1646.4 1090.5L1647.9 1090.7L1649.3 1091.4L1650.8 1092.3L1652.2 1092.9L1653.7 1093.9L1655.2 1094.3L1656.6 1094.4L1658.1 1094.7L1659.5 1095.2L1661.0 1095.6L1662.6 1096.3L1664.2 1096.7L1665.8 1096.8L1667.5 1097.1L1669.1 1097.4L1670.7 1098.8L1672.3 1099.2L1673.9 1098.5L1675.5 1097.9L1677.0 1098.0L1678.5 1099.1L1680.1 1100.1L1681.7 1100.6L1683.2 1100.9L1684.7 1101.7L1686.2 1102.1L1687.6 1102.7L1689.1 1103.1L1690.5 1103.8L1692.0 1104.1L1693.5 1103.8L1694.9 1104.4L1696.2 1104.9L1697.6 1105.5L1699.0 1106.4L1700.3 1106.9L1701.7 1107.0L1703.0 1108.8L1704.4 1111.5L1705.8 1112.5L1707.1 1111.9L1708.5 1113.0L1709.8 1114.0L1711.0 1113.9L1712.2 1115.3L1713.5 1116.5L1714.8 1116.8L1716.0 1118.0L1717.2 1118.9L1718.5 1120.0L1719.8 1120.9L1721.0 1121.6L1722.2 1122.3L1723.5 1123.4L1724.9 1124.3L1726.2 1124.7L1727.6 1125.6L1729.0 1126.4L1730.3 1126.4L1731.7 1127.2L1733.0 1127.8L1734.4 1129.0L1735.8 1129.9L1737.1 1129.6L1738.5 1130.5L1740.0 1130.7L1741.5 1131.1L1743.0 1132.5L1744.5 1133.5L1746.0 1133.5L1747.5 1134.3L1749.0 1135.4L1750.5 1135.4L1752.0 1135.5L1753.5 1136.4L1754.9 1136.9L1756.2 1137.9L1757.6 1139.3L1759.0 1139.3L1760.3 1139.9L1761.7 1140.7L1763.0 1141.9L1764.4 1142.0L1765.8 1141.7L1767.1 1142.9L1768.5 1144.5L1770.0 1144.5L1771.5 1145.0L1773.0 1145.7L1774.5 1147.1L1776.0 1147.5L1777.5 1147.9L1779.0 1148.5L1780.5 1149.2L1782.0 1150.1L1783.5 1151.5L1785.0 1151.9L1786.5 1151.2L1787.9 1151.4L1789.4 1152.0L1790.8 1152.4L1792.3 1153.5L1793.8 1153.7L1795.3 1154.4L1796.9 1155.9L1798.5 1156.0L1800.0 1156.0L1801.5 1155.6L1803.1 1156.0L1804.7 1157.5L1806.3 1158.2L1807.9 1157.9L1809.5 1158.7L1811.2 1159.4L1812.8 1158.4L1814.4 1158.7L1816.0 1159.7L1817.6 1160.1L1819.2 1159.8L1820.8 1159.9L1822.4 1160.5L1824.0 1159.2L1825.5 1159.5L1827.1 1161.2L1828.7 1161.3L1830.3 1160.9L1831.9 1161.1L1833.5 1161.8L1835.1 1161.8L1836.7 1161.4L1838.3 1162.1L1840.0 1163.5L1841.6 1163.8L1843.2 1163.2L1844.8 1163.3L1846.4 1163.9L1848.0 1164.0L1849.5 1164.6L1851.0 1163.9L1852.7 1163.1L1854.4 1163.6L1856.2 1163.9L1857.9 1164.6L1859.6 1165.2L1861.2 1165.4L1862.7 1166.5L1864.0 1166.8L1865.1 1166.3L1866.0 1166.8" stroke="#00B050" stroke-width="5.9" stroke-dasharray="12.3 12.4" stroke-dashoffset="0"/>
<path d="M1441.8 1125.3L1441.9 1124.8L1442.1 1123.6L1442.3 1122.4L1442.5 1121.0L1442.8 1119.6L1443.0 1118.5L1443.3 1116.9L1443.6 1115.2L1443.9 1113.4L1444.3 1111.5L1444.6 1110.4L1444.9 1108.1L1445.2 1106.1L1445.5 1104.9L1445.9 1102.8L1446.2 1100.8L1446.5 1099.3L1446.8 1097.7L1447.1 1096.2L1447.4 1094.8L1447.7 1093.2L1448.0 1091.4L1448.3 1090.2L1448.6 1088.5L1448.9 1086.7L1449.2 1085.4L1449.5 1083.8L1449.8 1082.6L1450.1 1080.7L1450.4 1079.3L1450.7 1078.0L1451.1 1076.1L1451.4 1074.7L1451.8 1072.9L1452.1 1071.3L1452.4 1069.6L1452.8 1067.8L1453.1 1066.9L1453.5 1065.2L1453.9 1063.4L1454.3 1062.2L1454.6 1060.4L1455.0 1058.1L1455.4 1056.5L1455.8 1054.9L1456.1 1053.5L1456.5 1051.9L1456.8 1050.3L1457.2 1049.0L1457.5 1047.8L1457.7 1046.6L1458.0 1045.3L1458.5 1043.7L1458.8 1042.1L1459.1 1041.0L1459.3 1040.0L1459.5 1038.4L1459.8 1037.1L1460.1 1035.6L1460.5 1032.8L1460.7 1032.1L1460.9 1031.6L1461.1 1030.2L1461.3 1028.0L1461.5 1027.1L1461.8 1025.6L1462.0 1024.0L1462.3 1023.0L1462.5 1021.6L1462.8 1020.0L1463.0 1018.0L1463.3 1016.4L1463.6 1014.7L1463.8 1013.1L1464.1 1011.6L1464.4 1009.9L1464.7 1008.6L1464.9 1006.6L1465.2 1004.8L1465.5 1003.1L1465.8 1001.9L1466.0 1000.8L1466.3 999.1L1466.6 997.8L1466.8 996.5L1467.1 994.5L1467.4 993.8L1467.7 992.7L1468.0 990.6L1468.3 989.2L1468.5 988.2L1468.8 986.5L1469.1 984.8L1469.4 983.2L1469.7 981.4L1470.0 979.8L1470.3 978.6L1470.6 977.3L1470.9 975.7L1471.2 974.1L1471.5 972.6L1471.8 971.2L1472.0 969.7L1472.3 967.8L1472.6 966.3L1472.9 965.0L1473.1 963.1L1473.4 961.3L1473.7 960.0L1474.0 958.8L1474.3 957.2L1474.5 955.8L1474.8 953.7L1475.1 951.8L1475.4 951.1L1475.6 949.7L1475.9 947.7L1476.2 946.2L1476.5 944.8L1476.7 943.3L1477.0 941.8L1477.2 940.1L1477.5 938.6L1477.8 937.6L1478.0 936.0L1478.3 933.8L1478.6 932.2L1478.9 930.4L1479.2 928.5L1479.5 927.7L1479.8 926.6L1480.0 924.3L1480.3 922.7L1480.6 921.5L1480.8 920.3L1481.1 918.8L1481.4 917.7L1481.6 916.1L1481.9 914.4L1482.2 913.1L1482.5 911.6L1482.7 909.6L1483.0 908.3L1483.3 907.2L1483.6 905.3L1483.8 903.4L1484.1 902.0L1484.4 901.1L1484.7 899.8L1485.0 898.0L1485.3 896.0L1485.5 894.7L1485.8 893.4L1486.1 891.8L1486.4 890.1L1486.7 888.7L1486.9 887.2L1487.2 885.3L1487.5 884.0L1487.7 882.5L1488.0 881.3L1488.3 879.5L1488.5 877.3L1488.7 876.1L1489.0 874.8L1489.2 873.1L1489.4 871.5L1489.6 869.9L1489.8 868.6L1490.0 867.3L1490.3 865.6L1490.5 864.0L1490.7 862.0L1490.9 860.2L1491.2 858.8L1491.4 857.6L1491.7 856.0L1492.0 854.3L1492.2 853.5L1492.7 852.1L1493.1 849.9L1493.5 848.5L1494.0 847.2L1494.5 844.9L1494.9 843.2L1495.4 842.1L1495.9 840.4L1496.4 838.7L1496.9 837.5L1497.5 836.6L1498.0 834.9L1498.5 833.4L1499.3 831.5L1500.0 829.5L1500.8 828.5L1501.6 827.3L1502.4 825.3L1503.3 823.8L1504.1 822.9L1504.9 822.0L1505.8 821.5L1507.3 820.5L1508.8 819.0L1510.4 818.6L1512.0 819.7L1513.5 820.9L1514.2 822.0L1514.9 823.1L1515.6 824.1L1516.2 825.7L1516.9 826.8L1517.6 827.6L1518.3 829.1L1519.0 831.1L1519.6 832.5L1520.3 834.0L1521.0 836.4L1521.5 837.4L1522.0 838.6L1522.5 840.3L1523.0 841.5L1523.5 842.6L1524.0 844.2L1524.5 846.2L1525.0 847.7L1525.5 849.3L1526.0 850.4L1526.5 852.2L1527.0 853.7L1527.5 854.9L1528.0 856.5L1528.5 858.1L1528.9 859.8L1529.4 861.3L1529.8 862.5L1530.3 864.3L1530.7 865.9L1531.1 867.1L1531.6 868.6L1532.0 869.9L1532.5 871.4L1532.9 873.1L1533.4 874.8L1533.8 876.2L1534.2 877.5L1534.7 879.1L1535.1 880.7L1535.6 881.7L1536.0 883.6L1536.4 884.8L1536.8 885.8L1537.2 887.4L1537.6 889.0L1538.0 890.6L1538.4 891.8L1538.8 893.4L1539.2 894.9L1539.6 895.9L1539.9 897.2L1540.3 898.8L1540.7 900.6L1541.1 902.3L1541.5 903.6L1541.9 904.8L1542.3 906.5L1542.7 908.3L1543.1 909.6L1543.5 911.0L1543.9 912.4L1544.3 913.8L1544.7 915.1L1545.1 916.6L1545.5 918.2L1545.9 919.1L1546.3 920.9L1546.7 922.7L1547.1 924.2L1547.4 925.6L1547.8 927.0L1548.2 928.6L1548.6 930.4L1549.0 931.3L1549.4 932.6L1549.8 934.3L1550.2 935.5L1550.6 936.6L1551.0 937.9L1551.4 940.2L1551.9 941.9L1552.3 943.0L1552.8 944.4L1553.2 946.0L1553.6 947.5L1554.1 949.2L1554.5 950.3L1555.0 951.5L1555.4 953.0L1555.9 954.7L1556.3 956.1L1556.7 957.9L1557.2 959.4L1557.6 960.7L1558.1 962.5L1558.5 964.1L1558.9 965.3L1559.4 966.5L1559.8 967.8L1560.3 969.5L1560.7 971.2L1561.1 972.2L1561.6 974.2L1562.0 975.6L1562.5 977.2L1562.9 978.5L1563.4 979.6L1563.8 981.4L1564.2 983.0L1564.7 984.7L1565.1 986.1L1565.6 987.3L1566.0 988.8L1566.5 990.6L1567.0 991.8L1567.5 993.1L1567.9 994.4L1568.4 996.2L1568.9 997.8L1569.4 998.7L1569.8 1000.3L1570.3 1001.9L1570.8 1003.3L1571.3 1004.7L1571.8 1006.3L1572.4 1007.7L1572.9 1009.4L1573.5 1011.1L1574.1 1012.4L1574.7 1013.9L1575.3 1015.4L1575.9 1017.3L1576.6 1018.4L1577.3 1019.4L1578.0 1021.2L1578.7 1023.0L1579.3 1024.5L1580.0 1025.7L1580.7 1027.0L1581.3 1028.8L1581.9 1030.0L1582.5 1031.3L1583.0 1032.3L1583.5 1032.9L1584.2 1035.0L1584.7 1036.6L1585.1 1038.1L1585.5 1040.1L1585.8 1041.7L1586.2 1042.6L1586.6 1043.7L1587.1 1044.5L1587.7 1046.1L1588.5 1047.8L1589.2 1048.7L1589.9 1050.5L1590.7 1052.0L1591.5 1053.1L1592.4 1054.1L1593.3 1055.1L1594.3 1056.2L1595.2 1058.0L1596.2 1059.5L1597.2 1060.7L1598.2 1062.1L1599.1 1063.3L1600.1 1064.3L1601.0 1066.3L1601.9 1067.2L1602.9 1068.2L1603.8 1068.2L1604.7 1069.2L1605.6 1072.4L1606.5 1072.7L1607.4 1073.8L1608.3 1074.2L1609.3 1076.0L1610.3 1077.9L1611.3 1078.4L1612.4 1078.4L1613.5 1079.4L1614.6 1080.6L1615.7 1082.1L1616.9 1083.6L1618.1 1084.5L1619.4 1085.6L1620.7 1087.1L1621.9 1086.9L1623.2 1087.5L1624.5 1090.3L1625.9 1090.4L1627.2 1091.4L1628.5 1092.1L1629.7 1090.9L1631.0 1092.6L1632.3 1094.4L1633.7 1094.7L1635.0 1095.1L1636.4 1095.9L1637.7 1097.1L1639.1 1098.1L1640.4 1097.3L1641.8 1098.6L1643.1 1099.7L1644.5 1100.2L1645.8 1100.7L1647.2 1101.1L1648.5 1100.9L1650.0 1101.6L1651.4 1101.0L1652.9 1102.6L1654.3 1103.4L1655.8 1105.3L1657.2 1105.4L1658.7 1104.3L1660.2 1104.8L1661.6 1107.2L1663.1 1106.2L1664.5 1106.1L1666.0 1108.2L1667.5 1109.3L1668.9 1109.9L1670.4 1110.2L1671.8 1110.9L1673.3 1110.4L1674.8 1110.9L1676.2 1112.0L1677.7 1112.6L1679.1 1113.3L1680.6 1114.8L1682.0 1114.8L1683.5 1115.7L1685.0 1116.8L1686.4 1116.6L1687.8 1116.3L1689.2 1117.0L1690.7 1118.9L1692.1 1120.2L1693.5 1120.1L1695.0 1120.6L1696.4 1121.4L1697.9 1122.9L1699.5 1123.2L1701.0 1123.6L1702.3 1124.0L1703.5 1126.2L1704.8 1127.8L1706.2 1128.2L1707.5 1128.1L1708.8 1129.2L1710.2 1130.4L1711.5 1130.8L1712.9 1131.5L1714.2 1131.3L1715.6 1131.8L1717.0 1134.1L1718.3 1133.0L1719.7 1134.1L1721.0 1136.1L1722.6 1137.0L1724.1 1137.0L1725.7 1136.6L1727.3 1136.0L1728.9 1137.5L1730.5 1138.9L1732.1 1138.2L1733.7 1136.6L1735.2 1136.4L1736.7 1138.4L1738.2 1139.4L1739.6 1139.0L1741.0 1139.2L1742.7 1139.3L1744.4 1140.4L1745.9 1141.2L1747.5 1141.4L1749.0 1141.6L1750.4 1142.8L1751.8 1143.4L1753.2 1143.6L1754.6 1144.5L1756.0 1146.5L1757.5 1145.7L1758.9 1145.0L1760.4 1146.6L1761.7 1146.9L1763.1 1148.3L1764.4 1149.9L1765.8 1150.7L1767.1 1153.3L1768.5 1154.0L1770.0 1152.8L1771.5 1152.6L1773.0 1153.1L1774.4 1153.3L1775.9 1153.6L1777.5 1154.2L1779.2 1154.5L1781.0 1154.0L1782.4 1152.6L1783.8 1153.7L1785.3 1153.4L1786.9 1154.1L1788.5 1154.6L1790.1 1154.6L1791.7 1156.1L1793.4 1156.1L1795.1 1156.3L1796.8 1157.4L1798.5 1157.6L1800.0 1155.7L1801.5 1155.4L1803.1 1156.8L1804.7 1156.9L1806.4 1157.6L1808.0 1158.4L1809.6 1157.7L1811.2 1157.6L1812.8 1157.9L1814.3 1158.1L1815.8 1157.9L1817.2 1158.0L1818.5 1158.9L1820.2 1160.4L1821.8 1160.0L1823.2 1159.8L1824.6 1160.8L1825.9 1161.2L1827.1 1161.4L1828.4 1162.7L1829.7 1163.6L1831.0 1165.3L1832.4 1166.9L1833.7 1168.1L1835.1 1169.6L1836.4 1169.7L1837.8 1168.9L1839.1 1169.7L1840.6 1170.4L1842.0 1171.7L1843.5 1171.9L1844.9 1171.5L1846.5 1171.4L1848.1 1172.8L1849.7 1172.4L1851.3 1172.3L1852.9 1173.3L1854.5 1173.1L1855.9 1171.2L1857.3 1170.5L1858.5 1171.6L1860.6 1169.0L1862.4 1167.6L1863.9 1168.6L1865.1 1167.5L1866.0 1167.9" stroke="#C00000" stroke-width="5.9" stroke-dasharray="12.3 12.4" stroke-dashoffset="0"/>
</g>
<g font-family="'Liberation Sans', sans-serif" font-weight="bold" fill="#000">
<text transform="translate(1127.00 1188.50) scale(0.985 1.055)" font-size="33.3" text-anchor="end">0.00</text>
<text transform="translate(1897.20 1188.50) scale(0.985 1.055)" font-size="33.3">0.00</text>
<text transform="translate(1127.00 1117.00) scale(0.985 1.055)" font-size="33.3" text-anchor="end">0.20</text>
<text transform="translate(1897.20 1117.00) scale(0.985 1.055)" font-size="33.3">0.20</text>
<text transform="translate(1127.00 1045.50) scale(0.985 1.055)" font-size="33.3" text-anchor="end">0.40</text>
<text transform="translate(1897.20 1045.50) scale(0.985 1.055)" font-size="33.3">0.40</text>
<text transform="translate(1127.00 974.00) scale(0.985 1.055)" font-size="33.3" text-anchor="end">0.60</text>
<text transform="translate(1897.20 974.00) scale(0.985 1.055)" font-size="33.3">0.60</text>
<text transform="translate(1127.00 902.50) scale(0.985 1.055)" font-size="33.3" text-anchor="end">0.80</text>
<text transform="translate(1897.20 902.50) scale(0.985 1.055)" font-size="33.3">0.80</text>
<text transform="translate(1127.00 831.00) scale(0.985 1.055)" font-size="33.3" text-anchor="end">1.00</text>
<text transform="translate(1897.20 831.00) scale(0.985 1.055)" font-size="33.3">1.00</text>
<text transform="translate(1127.00 759.50) scale(0.985 1.055)" font-size="33.3" text-anchor="end">1.20</text>
<text transform="translate(1897.20 759.50) scale(0.985 1.055)" font-size="33.3">1.20</text>
<text transform="translate(1155.60 1228.30) scale(0.985 1.055)" font-size="33.3" text-anchor="middle">600</text>
<text transform="translate(1333.90 1228.30) scale(0.985 1.055)" font-size="33.3" text-anchor="middle">700</text>
<text transform="translate(1512.20 1228.30) scale(0.985 1.055)" font-size="33.3" text-anchor="middle">800</text>
<text transform="translate(1690.50 1228.30) scale(0.985 1.055)" font-size="33.3" text-anchor="middle">900</text>
<text transform="translate(1868.80 1228.30) scale(0.985 1.055)" font-size="33.3" text-anchor="middle">1000</text>
<text transform="translate(1514.60 1277.40) scale(0.992 1.03)" font-size="33.3" text-anchor="middle">Wavelength (nm)</text>
<text transform="translate(1054.90 962.50) rotate(-90) scale(0.992 1.03)" font-size="33.3" text-anchor="middle">Normalized Absorbance</text>
<text transform="translate(1994.60 962.50) rotate(-90) scale(0.992 1.03)" font-size="33.3" text-anchor="middle">Normalized Emission</text>
<text transform="translate(1167.80 811.00) scale(1 1.03)" font-size="47.5">MeOH</text>
</g>
<g fill="none" stroke-linecap="round" stroke-width="6.4">
<path d="M1119.5 1305.9H1178.5" stroke="#002060"/>
<path d="M1539.2 1305.9h11.4M1563.0 1305.9h11.4M1586.8 1305.9h11.4" stroke="#002060"/>
<path d="M1119.5 1338.4H1178.5" stroke="#00B050"/>
<path d="M1539.2 1338.4h11.4M1563.0 1338.4h11.4M1586.8 1338.4h11.4" stroke="#00B050"/>
<path d="M1119.5 1371.4H1178.5" stroke="#C00000"/>
<path d="M1539.2 1371.4h11.4M1563.0 1371.4h11.4M1586.8 1371.4h11.4" stroke="#C00000"/>
</g>
<g font-family="'Liberation Sans', sans-serif" font-weight="bold" fill="#000">
<text transform="translate(1184.40 1314.30) scale(1 1.05)" font-size="28.4">Abs-IR794-COOH</text>
<text transform="translate(1605.40 1314.30) scale(1 1.05)" font-size="28.4">Flu-IR794-COOH</text>
<text transform="translate(1184.40 1346.80) scale(1 1.05)" font-size="28.4">Abs-IR794-Morph</text>
<text transform="translate(1605.40 1346.80) scale(1 1.05)" font-size="28.4">Flu-IR794-Morph</text>
<text transform="translate(1184.40 1379.80) scale(1 1.05)" font-size="28.4">Abs-IR794-Morph-Mpip</text>
<text transform="translate(1605.40 1379.80) scale(1 1.05)" font-size="28.4">Flu-IR794-Morph-Mpip</text>
</g>
</g>
</svg></body></html>
